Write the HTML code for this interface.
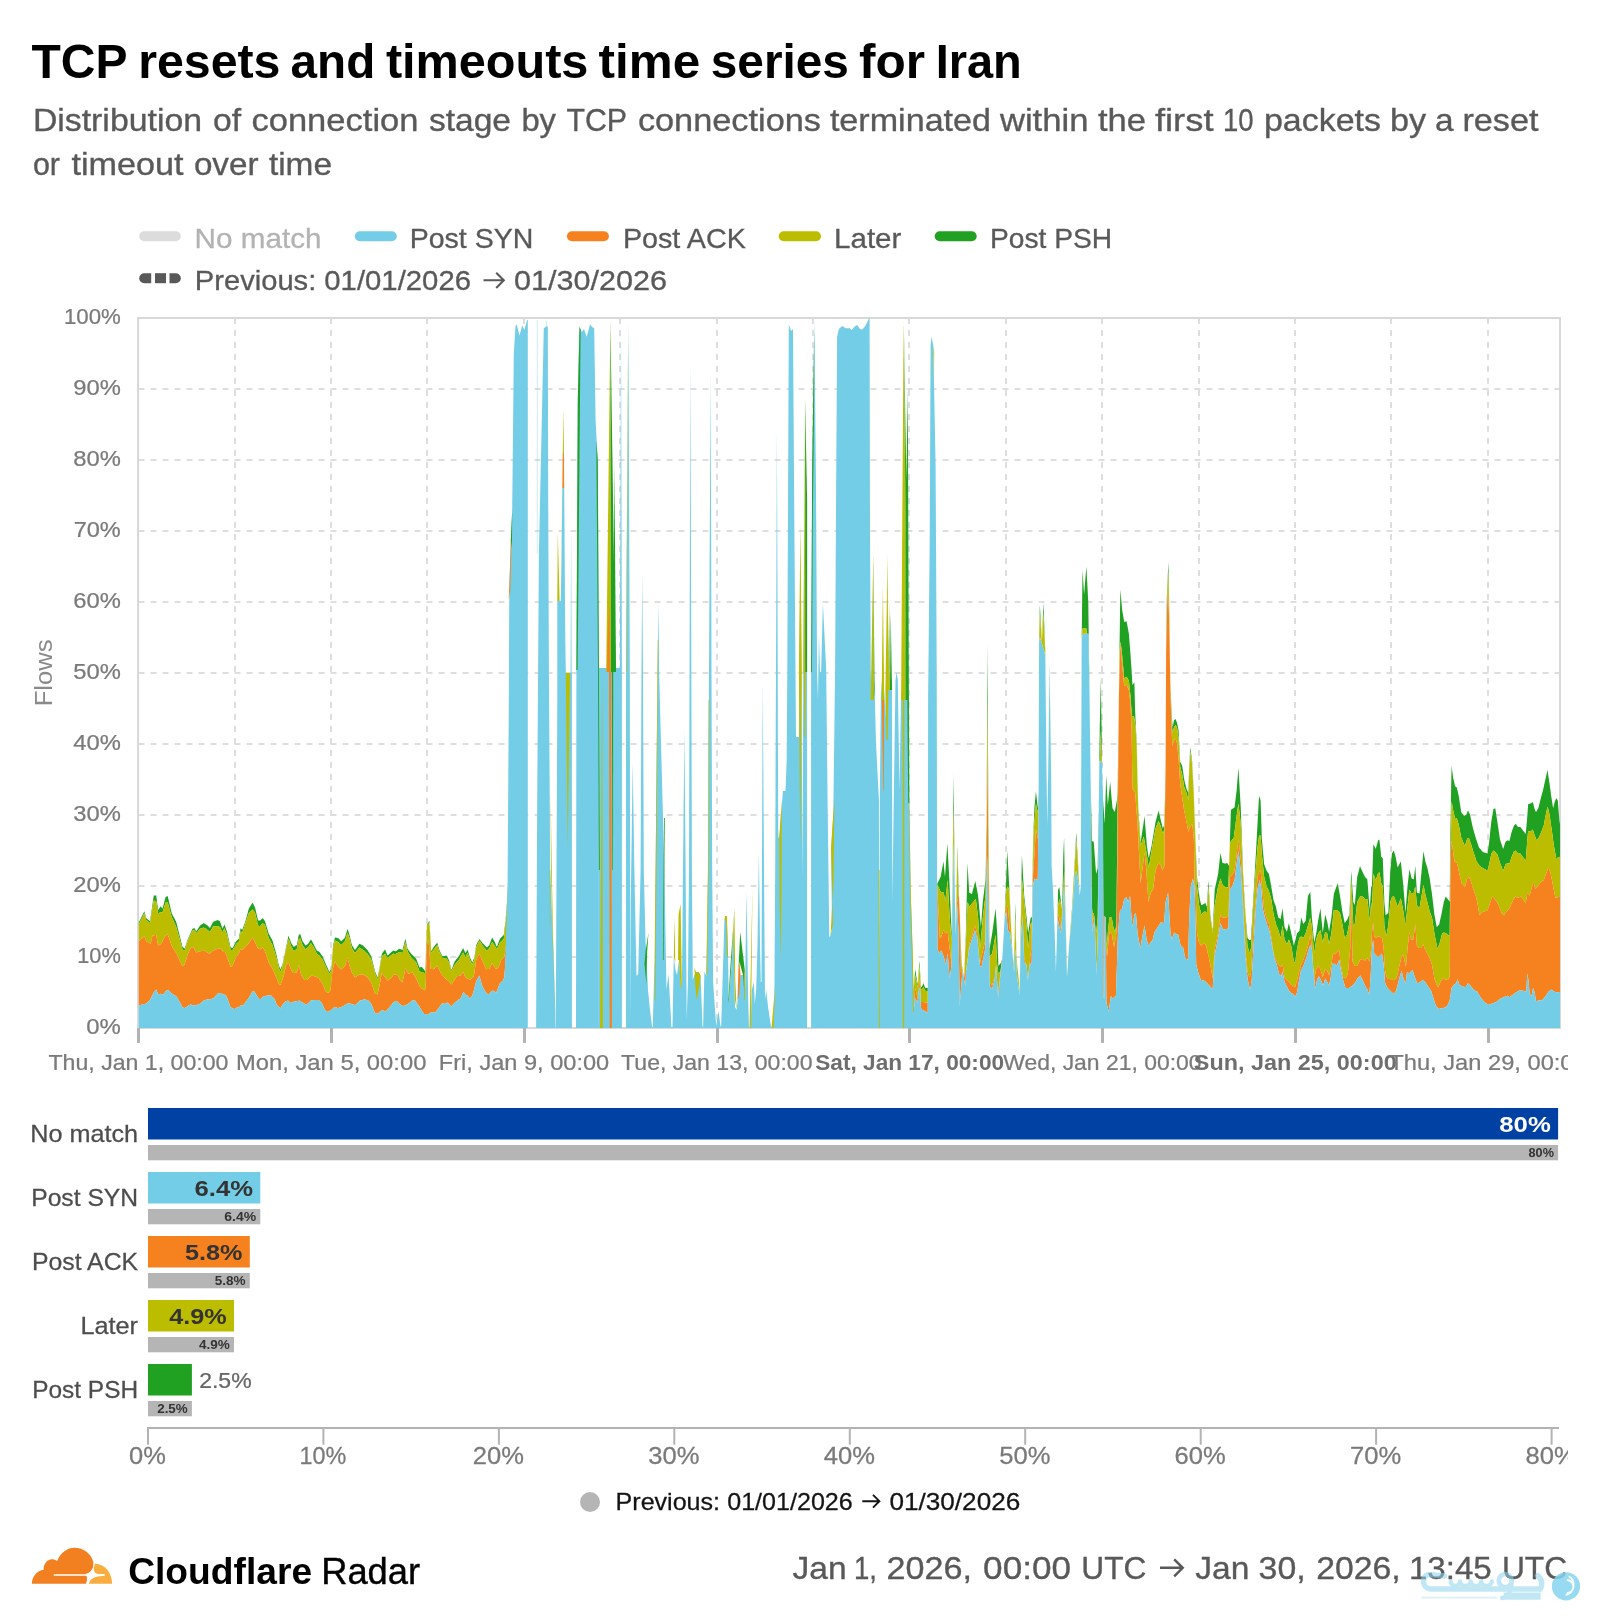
<!DOCTYPE html>
<html><head><meta charset="utf-8"><title>TCP resets and timeouts time series for Iran</title>
<style>html,body{margin:0;padding:0;background:#fff;}body{width:1600px;height:1620px;overflow:hidden;font-family:"Liberation Sans",sans-serif;}svg{display:block;will-change:transform;font-family:"Liberation Sans",sans-serif;}</style>
</head><body>
<svg width="1600" height="1620" viewBox="0 0 1600 1620">
<rect width="1600" height="1620" fill="#ffffff"/>
<text x="31.5" y="78.0" font-size="49" fill="#000" font-weight="bold" textLength="96.0" lengthAdjust="spacingAndGlyphs" >TCP</text><text x="138.2" y="78.0" font-size="49" fill="#000" font-weight="bold" textLength="142.3" lengthAdjust="spacingAndGlyphs" >resets</text><text x="290.6" y="78.0" font-size="49" fill="#000" font-weight="bold" textLength="84.7" lengthAdjust="spacingAndGlyphs" >and</text><text x="385.9" y="78.0" font-size="49" fill="#000" font-weight="bold" textLength="202.5" lengthAdjust="spacingAndGlyphs" >timeouts</text><text x="598.6" y="78.0" font-size="49" fill="#000" font-weight="bold" textLength="101.6" lengthAdjust="spacingAndGlyphs" >time</text><text x="710.8" y="78.0" font-size="49" fill="#000" font-weight="bold" textLength="138.1" lengthAdjust="spacingAndGlyphs" >series</text><text x="859.1" y="78.0" font-size="49" fill="#000" font-weight="bold" textLength="66.0" lengthAdjust="spacingAndGlyphs" >for</text><text x="935.7" y="78.0" font-size="49" fill="#000" font-weight="bold" textLength="86.1" lengthAdjust="spacingAndGlyphs" >Iran</text>
<text x="32.9" y="131.0" font-size="32" fill="#595959" font-weight="normal" textLength="169.1" lengthAdjust="spacingAndGlyphs"  stroke="#595959" stroke-width="0.35">Distribution</text><text x="212.9" y="131.0" font-size="32" fill="#595959" font-weight="normal" textLength="28.1" lengthAdjust="spacingAndGlyphs"  stroke="#595959" stroke-width="0.35">of</text><text x="251.4" y="131.0" font-size="32" fill="#595959" font-weight="normal" textLength="167.1" lengthAdjust="spacingAndGlyphs"  stroke="#595959" stroke-width="0.35">connection</text><text x="428.9" y="131.0" font-size="32" fill="#595959" font-weight="normal" textLength="82.1" lengthAdjust="spacingAndGlyphs"  stroke="#595959" stroke-width="0.35">stage</text><text x="521.4" y="131.0" font-size="32" fill="#595959" font-weight="normal" textLength="34.6" lengthAdjust="spacingAndGlyphs"  stroke="#595959" stroke-width="0.35">by</text><text x="566.4" y="131.0" font-size="32" fill="#595959" font-weight="normal" textLength="60.6" lengthAdjust="spacingAndGlyphs"  stroke="#595959" stroke-width="0.35">TCP</text><text x="637.9" y="131.0" font-size="32" fill="#595959" font-weight="normal" textLength="183.1" lengthAdjust="spacingAndGlyphs"  stroke="#595959" stroke-width="0.35">connections</text><text x="829.9" y="131.0" font-size="32" fill="#595959" font-weight="normal" textLength="161.1" lengthAdjust="spacingAndGlyphs"  stroke="#595959" stroke-width="0.35">terminated</text><text x="999.9" y="131.0" font-size="32" fill="#595959" font-weight="normal" textLength="88.6" lengthAdjust="spacingAndGlyphs"  stroke="#595959" stroke-width="0.35">within</text><text x="1097.9" y="131.0" font-size="32" fill="#595959" font-weight="normal" textLength="48.1" lengthAdjust="spacingAndGlyphs"  stroke="#595959" stroke-width="0.35">the</text><text x="1154.9" y="131.0" font-size="32" fill="#595959" font-weight="normal" textLength="58.6" lengthAdjust="spacingAndGlyphs"  stroke="#595959" stroke-width="0.35">first</text><text x="1222.9" y="131.0" font-size="32" fill="#595959" font-weight="normal" textLength="30.6" lengthAdjust="spacingAndGlyphs"  stroke="#595959" stroke-width="0.35">10</text><text x="1263.9" y="131.0" font-size="32" fill="#595959" font-weight="normal" textLength="117.1" lengthAdjust="spacingAndGlyphs"  stroke="#595959" stroke-width="0.35">packets</text><text x="1389.9" y="131.0" font-size="32" fill="#595959" font-weight="normal" textLength="36.1" lengthAdjust="spacingAndGlyphs"  stroke="#595959" stroke-width="0.35">by</text><text x="1434.9" y="131.0" font-size="32" fill="#595959" font-weight="normal" textLength="18.6" lengthAdjust="spacingAndGlyphs"  stroke="#595959" stroke-width="0.35">a</text><text x="1462.4" y="131.0" font-size="32" fill="#595959" font-weight="normal" textLength="76.1" lengthAdjust="spacingAndGlyphs"  stroke="#595959" stroke-width="0.35">reset</text>
<text x="32.9" y="175.0" font-size="32" fill="#595959" font-weight="normal" textLength="27.1" lengthAdjust="spacingAndGlyphs"  stroke="#595959" stroke-width="0.35">or</text><text x="71.4" y="175.0" font-size="32" fill="#595959" font-weight="normal" textLength="112.1" lengthAdjust="spacingAndGlyphs"  stroke="#595959" stroke-width="0.35">timeout</text><text x="193.9" y="175.0" font-size="32" fill="#595959" font-weight="normal" textLength="64.6" lengthAdjust="spacingAndGlyphs"  stroke="#595959" stroke-width="0.35">over</text><text x="268.9" y="175.0" font-size="32" fill="#595959" font-weight="normal" textLength="63.1" lengthAdjust="spacingAndGlyphs"  stroke="#595959" stroke-width="0.35">time</text>
<line x1="144.2" y1="236.2" x2="175.8" y2="236.2" stroke="#dcdcdc" stroke-width="10" stroke-linecap="round"/>
<text x="194.5" y="247.5" font-size="28" fill="#b3b3b3" font-weight="normal" textLength="127.0" lengthAdjust="spacingAndGlyphs"  stroke="#b3b3b3" stroke-width="0.31">No match</text>
<line x1="359.8" y1="236.2" x2="391.8" y2="236.2" stroke="#73cde6" stroke-width="10" stroke-linecap="round"/>
<text x="409.7" y="247.5" font-size="28" fill="#595959" font-weight="normal" textLength="123.7" lengthAdjust="spacingAndGlyphs"  stroke="#595959" stroke-width="0.31">Post SYN</text>
<line x1="571.9" y1="236.2" x2="603.9" y2="236.2" stroke="#f6821f" stroke-width="10" stroke-linecap="round"/>
<text x="622.9" y="247.5" font-size="28" fill="#595959" font-weight="normal" textLength="122.9" lengthAdjust="spacingAndGlyphs"  stroke="#595959" stroke-width="0.31">Post ACK</text>
<line x1="783.7" y1="236.2" x2="816" y2="236.2" stroke="#bdbd00" stroke-width="10" stroke-linecap="round"/>
<text x="834.0" y="247.5" font-size="28" fill="#595959" font-weight="normal" textLength="67.4" lengthAdjust="spacingAndGlyphs"  stroke="#595959" stroke-width="0.31">Later</text>
<line x1="939.7" y1="236.2" x2="971.7" y2="236.2" stroke="#21a121" stroke-width="10" stroke-linecap="round"/>
<text x="990.0" y="247.5" font-size="28" fill="#595959" font-weight="normal" textLength="122.1" lengthAdjust="spacingAndGlyphs"  stroke="#595959" stroke-width="0.31">Post PSH</text>
<g fill="#595959"><path d="M144.2 273.2h7v10h-7a5 5 0 0 1 0-10z"/><rect x="155" y="273.2" width="11" height="10"/><path d="M169.5 273.2h6.3a5 5 0 0 1 0 10h-6.3z"/></g>
<text x="194.8" y="290.0" font-size="28" fill="#595959" font-weight="normal" textLength="121.5" lengthAdjust="spacingAndGlyphs"  stroke="#595959" stroke-width="0.31">Previous:</text><text x="324.3" y="290.0" font-size="28" fill="#595959" font-weight="normal" textLength="146.7" lengthAdjust="spacingAndGlyphs"  stroke="#595959" stroke-width="0.31">01/01/2026</text><text x="514.0" y="290.0" font-size="28" fill="#595959" font-weight="normal" textLength="153.0" lengthAdjust="spacingAndGlyphs"  stroke="#595959" stroke-width="0.31">01/30/2026</text>
<path d="M483.5 280.3H503.4M496.2 272.7L503.8 280.3L496.2 287.9" fill="none" stroke="#595959" stroke-width="2.1" stroke-linejoin="miter"/>
<g stroke="#dedede" stroke-width="2" stroke-dasharray="6 6" fill="none"><line x1="138.5" y1="957.0" x2="1560.0" y2="957.0"/><line x1="138.5" y1="886.0" x2="1560.0" y2="886.0"/><line x1="138.5" y1="815.0" x2="1560.0" y2="815.0"/><line x1="138.5" y1="744.0" x2="1560.0" y2="744.0"/><line x1="138.5" y1="673.0" x2="1560.0" y2="673.0"/><line x1="138.5" y1="602.0" x2="1560.0" y2="602.0"/><line x1="138.5" y1="531.0" x2="1560.0" y2="531.0"/><line x1="138.5" y1="460.0" x2="1560.0" y2="460.0"/><line x1="138.5" y1="389.0" x2="1560.0" y2="389.0"/><line x1="235" y1="318.0" x2="235" y2="1028.0"/><line x1="331" y1="318.0" x2="331" y2="1028.0"/><line x1="427" y1="318.0" x2="427" y2="1028.0"/><line x1="524" y1="318.0" x2="524" y2="1028.0"/><line x1="620" y1="318.0" x2="620" y2="1028.0"/><line x1="717" y1="318.0" x2="717" y2="1028.0"/><line x1="813" y1="318.0" x2="813" y2="1028.0"/><line x1="909" y1="318.0" x2="909" y2="1028.0"/><line x1="1006" y1="318.0" x2="1006" y2="1028.0"/><line x1="1102" y1="318.0" x2="1102" y2="1028.0"/><line x1="1199" y1="318.0" x2="1199" y2="1028.0"/><line x1="1295" y1="318.0" x2="1295" y2="1028.0"/><line x1="1391" y1="318.0" x2="1391" y2="1028.0"/><line x1="1488" y1="318.0" x2="1488" y2="1028.0"/></g>
<rect x="138.1" y="318" width="1421.9" height="710" fill="none" stroke="#d8d8d8" stroke-width="2"/>
<defs><clipPath id="cp"><rect x="138.5" y="318" width="1421.7" height="710.3"/></clipPath></defs>
<g clip-path="url(#cp)" shape-rendering="geometricPrecision">
<path d="M138.5 923L139.5 921L140.5 919L141.5 917L142.5 915L143.5 913L144.4 911.3L144.5 911.7L145.5 915.4L146.2 918.1L146.5 918.3L147.5 919.2L148.5 920L149.5 920.8L150 921.2L150.5 917.8L150.6 917L151.5 911L152.5 904.2L153.5 897.3L153.8 895.6L154.5 895.6L155.5 895.6L156.2 895.6L156.5 897.5L157.5 905.2L158.1 910L158.5 909.4L159.5 907.9L160.5 906.4L160.6 906.3L161.2 907.1L161.5 907.4L162.5 908.8L163.1 906.4L163.5 905L164.5 901.1L165 899.2L165.5 897.4L165.6 896.9L166.2 896.7L166.5 896.6L167.5 896.3L167.8 896.2L168.1 897.8L168.5 899.4L169.5 903.7L170.5 907.9L171.2 911.1L171.5 912.2L171.9 913.8L172.5 914.9L173.5 916.8L174.5 918.6L175.5 920.5L176.2 921.9L176.5 922.9L177.5 926.9L178.5 930.9L179.4 934.4L179.5 934.9L180.5 938.9L181.5 942.9L182.5 946.9L183.5 947.8L184.4 948.5L184.5 948.6L184.6 948.7L185.5 946.1L186.5 943L187.5 940L188.5 937.8L189.5 935.5L190.5 933.2L190.6 933L191.5 931L192.5 928.8L193.1 928.5L193.5 928.4L194.4 928.1L194.5 928.3L195.5 930L196.2 931.2L196.5 930.9L197.5 929.4L198.5 927.9L199.5 926.4L200 925.6L200.5 925.3L201.5 924.6L202.5 924L203.5 923.3L203.8 923.1L204.4 923.5L204.5 923.6L205.5 924.2L206.5 924.8L206.9 925L207.5 925.6L208.5 926.6L209.4 927.5L209.5 927.6L210 928.1L210.5 927.1L211.5 925.1L212.5 923.1L213.1 921.9L213.5 921.7L213.8 921.6L214.5 921.3L215.5 920.9L216.5 920.4L217.5 920L218.5 920.5L219.5 921L220 921.2L220.5 922.8L221.2 925L221.5 925.8L222.5 928.8L223.1 927.3L223.5 926.4L224.4 924.4L224.5 924.7L225 926.1L225.5 927.5L225.6 927.8L226.5 930.2L226.9 931.3L227.5 934L228.1 936.6L228.5 938.3L229.5 942.6L230.5 947L230.6 947.5L231.5 947.8L232.5 948.1L233.5 946.3L234.4 944.7L234.5 944.5L235.5 942.6L236.2 941.2L236.5 941L236.9 940.6L237.5 940L238.5 939L238.8 938.8L239.5 934.5L240.5 928.8L240.6 928.2L241.2 928.8L241.5 929.1L242.2 930L242.5 929.3L243.1 927.6L243.5 926.5L244.5 923.8L245.5 921L245.6 920.6L246.2 918.2L246.5 917.3L247.5 913.5L248.5 909.7L248.8 908.8L249.4 907.7L249.5 907.5L250.5 905.8L251.5 904.2L252.5 902.5L253.5 904.5L254.4 906.3L254.5 906.5L255 907.5L255.5 909.6L256.5 913.8L256.9 915.4L257.5 918L258.1 920.6L258.5 920.6L259.4 920.6L259.5 920.6L260 920.6L260.5 920.2L260.6 920.1L261.5 919.3L262.5 918.4L262.8 918.1L263.1 918.6L263.5 919.2L264.5 920.6L265 921.2L265.5 922.9L266.5 926.2L267.5 929.6L268.5 932.9L268.8 933.8L269.5 935.1L270.5 937L271.2 938.3L271.5 938.8L272.5 940.6L273.5 944.1L274.4 947.2L274.5 947.6L275.5 951.1L276.2 953.8L276.5 954.9L276.9 956.6L277.5 959.4L278.5 963.9L278.8 965L279.5 967L280.2 969L280.4 969.4L280.5 969.1L281.5 966.7L282.5 964.4L283.1 961.4L283.5 959.6L284.5 954.9L285 952.5L285.5 950.1L285.6 949.5L286.2 946.5L286.5 945.3L287.5 940.4L288.1 937.5L288.5 935.6L289.5 938.4L290.5 941.1L290.6 941.4L291.2 943.1L291.5 943.5L292.5 945L293.1 945.9L293.5 946.5L293.8 946.9L294.5 946.4L295.5 945.8L296.2 945.4L296.5 945.2L296.9 945L297.5 941.7L298.5 936.3L298.8 935L299.4 934.6L299.5 934.5L300.2 934L300.5 934.8L301.2 937.2L301.5 938L302.5 941.2L303.5 942.6L304.4 943.9L304.5 944L305.5 945.5L305.6 945.6L306.2 945.2L306.5 945L306.9 944.7L307.5 944.2L308.1 943.8L308.5 943.2L308.8 942.8L309.5 941.7L310.5 940.1L311 939.4L311.2 939.8L311.5 940.3L312.5 942.1L313.5 943.9L313.8 944.4L314.5 945.9L315 946.9L315.5 947.9L316.5 949.9L316.9 950.6L317.5 950.9L318.5 951.4L318.8 951.6L319.4 951.9L319.5 952L320.5 953.5L321.5 954.9L321.9 955.4L322.5 956.2L323.5 958.6L324.5 960.9L325 962.1L325.5 963.2L325.6 963.5L326.2 965L326.5 965.5L327.5 967.8L328.1 969.1L328.5 970L329.4 971.9L329.5 971.7L330.5 970L330.6 969.8L331.2 968.8L331.5 965.6L332.5 952.9L333.1 945.1L333.5 943.5L334.5 939.5L335 937.5L335.5 937.6L336.5 937.8L337.5 938L338.1 938.1L338.5 938.5L339.5 939.5L340.5 940.5L341.2 941.2L341.5 941L342.5 940L343.5 939L344.5 938L345 937.5L345.5 935.8L346.5 932.2L347.5 928.8L348.5 931.8L349.4 934.4L349.5 934.9L350.5 939.2L351.2 942.3L351.5 943.4L351.9 945L352.5 946L353.5 947.6L354.5 949.2L355 950L355.5 949.3L356.5 947.9L357.5 946.4L358.5 945L359.4 943.8L359.5 943.8L360 944.1L360.5 944.3L361.5 944.8L362.5 945.3L363.1 945.6L363.5 946L364.4 946.9L364.5 947L365.5 948L366.5 949L367.5 950L368.1 951L368.5 951.7L369.5 953.3L370.5 955L371.2 956.2L371.5 957.2L372.5 961.2L373.5 965.2L374.5 969.2L375 971.2L375.5 972.5L376.5 975L377.5 977.5L378.5 972.8L379.4 968.7L379.5 968L380.5 962L380.6 961.3L381.5 956L381.9 953.7L382.5 952.9L383.1 952L383.5 951.5L384.4 950.2L384.5 950.1L385 949.4L385.5 950.6L386.5 953.1L387.5 955.6L388.5 954.7L388.8 954.5L389.5 953.8L390.5 953L391.2 952.3L391.5 952.1L392.5 951.2L393.1 950.6L393.5 950.7L393.8 950.8L394.5 951L395.5 951.2L395.6 951.2L396.5 950.7L396.9 950.4L397.5 950L398.5 949.3L399.4 948.8L399.5 948.8L400 949L400.5 949.2L401.5 949.6L402.5 950L403.1 947.6L403.5 946.1L404.5 942.2L405.4 938.8L405.5 939.3L406.5 944L407.5 948.8L408.1 949.6L408.5 950.1L409.5 951.4L410.5 952.8L411.2 953.8L411.5 954L412.5 955L413.5 956L414.5 957L415 957.5L415.5 958L416.2 958.8L416.5 959.5L417.5 962.2L418.5 965L418.8 965.8L419.4 967.5L419.5 967.5L420 967.3L420.5 967.2L421.5 967L421.9 966.9L422.5 967.7L423.5 969L423.8 969.3L424.4 970.1L424.5 970.3L425.2 971.2L425.5 964.1L425.6 960.7L426.5 935.7L426.9 925L427.5 923.9L428.5 922.2L429.4 920.7L429.5 922.6L430.5 938.1L430.6 939.9L431.2 951.2L431.5 950.8L432.5 949.1L433.5 947.3L433.8 946.9L434.5 945.9L435 945.3L435.5 944.7L436.5 943.4L437.2 942.5L437.5 943.4L438.5 946.9L438.8 947.8L439.4 950L439.5 950.2L440.5 952.2L441.2 953.8L441.5 954.2L441.9 955L442.5 956.2L443.5 956.1L444.5 956L445 955.9L445.5 955.8L445.6 955.8L446.5 955.7L446.9 955.6L447.5 957L448.5 959.3L448.8 959.8L449.4 961.3L449.5 961.8L450.5 965.9L451.2 969L451.5 970L452.5 967.2L453.5 964.3L454.4 961.9L454.5 961.7L455.5 960.4L456.5 959.1L456.9 958.7L457.5 957.9L458.1 957.1L458.5 956.6L458.8 956.2L459.5 954.9L460 953.9L460.5 953L460.6 952.8L461.5 951.1L462.5 949.3L463.1 948.1L463.5 948.9L464.5 950.9L465.5 952.9L465.6 953.1L466.5 951.4L467.5 949.4L468.5 952.6L469.5 955.9L470 957.5L470.5 958.6L471.5 960.8L472.2 962.5L472.5 961.9L473.5 959.6L473.8 959L474.4 957.5L474.5 956.7L475.5 950L476.2 945L476.5 944.5L477.5 942.6L478.5 940.8L479.4 939.1L479.5 939.3L480.5 940.5L481.5 941.7L481.9 942.2L482.5 943L483.1 943.7L483.5 944.1L484.5 945.1L485 945.6L485.5 946.1L486.2 946.9L486.5 947.1L486.9 947.5L487.5 946.9L488.5 945.9L489.4 945L489.5 944.7L490.5 941.9L491.2 939.9L491.5 939.2L492.1 937.5L492.5 938.1L493.1 939.2L493.5 939.8L494.4 941.3L494.5 941.5L495.5 943.8L495.6 944.1L496.2 945.5L496.5 946L496.9 946.9L497.5 945.2L498.1 943.6L498.5 942.6L499.5 940L500 938.8L500.5 938.2L501.2 937.5L501.5 937.2L502.5 936.2L503.1 935.6L503.5 935.2L503.8 935L504.4 930L504.5 929L505.5 921L505.6 920L506.2 911.7L506.5 908.3L506.9 903.3L507.5 895L507.8 888.8L508.1 879.5L508.5 870L508.5 873.8L508.1 885.1L507.8 896.2L507.5 899.3L506.9 907L506.5 911.7L506.2 914.8L505.6 922.5L505.5 923.6L504.5 932.2L504.4 933.3L503.8 938.8L503.5 939L503.1 939.4L502.5 940L501.5 941L501.2 941.2L500.5 942L500 942.5L499.5 943.6L498.5 945.8L498.1 946.6L497.5 948L496.9 949.4L496.5 948.7L496.2 948.3L495.6 947.2L495.5 947L494.5 945.2L494.4 945L493.5 943.8L493.1 943.3L492.5 942.4L492.1 941.9L491.5 943.3L491.2 943.9L490.5 945.6L489.5 947.8L489.4 948.1L488.5 949L487.5 950L486.9 950.6L486.5 950.2L486.2 949.9L485.5 949L485 948.4L484.5 947.9L483.5 946.7L483.1 946.2L482.5 945.3L481.9 944.4L481.5 943.8L480.5 942.3L479.5 940.8L479.4 940.6L478.5 942.4L477.5 944.4L476.5 946.4L476.2 946.9L475.5 951.9L474.5 958.5L474.4 959.3L473.8 960.8L473.5 961.4L472.5 963.8L472.2 964.4L471.5 962.9L470.5 961L470 960L469.5 958.5L468.5 955.5L467.5 952.5L466.5 955.2L465.6 957.5L465.5 957.2L464.5 955.2L463.5 953.2L463.1 952.5L462.5 953.6L461.5 955.3L460.6 956.8L460.5 957L460 957.9L459.5 958.7L458.8 960L458.5 960.3L458.1 960.7L457.5 961.4L456.9 962.1L456.5 962.6L455.5 963.7L454.5 964.9L454.4 965L453.5 966.9L452.5 969.1L451.5 971.2L451.2 970.3L450.5 967.4L449.5 963.6L449.4 963.1L448.8 962L448.5 961.6L447.5 959.8L446.9 958.8L446.5 958.7L445.6 958.6L445.5 958.6L445 958.5L444.5 958.4L443.5 958.3L442.5 958.1L441.9 956.9L441.5 956.1L441.2 955.6L440.5 954.1L439.5 952.1L439.4 951.9L438.8 949.9L438.5 949L437.5 945.8L437.2 945L436.5 945.9L435.5 947.2L435 947.8L434.5 948.4L433.8 949.4L433.5 949.8L432.5 951.2L431.5 952.8L431.2 953.1L430.6 941.2L430.5 939.4L429.5 924.4L429.4 922.6L428.5 923.8L427.5 925.3L426.9 926.2L426.5 937.1L425.6 962.5L425.5 965.9L425.2 973.1L424.5 973L424.4 973L423.8 972.8L423.5 972.8L422.5 972.6L421.9 972.5L421.5 972.3L420.5 971.8L420 971.6L419.5 971.3L419.4 971.3L418.8 969.5L418.5 968.8L417.5 966L416.5 963.2L416.2 962.5L415.5 961.8L415 961.2L414.5 960.8L413.5 959.8L412.5 958.8L411.5 957.8L411.2 957.5L410.5 956.2L409.5 954.6L408.5 952.9L408.1 952.3L407.5 951.2L406.5 946.8L405.5 942.4L405.4 941.9L404.5 945.3L403.5 949.2L403.1 950.7L402.5 953.1L401.5 952.7L400.5 952.3L400 952.1L399.5 951.9L399.4 951.9L398.5 952.4L397.5 952.9L396.9 953.3L396.5 953.5L395.6 954L395.5 954L394.5 953.9L393.8 953.8L393.5 953.8L393.1 953.8L392.5 954.2L391.5 955L391.2 955.2L390.5 955.8L389.5 956.6L388.8 957.2L388.5 957.3L387.5 958.1L386.5 956.4L385.5 954.6L385 953.8L384.5 954.1L384.4 954.2L383.5 955L383.1 955.3L382.5 955.8L381.9 956.2L381.5 958.3L380.6 963.2L380.5 963.8L379.5 969.3L379.4 970L378.5 974.4L377.5 979.4L376.5 976.9L375.5 974.4L375 973.1L374.5 971.3L373.5 967.6L372.5 964L371.5 960.3L371.2 959.4L370.5 958.2L369.5 956.8L368.5 955.2L368.1 954.7L367.5 953.8L366.5 952.9L365.5 952L364.5 951.2L364.4 951.1L363.5 950.3L363.1 950L362.5 949.6L361.5 948.9L360.5 948.2L360 947.9L359.5 947.6L359.4 947.5L358.5 948.6L357.5 949.9L356.5 951.2L355.5 952.5L355 953.1L354.5 952.3L353.5 950.7L352.5 949.1L351.9 948.1L351.5 946.5L351.2 945.5L350.5 942.3L349.5 938L349.4 937.5L348.5 935.2L347.5 932.5L346.5 936L345.5 939.5L345 941.2L344.5 941.8L343.5 942.8L342.5 943.8L341.5 944.8L341.2 945L340.5 944.2L339.5 943.2L338.5 942.2L338.1 941.9L337.5 941.6L336.5 941.2L335.5 940.8L335 940.6L334.5 942.3L333.5 945.6L333.1 946.9L332.5 954.8L331.5 967.5L331.2 970.6L330.6 971.7L330.5 971.9L329.5 973.5L329.4 973.7L328.5 972L328.1 971.2L327.5 970L326.5 968L326.2 967.5L325.6 966.1L325.5 965.9L325 964.8L324.5 963.7L323.5 961.5L322.5 959.4L321.9 958.6L321.5 958.2L320.5 957L319.5 955.8L319.4 955.6L318.8 955.2L318.5 955L317.5 954.2L316.9 953.8L316.5 953L315.5 951L315 950L314.5 949L313.8 947.5L313.5 947.1L312.5 945.5L311.5 943.9L311.2 943.5L311 943.1L310.5 943.8L309.5 945.1L308.8 946.1L308.5 946.4L308.1 946.9L307.5 947.5L306.9 948.1L306.5 948.5L306.2 948.8L305.6 949.4L305.5 949.2L304.5 947.8L304.4 947.6L303.5 946.4L302.5 945L301.5 942.1L301.2 941.3L300.5 939.1L300.2 938.4L299.5 938.7L299.4 938.8L298.8 939.1L298.5 940.4L297.5 945.5L296.9 948.7L296.5 949L296.2 949.2L295.5 949.9L294.5 950.6L293.8 951.2L293.5 950.8L293.1 950L292.5 948.8L291.5 946.8L291.2 946.2L290.6 944.5L290.5 944.2L289.5 941.5L288.5 938.8L288.1 940.4L287.5 943L286.5 947.3L286.2 948.4L285.6 951.1L285.5 951.6L285 953.8L284.5 956.3L283.5 961.3L283.1 963.2L282.5 966.3L281.5 968.9L280.5 971.5L280.4 971.9L280.2 971.6L279.5 969.7L278.8 967.7L278.5 966.7L277.5 962.3L276.9 959.6L276.5 958L276.2 956.9L275.5 954.5L274.5 951.3L274.4 951L273.5 948.2L272.5 945L271.5 943.2L271.2 942.7L270.5 941.3L269.5 939.5L268.8 938.1L268.5 937.2L267.5 933.8L266.5 930.2L265.5 926.8L265 925L264.5 924.6L263.5 923.8L263.1 923.4L262.8 923.1L262.5 923.4L261.5 924.5L260.6 925.5L260.5 925.7L260 926.2L259.5 926.1L259.4 926L258.5 925.8L258.1 925.6L257.5 923L256.9 920.4L256.5 918.8L255.5 914.6L255 912.5L254.5 911.9L254.4 911.7L253.5 910.6L252.5 909.4L251.5 910.4L250.5 911.4L249.5 912.4L249.4 912.5L248.8 913.1L248.5 913.9L247.5 916.9L246.5 919.9L246.2 920.6L245.6 922.5L245.5 922.9L244.5 925.9L243.5 928.9L243.1 930.1L242.5 932L242.2 932.7L241.5 932L241.2 931.8L240.6 931.3L240.5 931.9L239.5 937.5L238.8 941.6L238.5 941.8L237.5 942.7L236.9 943.2L236.5 943.5L236.2 943.8L235.5 945L234.5 946.7L234.4 946.9L233.5 948.3L232.5 950L231.5 950L230.6 950L230.5 949.5L229.5 945.3L228.5 941.1L228.1 939.6L227.5 937L226.9 934.4L226.5 933.4L225.6 931.2L225.5 930.9L225 929.7L224.5 928.4L224.4 928.1L223.5 930.2L223.1 931.1L222.5 932.5L221.5 930.2L221.2 929.7L220.5 928L220 926.9L219.5 926.8L218.5 926.5L217.5 926.2L216.5 926.2L215.5 926.2L214.5 926.2L213.8 926.2L213.5 926.2L213.1 926.3L212.5 927.4L211.5 929.2L210.5 931L210 931.9L209.5 931.5L209.4 931.4L208.5 930.7L207.5 929.9L206.9 929.4L206.5 929.1L205.5 928.5L204.5 928L204.4 927.9L203.8 927.5L203.5 927.6L202.5 927.9L201.5 928.2L200.5 928.6L200 928.8L199.5 929.3L198.5 930.5L197.5 931.7L196.5 932.8L196.2 933.1L195.5 931.9L194.5 930.2L194.4 930L193.5 930.3L193.1 930.4L192.5 930.6L191.5 932.8L190.6 934.6L190.5 934.9L189.5 937L188.5 939.1L187.5 941.2L186.5 944.5L185.5 947.8L184.6 950.6L184.5 950.6L184.4 950.5L183.5 950L182.5 949.4L181.5 945.8L180.5 942.2L179.5 938.6L179.4 938.1L178.5 935L177.5 931.4L176.5 927.8L176.2 926.9L175.5 925.3L174.5 923.1L173.5 921L172.5 918.8L171.9 917.5L171.5 916.1L171.2 915.2L170.5 912.5L169.5 908.9L168.5 905.2L168.1 903.8L167.8 902.5L167.5 902.5L166.5 902.5L166.2 902.5L165.6 902.5L165.5 902.9L165 904.5L164.5 906.1L163.5 909.3L163.1 910.5L162.5 912.5L161.5 912.2L161.2 912.1L160.6 911.9L160.5 912L159.5 912.7L158.5 913.5L158.1 913.7L157.5 909.6L156.5 902.9L156.2 901.2L155.5 901.1L154.5 900.8L153.8 900.6L153.5 902.1L152.5 908.1L151.5 914.1L150.6 919.4L150.5 920.1L150 923.1L149.5 922.7L148.5 921.9L147.5 921L146.5 920.2L146.2 920L145.5 917.2L144.5 913.6L144.4 913.1L143.5 914.9L142.5 916.9L141.5 918.9L140.5 920.9L139.5 922.9L138.5 924.9Z" fill="#21a121"/>
<path d="M138.5 924.9L139.5 922.9L140.5 920.9L141.5 918.9L142.5 916.9L143.5 914.9L144.4 913.1L144.5 913.6L145.5 917.2L146.2 920L146.5 920.2L147.5 921L148.5 921.9L149.5 922.7L150 923.1L150.5 920.1L150.6 919.4L151.5 914.1L152.5 908.1L153.5 902.1L153.8 900.6L154.5 900.8L155.5 901.1L156.2 901.2L156.5 902.9L157.5 909.6L158.1 913.7L158.5 913.5L159.5 912.7L160.5 912L160.6 911.9L161.2 912.1L161.5 912.2L162.5 912.5L163.1 910.5L163.5 909.3L164.5 906.1L165 904.5L165.5 902.9L165.6 902.5L166.2 902.5L166.5 902.5L167.5 902.5L167.8 902.5L168.1 903.8L168.5 905.2L169.5 908.9L170.5 912.5L171.2 915.2L171.5 916.1L171.9 917.5L172.5 918.8L173.5 921L174.5 923.1L175.5 925.3L176.2 926.9L176.5 927.8L177.5 931.4L178.5 935L179.4 938.1L179.5 938.6L180.5 942.2L181.5 945.8L182.5 949.4L183.5 950L184.4 950.5L184.5 950.6L184.6 950.6L185.5 947.8L186.5 944.5L187.5 941.2L188.5 939.1L189.5 937L190.5 934.9L190.6 934.6L191.5 932.8L192.5 930.6L193.1 930.4L193.5 930.3L194.4 930L194.5 930.2L195.5 931.9L196.2 933.1L196.5 932.8L197.5 931.7L198.5 930.5L199.5 929.3L200 928.8L200.5 928.6L201.5 928.2L202.5 927.9L203.5 927.6L203.8 927.5L204.4 927.9L204.5 928L205.5 928.5L206.5 929.1L206.9 929.4L207.5 929.9L208.5 930.7L209.4 931.4L209.5 931.5L210 931.9L210.5 931L211.5 929.2L212.5 927.4L213.1 926.3L213.5 926.2L213.8 926.2L214.5 926.2L215.5 926.2L216.5 926.2L217.5 926.2L218.5 926.5L219.5 926.8L220 926.9L220.5 928L221.2 929.7L221.5 930.2L222.5 932.5L223.1 931.1L223.5 930.2L224.4 928.1L224.5 928.4L225 929.7L225.5 930.9L225.6 931.2L226.5 933.4L226.9 934.4L227.5 937L228.1 939.6L228.5 941.1L229.5 945.3L230.5 949.5L230.6 950L231.5 950L232.5 950L233.5 948.3L234.4 946.9L234.5 946.7L235.5 945L236.2 943.8L236.5 943.5L236.9 943.2L237.5 942.7L238.5 941.8L238.8 941.6L239.5 937.5L240.5 931.9L240.6 931.3L241.2 931.8L241.5 932L242.2 932.7L242.5 932L243.1 930.1L243.5 928.9L244.5 925.9L245.5 922.9L245.6 922.5L246.2 920.6L246.5 919.9L247.5 916.9L248.5 913.9L248.8 913.1L249.4 912.5L249.5 912.4L250.5 911.4L251.5 910.4L252.5 909.4L253.5 910.6L254.4 911.7L254.5 911.9L255 912.5L255.5 914.6L256.5 918.8L256.9 920.4L257.5 923L258.1 925.6L258.5 925.8L259.4 926L259.5 926.1L260 926.2L260.5 925.7L260.6 925.5L261.5 924.5L262.5 923.4L262.8 923.1L263.1 923.4L263.5 923.8L264.5 924.6L265 925L265.5 926.8L266.5 930.2L267.5 933.8L268.5 937.2L268.8 938.1L269.5 939.5L270.5 941.3L271.2 942.7L271.5 943.2L272.5 945L273.5 948.2L274.4 951L274.5 951.3L275.5 954.5L276.2 956.9L276.5 958L276.9 959.6L277.5 962.3L278.5 966.7L278.8 967.7L279.5 969.7L280.2 971.6L280.4 971.9L280.5 971.5L281.5 968.9L282.5 966.3L283.1 963.2L283.5 961.3L284.5 956.3L285 953.8L285.5 951.6L285.6 951.1L286.2 948.4L286.5 947.3L287.5 943L288.1 940.4L288.5 938.8L289.5 941.5L290.5 944.2L290.6 944.5L291.2 946.2L291.5 946.8L292.5 948.8L293.1 950L293.5 950.8L293.8 951.2L294.5 950.6L295.5 949.9L296.2 949.2L296.5 949L296.9 948.7L297.5 945.5L298.5 940.4L298.8 939.1L299.4 938.8L299.5 938.7L300.2 938.4L300.5 939.1L301.2 941.3L301.5 942.1L302.5 945L303.5 946.4L304.4 947.6L304.5 947.8L305.5 949.2L305.6 949.4L306.2 948.8L306.5 948.5L306.9 948.1L307.5 947.5L308.1 946.9L308.5 946.4L308.8 946.1L309.5 945.1L310.5 943.8L311 943.1L311.2 943.5L311.5 943.9L312.5 945.5L313.5 947.1L313.8 947.5L314.5 949L315 950L315.5 951L316.5 953L316.9 953.8L317.5 954.2L318.5 955L318.8 955.2L319.4 955.6L319.5 955.8L320.5 957L321.5 958.2L321.9 958.6L322.5 959.4L323.5 961.5L324.5 963.7L325 964.8L325.5 965.9L325.6 966.1L326.2 967.5L326.5 968L327.5 970L328.1 971.2L328.5 972L329.4 973.7L329.5 973.5L330.5 971.9L330.6 971.7L331.2 970.6L331.5 967.5L332.5 954.8L333.1 946.9L333.5 945.6L334.5 942.3L335 940.6L335.5 940.8L336.5 941.2L337.5 941.6L338.1 941.9L338.5 942.2L339.5 943.2L340.5 944.2L341.2 945L341.5 944.8L342.5 943.8L343.5 942.8L344.5 941.8L345 941.2L345.5 939.5L346.5 936L347.5 932.5L348.5 935.2L349.4 937.5L349.5 938L350.5 942.3L351.2 945.5L351.5 946.5L351.9 948.1L352.5 949.1L353.5 950.7L354.5 952.3L355 953.1L355.5 952.5L356.5 951.2L357.5 949.9L358.5 948.6L359.4 947.5L359.5 947.6L360 947.9L360.5 948.2L361.5 948.9L362.5 949.6L363.1 950L363.5 950.3L364.4 951.1L364.5 951.2L365.5 952L366.5 952.9L367.5 953.8L368.1 954.7L368.5 955.2L369.5 956.8L370.5 958.2L371.2 959.4L371.5 960.3L372.5 964L373.5 967.6L374.5 971.3L375 973.1L375.5 974.4L376.5 976.9L377.5 979.4L378.5 974.4L379.4 970L379.5 969.3L380.5 963.8L380.6 963.2L381.5 958.3L381.9 956.2L382.5 955.8L383.1 955.3L383.5 955L384.4 954.2L384.5 954.1L385 953.8L385.5 954.6L386.5 956.4L387.5 958.1L388.5 957.3L388.8 957.2L389.5 956.6L390.5 955.8L391.2 955.2L391.5 955L392.5 954.2L393.1 953.8L393.5 953.8L393.8 953.8L394.5 953.9L395.5 954L395.6 954L396.5 953.5L396.9 953.3L397.5 952.9L398.5 952.4L399.4 951.9L399.5 951.9L400 952.1L400.5 952.3L401.5 952.7L402.5 953.1L403.1 950.7L403.5 949.2L404.5 945.3L405.4 941.9L405.5 942.4L406.5 946.8L407.5 951.2L408.1 952.3L408.5 952.9L409.5 954.6L410.5 956.2L411.2 957.5L411.5 957.8L412.5 958.8L413.5 959.8L414.5 960.8L415 961.2L415.5 961.8L416.2 962.5L416.5 963.2L417.5 966L418.5 968.8L418.8 969.5L419.4 971.3L419.5 971.3L420 971.6L420.5 971.8L421.5 972.3L421.9 972.5L422.5 972.6L423.5 972.8L423.8 972.8L424.4 973L424.5 973L425.2 973.1L425.5 965.9L425.6 962.5L426.5 937.1L426.9 926.2L427.5 925.3L428.5 923.8L429.4 922.6L429.5 924.4L430.5 939.4L430.6 941.2L431.2 953.1L431.5 952.8L432.5 951.2L433.5 949.8L433.8 949.4L434.5 948.4L435 947.8L435.5 947.2L436.5 945.9L437.2 945L437.5 945.8L438.5 949L438.8 949.9L439.4 951.9L439.5 952.1L440.5 954.1L441.2 955.6L441.5 956.1L441.9 956.9L442.5 958.1L443.5 958.3L444.5 958.4L445 958.5L445.5 958.6L445.6 958.6L446.5 958.7L446.9 958.8L447.5 959.8L448.5 961.6L448.8 962L449.4 963.1L449.5 963.6L450.5 967.4L451.2 970.3L451.5 971.2L452.5 969.1L453.5 966.9L454.4 965L454.5 964.9L455.5 963.7L456.5 962.6L456.9 962.1L457.5 961.4L458.1 960.7L458.5 960.3L458.8 960L459.5 958.7L460 957.9L460.5 957L460.6 956.8L461.5 955.3L462.5 953.6L463.1 952.5L463.5 953.2L464.5 955.2L465.5 957.2L465.6 957.5L466.5 955.2L467.5 952.5L468.5 955.5L469.5 958.5L470 960L470.5 961L471.5 962.9L472.2 964.4L472.5 963.8L473.5 961.4L473.8 960.8L474.4 959.3L474.5 958.5L475.5 951.9L476.2 946.9L476.5 946.4L477.5 944.4L478.5 942.4L479.4 940.6L479.5 940.8L480.5 942.3L481.5 943.8L481.9 944.4L482.5 945.3L483.1 946.2L483.5 946.7L484.5 947.9L485 948.4L485.5 949L486.2 949.9L486.5 950.2L486.9 950.6L487.5 950L488.5 949L489.4 948.1L489.5 947.8L490.5 945.6L491.2 943.9L491.5 943.3L492.1 941.9L492.5 942.4L493.1 943.3L493.5 943.8L494.4 945L494.5 945.2L495.5 947L495.6 947.2L496.2 948.3L496.5 948.7L496.9 949.4L497.5 948L498.1 946.6L498.5 945.8L499.5 943.6L500 942.5L500.5 942L501.2 941.2L501.5 941L502.5 940L503.1 939.4L503.5 939L503.8 938.8L504.4 933.3L504.5 932.2L505.5 923.6L505.6 922.5L506.2 914.8L506.5 911.7L506.9 907L507.5 899.3L507.8 896.2L508.1 885.1L508.5 873.8L508.5 880.5L508.1 896.4L507.8 907.2L507.5 914.6L506.9 932.8L506.5 942.5L506.2 944.2L505.6 948.5L505.5 949.3L504.5 956L504.4 956.8L503.8 957.5L503.5 957.8L503.1 958.1L502.5 958.8L501.5 959.8L501.2 960L500.5 962L500 963.2L499.5 964.5L498.5 967.1L498.1 968.1L497.5 968.3L496.9 968.4L496.5 968.5L496.2 968.6L495.6 968.7L495.5 968.5L494.5 966.9L494.4 966.7L493.5 965.3L493.1 964.7L492.5 963.7L492.1 963.1L491.5 964.4L491.2 964.9L490.5 966.4L489.5 968.5L489.4 968.7L488.5 968.9L487.5 969.1L486.9 969.2L486.5 969.3L486.2 969.4L485.5 967.8L485 966.7L484.5 965.6L483.5 963.4L483.1 962.6L482.5 961.2L481.9 959.8L481.5 958.9L480.5 956.5L479.5 954L479.4 953.8L478.5 955.5L477.5 957.5L476.5 959.5L476.2 960L475.5 964.9L474.5 971.4L474.4 972.2L473.8 976.2L473.5 976.5L472.5 977.5L472.2 977.8L471.5 978.5L470.5 979.5L470 980L469.5 979.7L468.5 979.1L467.5 978.6L466.5 978L465.6 977.5L465.5 977.2L464.5 975L463.5 972.7L463.1 971.9L462.5 972.8L461.5 974.3L460.6 975.6L460.5 975.6L460 975.7L459.5 975.8L458.8 975.9L458.5 976L458.1 976L457.5 976.1L456.9 976.2L456.5 976.8L455.5 978.3L454.5 979.8L454.4 980L453.5 981.3L452.5 982.9L451.5 984.4L451.2 984.1L450.5 983.2L449.5 982.1L449.4 982L448.8 981.2L448.5 981L447.5 980.2L446.9 979.8L446.5 979.5L445.6 978.7L445.5 978.6L445 978L444.5 977.5L443.5 976.3L442.5 975.2L441.9 974.5L441.5 974L441.2 973.8L440.5 972.2L439.5 970.2L439.4 970L438.8 968.7L438.5 968.2L437.5 966.1L437.2 965.6L436.5 966.4L435.5 967.5L435 968L434.5 968.6L433.8 969.4L433.5 969.3L432.5 969.1L431.5 968.9L431.2 968.9L430.6 968.7L430.5 967L429.5 953.2L429.4 951.5L428.5 939.4L427.5 942.8L426.9 945L426.5 958.1L425.6 988.8L425.5 988.9L425.2 989.3L424.5 990.4L424.4 990.6L423.8 990.1L423.5 989.9L422.5 989L421.9 988.5L421.5 988.2L420.5 987.3L420 986.9L419.5 985.8L419.4 985.5L418.8 984.2L418.5 983.6L417.5 981.5L416.5 979.3L416.2 978.8L415.5 977.5L415 976.7L414.5 975.8L413.5 974.2L412.5 972.5L411.5 972.8L411.2 972.9L410.5 973.1L409.5 973.4L408.5 973.6L408.1 973.7L407.5 972.5L406.5 970.4L405.5 968.4L405.4 968.1L404.5 972.5L403.5 977.5L403.1 979.4L402.5 982.5L401.5 981.5L400.5 980.5L400 980L399.5 979L399.4 978.8L398.5 977L397.5 975L396.9 974.9L396.5 974.8L395.6 974.7L395.5 974.7L394.5 974.5L393.8 974.4L393.5 974.8L393.1 975.3L392.5 976.2L391.5 977.8L391.2 978.1L390.5 978.6L389.5 979.3L388.8 979.8L388.5 980L387.5 980.6L386.5 979.2L385.5 977.8L385 977.1L384.5 976.4L384.4 976.3L383.5 974.9L383.1 974.4L382.5 973.4L381.9 972.5L381.5 974.6L380.6 979.4L380.5 980.1L379.5 985.6L379.4 986.2L378.5 990L377.5 994.4L376.5 994.1L375.5 993.9L375 993.8L374.5 992.2L373.5 989.2L372.5 986.2L371.5 983.2L371.2 982.5L370.5 981.5L369.5 980.2L368.5 978.8L368.1 978.3L367.5 977.5L366.5 976.8L365.5 976.1L364.5 975.4L364.4 975.3L363.5 974.6L363.1 974.4L362.5 974.4L361.5 974.4L360.5 974.4L360 974.4L359.5 974.4L359.4 974.4L358.5 975L357.5 975.7L356.5 976.4L355.5 977.1L355 977.5L354.5 976.7L353.5 975.1L352.5 973.5L351.9 972.5L351.5 971.4L351.2 970.6L350.5 968.4L349.5 965.4L349.4 965L348.5 961.5L347.5 957.5L346.5 961L345.5 964.5L345 966.2L344.5 966.7L343.5 967.5L342.5 968.3L341.5 969.2L341.2 969.4L340.5 968.8L339.5 968L338.5 967.2L338.1 966.9L337.5 965.8L336.5 964L335.5 962.1L335 961.2L334.5 963L333.5 966.5L333.1 967.8L332.5 970L331.5 980.7L331.2 983.3L330.6 990L330.5 990.2L329.5 991.4L329.4 991.6L328.5 992.7L328.1 993.1L327.5 992.7L326.5 991.9L326.2 991.7L325.6 991.2L325.5 991L325 989.8L324.5 988.5L323.5 986.1L322.5 983.8L321.9 982.8L321.5 982.2L320.5 980.8L319.5 979.2L319.4 979.1L318.8 978.1L318.5 978L317.5 977.5L316.9 977.2L316.5 977L315.5 976.5L315 976.2L314.5 976.2L313.8 976L313.5 976L312.5 975.8L311.5 975.7L311.2 975.6L311 975.9L310.5 976.4L309.5 977.4L308.8 978.1L308.5 978.4L308.1 978.8L307.5 979.4L306.9 980L306.5 980L306.2 980L305.6 980L305.5 980L304.5 980L304.4 980L303.5 978.6L302.5 977L301.5 975.4L301.2 975L300.5 972L300.2 971L299.5 968L299.4 967.5L298.8 965L298.5 966L297.5 970L296.9 972.5L296.5 972.6L296.2 972.6L295.5 972.7L294.5 972.9L293.8 973L293.5 973.1L293.1 973.1L292.5 972.1L291.5 970.4L291.2 970L290.6 968.3L290.5 968L289.5 965.2L288.5 962.5L288.1 962.9L287.5 963.6L286.5 964.7L286.2 965L285.6 967.5L285.5 968L285 970L284.5 972L283.5 976L283.1 977.5L282.5 979.2L281.5 981.9L280.5 984.7L280.4 985L280.2 984.9L279.5 984.3L278.8 983.8L278.5 983.1L277.5 980.6L276.9 979.1L276.5 978.1L276.2 977.5L275.5 975.8L274.5 973.4L274.4 973.1L273.5 971.1L272.5 968.8L271.5 967.1L271.2 966.7L270.5 965.4L269.5 963.8L268.8 962.5L268.5 961.8L267.5 958.8L266.5 955.8L265.5 952.8L265 951.2L264.5 950.4L263.5 948.8L263.1 948.1L262.8 947.5L262.5 947.7L261.5 948.6L260.6 949.4L260.5 949.3L260 949.2L259.5 949.1L259.4 949.1L258.5 948.8L258.1 948.7L257.5 947.5L256.9 946.3L256.5 945.5L255.5 943.5L255 942.5L254.5 941.5L254.4 941.3L253.5 939.5L252.5 937.5L251.5 939L250.5 940.5L249.5 942L249.4 942.2L248.8 943.1L248.5 943.4L247.5 944.6L246.5 945.8L246.2 946.1L245.6 946.9L245.5 947L244.5 947.9L243.5 948.8L243.1 949.2L242.5 949.8L242.2 950L241.5 949.4L241.2 949.2L240.6 948.8L240.5 949.1L239.5 951.8L238.8 953.8L238.5 954.1L237.5 955.3L236.9 956.1L236.5 956.6L236.2 956.9L235.5 958.6L234.5 961L234.4 961.2L233.5 963.3L232.5 965.6L231.5 966.3L230.6 966.9L230.5 966.5L229.5 963.8L228.5 961L228.1 960L227.5 958.4L226.9 956.8L226.5 955.8L225.6 953.5L225.5 953.2L225 951.9L224.5 951.9L224.4 951.9L223.5 951.9L223.1 951.9L222.5 950.8L221.5 949.2L221.2 948.8L220.5 948.8L220 948.8L219.5 948.8L218.5 948.8L217.5 948.8L216.5 949.2L215.5 949.6L214.5 950L213.8 950.4L213.5 950.5L213.1 950.6L212.5 951.1L211.5 952L210.5 952.8L210 953.2L209.5 953.6L209.4 953.7L208.5 953.2L207.5 952.6L206.9 952.2L206.5 952L205.5 951.3L204.5 950.7L204.4 950.6L203.8 950.7L203.5 950.8L202.5 950.9L201.5 951L200.5 951.2L200 951.2L199.5 951.4L198.5 951.8L197.5 952.1L196.5 952.4L196.2 952.5L195.5 951.1L194.5 949.4L194.4 949.1L193.5 947.5L193.1 946.9L192.5 947.2L191.5 947.7L190.6 948.1L190.5 948.4L189.5 950.6L188.5 952.8L187.5 955L186.5 958.2L185.5 961.4L184.6 964.2L184.5 964.6L184.4 965L183.5 965.6L182.5 966.2L181.5 964.1L180.5 962L179.5 960L179.4 959.7L178.5 957.9L177.5 955.8L176.5 953.6L176.2 953.1L175.5 951.9L174.5 950.4L173.5 948.8L172.5 947.2L171.9 946.3L171.5 945.2L171.2 944.5L170.5 942.3L169.5 939.4L168.5 936.5L168.1 935.4L167.8 934.4L167.5 934.5L166.5 935.2L166.2 935.4L165.6 935.8L165.5 935.9L165 936.2L164.5 937.2L163.5 939.2L163.1 940L162.5 941.2L161.5 943.2L161.2 943.8L160.6 944.1L160.5 944.2L159.5 944.8L158.5 945.4L158.1 945.6L157.5 942.1L156.5 936.4L156.2 935L155.5 935.1L154.5 935.3L153.8 935.4L153.5 935.5L152.5 935.6L151.5 940L150.6 943.7L150.5 943.7L150 943.4L149.5 943.1L148.5 942.5L147.5 942L146.5 941.4L146.2 941.2L145.5 939.2L144.5 936.6L144.4 936.3L143.5 937L142.5 937.9L141.5 938.8L140.5 939.7L139.5 940.6L138.5 941.5Z" fill="#bdbd00"/>
<path d="M138.5 941.5L139.5 940.6L140.5 939.7L141.5 938.8L142.5 937.9L143.5 937L144.4 936.3L144.5 936.6L145.5 939.2L146.2 941.2L146.5 941.4L147.5 942L148.5 942.5L149.5 943.1L150 943.4L150.5 943.7L150.6 943.7L151.5 940L152.5 935.6L153.5 935.5L153.8 935.4L154.5 935.3L155.5 935.1L156.2 935L156.5 936.4L157.5 942.1L158.1 945.6L158.5 945.4L159.5 944.8L160.5 944.2L160.6 944.1L161.2 943.8L161.5 943.2L162.5 941.2L163.1 940L163.5 939.2L164.5 937.2L165 936.2L165.5 935.9L165.6 935.8L166.2 935.4L166.5 935.2L167.5 934.5L167.8 934.4L168.1 935.4L168.5 936.5L169.5 939.4L170.5 942.3L171.2 944.5L171.5 945.2L171.9 946.3L172.5 947.2L173.5 948.8L174.5 950.4L175.5 951.9L176.2 953.1L176.5 953.6L177.5 955.8L178.5 957.9L179.4 959.7L179.5 960L180.5 962L181.5 964.1L182.5 966.2L183.5 965.6L184.4 965L184.5 964.6L184.6 964.2L185.5 961.4L186.5 958.2L187.5 955L188.5 952.8L189.5 950.6L190.5 948.4L190.6 948.1L191.5 947.7L192.5 947.2L193.1 946.9L193.5 947.5L194.4 949.1L194.5 949.4L195.5 951.1L196.2 952.5L196.5 952.4L197.5 952.1L198.5 951.8L199.5 951.4L200 951.2L200.5 951.2L201.5 951L202.5 950.9L203.5 950.8L203.8 950.7L204.4 950.6L204.5 950.7L205.5 951.3L206.5 952L206.9 952.2L207.5 952.6L208.5 953.2L209.4 953.7L209.5 953.6L210 953.2L210.5 952.8L211.5 952L212.5 951.1L213.1 950.6L213.5 950.5L213.8 950.4L214.5 950L215.5 949.6L216.5 949.2L217.5 948.8L218.5 948.8L219.5 948.8L220 948.8L220.5 948.8L221.2 948.8L221.5 949.2L222.5 950.8L223.1 951.9L223.5 951.9L224.4 951.9L224.5 951.9L225 951.9L225.5 953.2L225.6 953.5L226.5 955.8L226.9 956.8L227.5 958.4L228.1 960L228.5 961L229.5 963.8L230.5 966.5L230.6 966.9L231.5 966.3L232.5 965.6L233.5 963.3L234.4 961.2L234.5 961L235.5 958.6L236.2 956.9L236.5 956.6L236.9 956.1L237.5 955.3L238.5 954.1L238.8 953.8L239.5 951.8L240.5 949.1L240.6 948.8L241.2 949.2L241.5 949.4L242.2 950L242.5 949.8L243.1 949.2L243.5 948.8L244.5 947.9L245.5 947L245.6 946.9L246.2 946.1L246.5 945.8L247.5 944.6L248.5 943.4L248.8 943.1L249.4 942.2L249.5 942L250.5 940.5L251.5 939L252.5 937.5L253.5 939.5L254.4 941.3L254.5 941.5L255 942.5L255.5 943.5L256.5 945.5L256.9 946.3L257.5 947.5L258.1 948.7L258.5 948.8L259.4 949.1L259.5 949.1L260 949.2L260.5 949.3L260.6 949.4L261.5 948.6L262.5 947.7L262.8 947.5L263.1 948.1L263.5 948.8L264.5 950.4L265 951.2L265.5 952.8L266.5 955.8L267.5 958.8L268.5 961.8L268.8 962.5L269.5 963.8L270.5 965.4L271.2 966.7L271.5 967.1L272.5 968.8L273.5 971.1L274.4 973.1L274.5 973.4L275.5 975.8L276.2 977.5L276.5 978.1L276.9 979.1L277.5 980.6L278.5 983.1L278.8 983.8L279.5 984.3L280.2 984.9L280.4 985L280.5 984.7L281.5 981.9L282.5 979.2L283.1 977.5L283.5 976L284.5 972L285 970L285.5 968L285.6 967.5L286.2 965L286.5 964.7L287.5 963.6L288.1 962.9L288.5 962.5L289.5 965.2L290.5 968L290.6 968.3L291.2 970L291.5 970.4L292.5 972.1L293.1 973.1L293.5 973.1L293.8 973L294.5 972.9L295.5 972.7L296.2 972.6L296.5 972.6L296.9 972.5L297.5 970L298.5 966L298.8 965L299.4 967.5L299.5 968L300.2 971L300.5 972L301.2 975L301.5 975.4L302.5 977L303.5 978.6L304.4 980L304.5 980L305.5 980L305.6 980L306.2 980L306.5 980L306.9 980L307.5 979.4L308.1 978.8L308.5 978.4L308.8 978.1L309.5 977.4L310.5 976.4L311 975.9L311.2 975.6L311.5 975.7L312.5 975.8L313.5 976L313.8 976L314.5 976.2L315 976.2L315.5 976.5L316.5 977L316.9 977.2L317.5 977.5L318.5 978L318.8 978.1L319.4 979.1L319.5 979.2L320.5 980.8L321.5 982.2L321.9 982.8L322.5 983.8L323.5 986.1L324.5 988.5L325 989.8L325.5 991L325.6 991.2L326.2 991.7L326.5 991.9L327.5 992.7L328.1 993.1L328.5 992.7L329.4 991.6L329.5 991.4L330.5 990.2L330.6 990L331.2 983.3L331.5 980.7L332.5 970L333.1 967.8L333.5 966.5L334.5 963L335 961.2L335.5 962.1L336.5 964L337.5 965.8L338.1 966.9L338.5 967.2L339.5 968L340.5 968.8L341.2 969.4L341.5 969.2L342.5 968.3L343.5 967.5L344.5 966.7L345 966.2L345.5 964.5L346.5 961L347.5 957.5L348.5 961.5L349.4 965L349.5 965.4L350.5 968.4L351.2 970.6L351.5 971.4L351.9 972.5L352.5 973.5L353.5 975.1L354.5 976.7L355 977.5L355.5 977.1L356.5 976.4L357.5 975.7L358.5 975L359.4 974.4L359.5 974.4L360 974.4L360.5 974.4L361.5 974.4L362.5 974.4L363.1 974.4L363.5 974.6L364.4 975.3L364.5 975.4L365.5 976.1L366.5 976.8L367.5 977.5L368.1 978.3L368.5 978.8L369.5 980.2L370.5 981.5L371.2 982.5L371.5 983.2L372.5 986.2L373.5 989.2L374.5 992.2L375 993.8L375.5 993.9L376.5 994.1L377.5 994.4L378.5 990L379.4 986.2L379.5 985.6L380.5 980.1L380.6 979.4L381.5 974.6L381.9 972.5L382.5 973.4L383.1 974.4L383.5 974.9L384.4 976.3L384.5 976.4L385 977.1L385.5 977.8L386.5 979.2L387.5 980.6L388.5 980L388.8 979.8L389.5 979.3L390.5 978.6L391.2 978.1L391.5 977.8L392.5 976.2L393.1 975.3L393.5 974.8L393.8 974.4L394.5 974.5L395.5 974.7L395.6 974.7L396.5 974.8L396.9 974.9L397.5 975L398.5 977L399.4 978.8L399.5 979L400 980L400.5 980.5L401.5 981.5L402.5 982.5L403.1 979.4L403.5 977.5L404.5 972.5L405.4 968.1L405.5 968.4L406.5 970.4L407.5 972.5L408.1 973.7L408.5 973.6L409.5 973.4L410.5 973.1L411.2 972.9L411.5 972.8L412.5 972.5L413.5 974.2L414.5 975.8L415 976.7L415.5 977.5L416.2 978.8L416.5 979.3L417.5 981.5L418.5 983.6L418.8 984.2L419.4 985.5L419.5 985.8L420 986.9L420.5 987.3L421.5 988.2L421.9 988.5L422.5 989L423.5 989.9L423.8 990.1L424.4 990.6L424.5 990.4L425.2 989.3L425.5 988.9L425.6 988.8L426.5 958.1L426.9 945L427.5 942.8L428.5 939.4L429.4 951.5L429.5 953.2L430.5 967L430.6 968.7L431.2 968.9L431.5 968.9L432.5 969.1L433.5 969.3L433.8 969.4L434.5 968.6L435 968L435.5 967.5L436.5 966.4L437.2 965.6L437.5 966.1L438.5 968.2L438.8 968.7L439.4 970L439.5 970.2L440.5 972.2L441.2 973.8L441.5 974L441.9 974.5L442.5 975.2L443.5 976.3L444.5 977.5L445 978L445.5 978.6L445.6 978.7L446.5 979.5L446.9 979.8L447.5 980.2L448.5 981L448.8 981.2L449.4 982L449.5 982.1L450.5 983.2L451.2 984.1L451.5 984.4L452.5 982.9L453.5 981.3L454.4 980L454.5 979.8L455.5 978.3L456.5 976.8L456.9 976.2L457.5 976.1L458.1 976L458.5 976L458.8 975.9L459.5 975.8L460 975.7L460.5 975.6L460.6 975.6L461.5 974.3L462.5 972.8L463.1 971.9L463.5 972.7L464.5 975L465.5 977.2L465.6 977.5L466.5 978L467.5 978.6L468.5 979.1L469.5 979.7L470 980L470.5 979.5L471.5 978.5L472.2 977.8L472.5 977.5L473.5 976.5L473.8 976.2L474.4 972.2L474.5 971.4L475.5 964.9L476.2 960L476.5 959.5L477.5 957.5L478.5 955.5L479.4 953.8L479.5 954L480.5 956.5L481.5 958.9L481.9 959.8L482.5 961.2L483.1 962.6L483.5 963.4L484.5 965.6L485 966.7L485.5 967.8L486.2 969.4L486.5 969.3L486.9 969.2L487.5 969.1L488.5 968.9L489.4 968.7L489.5 968.5L490.5 966.4L491.2 964.9L491.5 964.4L492.1 963.1L492.5 963.7L493.1 964.7L493.5 965.3L494.4 966.7L494.5 966.9L495.5 968.5L495.6 968.7L496.2 968.6L496.5 968.5L496.9 968.4L497.5 968.3L498.1 968.1L498.5 967.1L499.5 964.5L500 963.2L500.5 962L501.2 960L501.5 959.8L502.5 958.8L503.1 958.1L503.5 957.8L503.8 957.5L504.4 956.8L504.5 956L505.5 949.3L505.6 948.5L506.2 944.2L506.5 942.5L506.9 932.8L506.5 943.9L506.2 951.2L505.6 959.6L505.5 961.2L504.5 974.6L504.4 976.2L503.8 978.4L503.5 979.3L503.1 980.6L502.5 981.1L501.5 981.9L501.2 982.1L500.5 982.7L500 983.1L499.5 984.4L498.5 987L498.1 988L497.5 989.5L496.9 991.1L496.5 992.1L496.2 992.8L495.6 992.3L495.5 992.2L494.5 991.6L494.4 991.5L493.5 990.9L493.1 990.6L492.5 990.8L492.1 991L491.5 991.2L491.2 991.2L490.5 992.3L489.5 993.6L489.4 993.8L488.5 995L487.5 993.9L486.9 993.3L486.5 992.9L486.2 992.6L485.5 991.8L485 991.2L484.5 990.2L483.5 988.2L483.1 987.5L482.5 986.2L481.9 985L481.5 983.6L480.5 979.7L479.5 975.9L479.4 975.4L478.5 977L477.5 978.9L476.5 980.8L476.2 981.2L475.5 984L474.5 987.7L474.4 988.1L473.8 990.4L473.5 991.3L472.5 995L472.2 995.4L471.5 996.4L470.5 997.8L470 998.5L469.5 997.9L468.5 996.8L467.5 995.6L466.5 995.3L465.6 995L465.5 994.8L464.5 993.3L463.5 991.9L463.1 992.7L462.5 994L461.5 996.2L460.6 998L460.5 998.3L460 999.4L459.5 999.5L458.8 999.6L458.5 999.7L458.1 999.8L457.5 1000.3L456.9 1000.9L456.5 1001.2L455.5 1002.1L454.5 1003L454.4 1003.1L453.5 1004.1L452.5 1005.1L451.5 1006.2L451.2 1006.5L450.5 1005.7L449.5 1004.6L449.4 1004.5L448.8 1003.8L448.5 1003.6L447.5 1002.5L446.9 1002.8L446.5 1003L445.6 1003.4L445.5 1003.5L445 1003.8L444.5 1003.7L443.5 1003.6L442.5 1003.5L441.9 1003.5L441.5 1004.1L441.2 1004.4L440.5 1005.5L439.5 1007L439.4 1007.2L438.8 1008.1L438.5 1008.4L437.5 1009.6L437.2 1009.9L436.5 1010.8L435.5 1011.9L435 1012.5L434.5 1012.5L433.8 1012.4L433.5 1012.4L432.5 1012.3L431.5 1012.3L431.2 1012.2L430.6 1012.7L430.5 1012.8L429.5 1013.4L429.4 1013.5L428.5 1014.1L427.5 1014.8L426.9 1014.6L426.5 1014.5L425.6 1014.2L425.5 1014.2L425.2 1014.1L424.5 1014L424.4 1013.9L423.8 1013.8L423.5 1013.3L422.5 1011.7L421.9 1010.7L421.5 1010.1L420.5 1008.5L420 1007.7L419.5 1006.8L419.4 1006.6L418.8 1005.6L418.5 1005.3L417.5 1004L416.5 1002.6L416.2 1002.3L415.5 1001.3L415 1000.6L414.5 1000.5L413.5 1000.4L412.5 1000.2L411.5 1001.1L411.2 1001.3L410.5 1001.9L409.5 1002.7L408.5 1003.5L408.1 1003.9L407.5 1004.4L406.5 1004.7L405.5 1005.1L405.4 1005.2L404.5 1005.5L403.5 1005.9L403.1 1006L402.5 1005.7L401.5 1005.2L400.5 1004.6L400 1004.4L399.5 1003.8L399.4 1003.7L398.5 1002.8L397.5 1001.7L396.9 1001L396.5 1001.1L395.6 1001.4L395.5 1001.4L394.5 1001.7L393.8 1001.9L393.5 1002.2L393.1 1002.7L392.5 1003.4L391.5 1004.7L391.2 1005L390.5 1005.9L389.5 1007.2L388.8 1008.1L388.5 1008.4L387.5 1009.4L386.5 1010.4L385.5 1011.4L385 1011.9L384.5 1011.4L384.4 1011.3L383.5 1010.6L383.1 1010.3L382.5 1010.4L381.9 1010.6L381.5 1010.7L380.6 1011L380.5 1011.1L379.5 1012L379.4 1012.1L378.5 1012.9L377.5 1013.8L376.5 1013.5L375.5 1013.2L375 1013.1L374.5 1011.9L373.5 1009.4L372.5 1006.9L371.5 1004.4L371.2 1003.8L370.5 1002.9L369.5 1001.8L368.5 1000.7L368.1 1000.2L367.5 1000.1L366.5 999.9L365.5 999.6L364.5 999.4L364.4 999.4L363.5 999.6L363.1 999.7L362.5 999.9L361.5 1000.2L360.5 1000.5L360 1000.6L359.5 1001.1L359.4 1001.2L358.5 1002L357.5 1002.9L356.5 1003.9L355.5 1004.8L355 1005.2L354.5 1005L353.5 1004.6L352.5 1004.2L351.9 1004L351.5 1003.9L351.2 1003.8L350.5 1003.7L349.5 1003.6L349.4 1003.6L348.5 1003.6L347.5 1003.5L346.5 1004.1L345.5 1004.7L345 1005L344.5 1005.3L343.5 1005.9L342.5 1006.5L341.5 1006.9L341.2 1007L340.5 1007.2L339.5 1007.6L338.5 1008L338.1 1008.1L337.5 1007.9L336.5 1007.5L335.5 1007.1L335 1006.9L334.5 1007.3L333.5 1008.1L333.1 1008.4L332.5 1009L331.5 1009.8L331.2 1010L330.6 1010.3L330.5 1010.4L329.5 1010.9L329.4 1010.9L328.5 1011.4L328.1 1011.6L327.5 1011.9L326.5 1011.1L326.2 1010.9L325.6 1010.5L325.5 1010.4L325 1010L324.5 1008.9L323.5 1006.7L322.5 1004.5L321.9 1003.1L321.5 1002.8L320.5 1001.8L319.5 1000.8L319.4 1000.6L318.8 1000L318.5 1000L317.5 1000L316.9 1000L316.5 1000L315.5 1000L315 1000L314.5 1000L313.8 1000.1L313.5 1000.1L312.5 1000.2L311.5 1000.2L311.2 1000.2L311 1000.5L310.5 1001L309.5 1002L308.8 1002.8L308.5 1003L308.1 1003.3L307.5 1003.8L306.9 1004.2L306.5 1004.5L306.2 1004.8L305.6 1004.4L305.5 1004.3L304.5 1003.7L304.4 1003.6L303.5 1003.1L302.5 1002.5L301.5 1001.9L301.2 1001.8L300.5 1001.3L300.2 1001.1L299.5 1000.7L299.4 1000.6L298.8 1000.8L298.5 1000.8L297.5 1001L296.9 1001.1L296.5 1001.2L296.2 1001.2L295.5 1001.4L294.5 1001.6L293.8 1001.8L293.5 1001.8L293.1 1001.9L292.5 1002.2L291.5 1002.7L291.2 1002.8L290.6 1003.1L290.5 1003L289.5 1002L288.5 1001L288.1 1000.6L287.5 1000.8L286.5 1001L286.2 1001.1L285.6 1001.3L285.5 1001.4L285 1001.9L284.5 1002.5L283.5 1003.6L283.1 1004L282.5 1005L281.5 1006.5L280.5 1008L280.4 1008.2L280.2 1008.4L279.5 1007.6L278.8 1006.9L278.5 1006.6L277.5 1005.6L276.9 1005L276.5 1004.1L276.2 1003.4L275.5 1001.6L274.5 999.1L274.4 998.8L273.5 997.9L272.5 996.9L271.5 995.9L271.2 995.6L270.5 995.6L269.5 995.6L268.8 995.6L268.5 995.6L267.5 995.6L266.5 995.8L265.5 996L265 996.1L264.5 996.2L263.5 996.4L263.1 996.5L262.8 996.9L262.5 997.2L261.5 998.2L260.6 999.1L260.5 999.1L260 999.1L259.5 999.1L259.4 999.1L258.5 997.9L258.1 997.4L257.5 996.5L256.9 995.6L256.5 995L255.5 993.4L255 992.5L254.5 991.7L254.4 991.5L253.5 991.4L252.5 991.2L251.5 993L250.5 994.9L249.5 996.6L249.4 996.9L248.8 997.8L248.5 998.1L247.5 999.5L246.5 1000.9L246.2 1001.2L245.6 1002.1L245.5 1002.3L244.5 1003.7L243.5 1005.1L243.1 1005.6L242.5 1005.4L242.2 1005.3L241.5 1005.1L241.2 1005L240.6 1005.6L240.5 1005.8L239.5 1006.8L238.8 1007.5L238.5 1007.5L237.5 1007.5L236.9 1007.5L236.5 1007.7L236.2 1007.9L235.5 1008.4L234.5 1009L234.4 1009.1L233.5 1008.7L232.5 1008.2L231.5 1007.7L230.6 1007.2L230.5 1006.9L229.5 1004.2L228.5 1001.5L228.1 1000.4L227.5 998.8L226.9 997.5L226.5 996.8L225.6 995L225.5 995L225 994.8L224.5 994.7L224.4 994.7L223.5 994.5L223.1 994.4L222.5 994.1L221.5 993.6L221.2 993.5L220.5 993.1L220 992.9L219.5 993L218.5 993.4L217.5 993.8L216.5 994.9L215.5 996.1L214.5 997.2L213.8 998.1L213.5 998.2L213.1 998.3L212.5 998.5L211.5 998.9L210.5 999.2L210 999.4L209.5 999.4L209.4 999.4L208.5 999.4L207.5 999.4L206.9 999.4L206.5 999.5L205.5 999.9L204.5 1000.3L204.4 1000.4L203.8 1000.6L203.5 1000.8L202.5 1001.7L201.5 1002.5L200.5 1003.3L200 1003.8L199.5 1004L198.5 1004.4L197.5 1004.8L196.5 1005.1L196.2 1005.2L195.5 1005.3L194.5 1005.3L194.4 1005.3L193.5 1005.4L193.1 1005.4L192.5 1005.1L191.5 1004.7L190.6 1004.4L190.5 1004.5L189.5 1005L188.5 1005.6L187.5 1006.2L186.5 1006.9L185.5 1007.5L184.6 1008L184.5 1008L184.4 1008.1L183.5 1007.8L182.5 1007.5L181.5 1005.5L180.5 1003.5L179.5 1001.5L179.4 1001.3L178.5 999.9L177.5 998.2L176.5 996.6L176.2 996.2L175.5 995.8L174.5 995.2L173.5 994.5L172.5 993.9L171.9 993.5L171.5 993.3L171.2 993.1L170.5 992.3L169.5 991.2L168.5 990.2L168.1 989.8L167.8 989.9L167.5 990L166.5 990.5L166.2 990.6L165.6 991.5L165.5 991.6L165 992.3L164.5 992.9L163.5 994.3L163.1 994.7L162.5 994.5L161.5 994.1L161.2 994L160.6 993.8L160.5 993.8L159.5 994L158.5 994.3L158.1 994.4L157.5 992.7L156.5 990L156.2 989.4L155.5 990.3L154.5 991.6L153.8 992.5L153.5 993L152.5 995L151.5 997L150.6 998.8L150.5 999L150 1000L149.5 1000.5L148.5 1001.4L147.5 1002.3L146.5 1003.3L146.2 1003.5L145.5 1003.7L144.5 1003.9L144.4 1003.9L143.5 1004.1L142.5 1004.4L141.5 1004.7L140.5 1004.9L139.5 1005.2L138.5 1005.5ZM508.1 896.4L508.5 880.5L508.5 883.1L508.1 896.4Z" fill="#f6821f"/>
<path d="M138.5 1005.5L139.5 1005.2L140.5 1004.9L141.5 1004.7L142.5 1004.4L143.5 1004.1L144.4 1003.9L144.5 1003.9L145.5 1003.7L146.2 1003.5L146.5 1003.3L147.5 1002.3L148.5 1001.4L149.5 1000.5L150 1000L150.5 999L150.6 998.8L151.5 997L152.5 995L153.5 993L153.8 992.5L154.5 991.6L155.5 990.3L156.2 989.4L156.5 990L157.5 992.7L158.1 994.4L158.5 994.3L159.5 994L160.5 993.8L160.6 993.8L161.2 994L161.5 994.1L162.5 994.5L163.1 994.7L163.5 994.3L164.5 992.9L165 992.3L165.5 991.6L165.6 991.5L166.2 990.6L166.5 990.5L167.5 990L167.8 989.9L168.1 989.8L168.5 990.2L169.5 991.2L170.5 992.3L171.2 993.1L171.5 993.3L171.9 993.5L172.5 993.9L173.5 994.5L174.5 995.2L175.5 995.8L176.2 996.2L176.5 996.6L177.5 998.2L178.5 999.9L179.4 1001.3L179.5 1001.5L180.5 1003.5L181.5 1005.5L182.5 1007.5L183.5 1007.8L184.4 1008.1L184.5 1008L184.6 1008L185.5 1007.5L186.5 1006.9L187.5 1006.2L188.5 1005.6L189.5 1005L190.5 1004.5L190.6 1004.4L191.5 1004.7L192.5 1005.1L193.1 1005.4L193.5 1005.4L194.4 1005.3L194.5 1005.3L195.5 1005.3L196.2 1005.2L196.5 1005.1L197.5 1004.8L198.5 1004.4L199.5 1004L200 1003.8L200.5 1003.3L201.5 1002.5L202.5 1001.7L203.5 1000.8L203.8 1000.6L204.4 1000.4L204.5 1000.3L205.5 999.9L206.5 999.5L206.9 999.4L207.5 999.4L208.5 999.4L209.4 999.4L209.5 999.4L210 999.4L210.5 999.2L211.5 998.9L212.5 998.5L213.1 998.3L213.5 998.2L213.8 998.1L214.5 997.2L215.5 996.1L216.5 994.9L217.5 993.8L218.5 993.4L219.5 993L220 992.9L220.5 993.1L221.2 993.5L221.5 993.6L222.5 994.1L223.1 994.4L223.5 994.5L224.4 994.7L224.5 994.7L225 994.8L225.5 995L225.6 995L226.5 996.8L226.9 997.5L227.5 998.8L228.1 1000.4L228.5 1001.5L229.5 1004.2L230.5 1006.9L230.6 1007.2L231.5 1007.7L232.5 1008.2L233.5 1008.7L234.4 1009.1L234.5 1009L235.5 1008.4L236.2 1007.9L236.5 1007.7L236.9 1007.5L237.5 1007.5L238.5 1007.5L238.8 1007.5L239.5 1006.8L240.5 1005.8L240.6 1005.6L241.2 1005L241.5 1005.1L242.2 1005.3L242.5 1005.4L243.1 1005.6L243.5 1005.1L244.5 1003.7L245.5 1002.3L245.6 1002.1L246.2 1001.2L246.5 1000.9L247.5 999.5L248.5 998.1L248.8 997.8L249.4 996.9L249.5 996.6L250.5 994.9L251.5 993L252.5 991.2L253.5 991.4L254.4 991.5L254.5 991.7L255 992.5L255.5 993.4L256.5 995L256.9 995.6L257.5 996.5L258.1 997.4L258.5 997.9L259.4 999.1L259.5 999.1L260 999.1L260.5 999.1L260.6 999.1L261.5 998.2L262.5 997.2L262.8 996.9L263.1 996.5L263.5 996.4L264.5 996.2L265 996.1L265.5 996L266.5 995.8L267.5 995.6L268.5 995.6L268.8 995.6L269.5 995.6L270.5 995.6L271.2 995.6L271.5 995.9L272.5 996.9L273.5 997.9L274.4 998.8L274.5 999.1L275.5 1001.6L276.2 1003.4L276.5 1004.1L276.9 1005L277.5 1005.6L278.5 1006.6L278.8 1006.9L279.5 1007.6L280.2 1008.4L280.4 1008.2L280.5 1008L281.5 1006.5L282.5 1005L283.1 1004L283.5 1003.6L284.5 1002.5L285 1001.9L285.5 1001.4L285.6 1001.3L286.2 1001.1L286.5 1001L287.5 1000.8L288.1 1000.6L288.5 1001L289.5 1002L290.5 1003L290.6 1003.1L291.2 1002.8L291.5 1002.7L292.5 1002.2L293.1 1001.9L293.5 1001.8L293.8 1001.8L294.5 1001.6L295.5 1001.4L296.2 1001.2L296.5 1001.2L296.9 1001.1L297.5 1001L298.5 1000.8L298.8 1000.8L299.4 1000.6L299.5 1000.7L300.2 1001.1L300.5 1001.3L301.2 1001.8L301.5 1001.9L302.5 1002.5L303.5 1003.1L304.4 1003.6L304.5 1003.7L305.5 1004.3L305.6 1004.4L306.2 1004.8L306.5 1004.5L306.9 1004.2L307.5 1003.8L308.1 1003.3L308.5 1003L308.8 1002.8L309.5 1002L310.5 1001L311 1000.5L311.2 1000.2L311.5 1000.2L312.5 1000.2L313.5 1000.1L313.8 1000.1L314.5 1000L315 1000L315.5 1000L316.5 1000L316.9 1000L317.5 1000L318.5 1000L318.8 1000L319.4 1000.6L319.5 1000.8L320.5 1001.8L321.5 1002.8L321.9 1003.1L322.5 1004.5L323.5 1006.7L324.5 1008.9L325 1010L325.5 1010.4L325.6 1010.5L326.2 1010.9L326.5 1011.1L327.5 1011.9L328.1 1011.6L328.5 1011.4L329.4 1010.9L329.5 1010.9L330.5 1010.4L330.6 1010.3L331.2 1010L331.5 1009.8L332.5 1009L333.1 1008.4L333.5 1008.1L334.5 1007.3L335 1006.9L335.5 1007.1L336.5 1007.5L337.5 1007.9L338.1 1008.1L338.5 1008L339.5 1007.6L340.5 1007.2L341.2 1007L341.5 1006.9L342.5 1006.5L343.5 1005.9L344.5 1005.3L345 1005L345.5 1004.7L346.5 1004.1L347.5 1003.5L348.5 1003.6L349.4 1003.6L349.5 1003.6L350.5 1003.7L351.2 1003.8L351.5 1003.9L351.9 1004L352.5 1004.2L353.5 1004.6L354.5 1005L355 1005.2L355.5 1004.8L356.5 1003.9L357.5 1002.9L358.5 1002L359.4 1001.2L359.5 1001.1L360 1000.6L360.5 1000.5L361.5 1000.2L362.5 999.9L363.1 999.7L363.5 999.6L364.4 999.4L364.5 999.4L365.5 999.6L366.5 999.9L367.5 1000.1L368.1 1000.2L368.5 1000.7L369.5 1001.8L370.5 1002.9L371.2 1003.8L371.5 1004.4L372.5 1006.9L373.5 1009.4L374.5 1011.9L375 1013.1L375.5 1013.2L376.5 1013.5L377.5 1013.8L378.5 1012.9L379.4 1012.1L379.5 1012L380.5 1011.1L380.6 1011L381.5 1010.7L381.9 1010.6L382.5 1010.4L383.1 1010.3L383.5 1010.6L384.4 1011.3L384.5 1011.4L385 1011.9L385.5 1011.4L386.5 1010.4L387.5 1009.4L388.5 1008.4L388.8 1008.1L389.5 1007.2L390.5 1005.9L391.2 1005L391.5 1004.7L392.5 1003.4L393.1 1002.7L393.5 1002.2L393.8 1001.9L394.5 1001.7L395.5 1001.4L395.6 1001.4L396.5 1001.1L396.9 1001L397.5 1001.7L398.5 1002.8L399.4 1003.7L399.5 1003.8L400 1004.4L400.5 1004.6L401.5 1005.2L402.5 1005.7L403.1 1006L403.5 1005.9L404.5 1005.5L405.4 1005.2L405.5 1005.1L406.5 1004.7L407.5 1004.4L408.1 1003.9L408.5 1003.5L409.5 1002.7L410.5 1001.9L411.2 1001.3L411.5 1001.1L412.5 1000.2L413.5 1000.4L414.5 1000.5L415 1000.6L415.5 1001.3L416.2 1002.3L416.5 1002.6L417.5 1004L418.5 1005.3L418.8 1005.6L419.4 1006.6L419.5 1006.8L420 1007.7L420.5 1008.5L421.5 1010.1L421.9 1010.7L422.5 1011.7L423.5 1013.3L423.8 1013.8L424.4 1013.9L424.5 1014L425.2 1014.1L425.5 1014.2L425.6 1014.2L426.5 1014.5L426.9 1014.6L427.5 1014.8L428.5 1014.1L429.4 1013.5L429.5 1013.4L430.5 1012.8L430.6 1012.7L431.2 1012.2L431.5 1012.3L432.5 1012.3L433.5 1012.4L433.8 1012.4L434.5 1012.5L435 1012.5L435.5 1011.9L436.5 1010.8L437.2 1009.9L437.5 1009.6L438.5 1008.4L438.8 1008.1L439.4 1007.2L439.5 1007L440.5 1005.5L441.2 1004.4L441.5 1004.1L441.9 1003.5L442.5 1003.5L443.5 1003.6L444.5 1003.7L445 1003.8L445.5 1003.5L445.6 1003.4L446.5 1003L446.9 1002.8L447.5 1002.5L448.5 1003.6L448.8 1003.8L449.4 1004.5L449.5 1004.6L450.5 1005.7L451.2 1006.5L451.5 1006.2L452.5 1005.1L453.5 1004.1L454.4 1003.1L454.5 1003L455.5 1002.1L456.5 1001.2L456.9 1000.9L457.5 1000.3L458.1 999.8L458.5 999.7L458.8 999.6L459.5 999.5L460 999.4L460.5 998.3L460.6 998L461.5 996.2L462.5 994L463.1 992.7L463.5 991.9L464.5 993.3L465.5 994.8L465.6 995L466.5 995.3L467.5 995.6L468.5 996.8L469.5 997.9L470 998.5L470.5 997.8L471.5 996.4L472.2 995.4L472.5 995L473.5 991.3L473.8 990.4L474.4 988.1L474.5 987.7L475.5 984L476.2 981.2L476.5 980.8L477.5 978.9L478.5 977L479.4 975.4L479.5 975.9L480.5 979.7L481.5 983.6L481.9 985L482.5 986.2L483.1 987.5L483.5 988.2L484.5 990.2L485 991.2L485.5 991.8L486.2 992.6L486.5 992.9L486.9 993.3L487.5 993.9L488.5 995L489.4 993.8L489.5 993.6L490.5 992.3L491.2 991.2L491.5 991.2L492.1 991L492.5 990.8L493.1 990.6L493.5 990.9L494.4 991.5L494.5 991.6L495.5 992.2L495.6 992.3L496.2 992.8L496.5 992.1L496.9 991.1L497.5 989.5L498.1 988L498.5 987L499.5 984.4L500 983.1L500.5 982.7L501.2 982.1L501.5 981.9L502.5 981.1L503.1 980.6L503.5 979.3L503.8 978.4L504.4 976.2L504.5 974.6L505.5 961.2L505.6 959.6L506.2 951.2L506.5 943.9L506.9 932.8L507.5 914.6L507.8 907.2L508.1 896.4L508.5 883.1L508.5 1028L508.1 1028L507.8 1028L507.5 1028L506.9 1028L506.5 1028L506.2 1028L505.6 1028L505.5 1028L504.5 1028L504.4 1028L503.8 1028L503.5 1028L503.1 1028L502.5 1028L501.5 1028L501.2 1028L500.5 1028L500 1028L499.5 1028L498.5 1028L498.1 1028L497.5 1028L496.9 1028L496.5 1028L496.2 1028L495.6 1028L495.5 1028L494.5 1028L494.4 1028L493.5 1028L493.1 1028L492.5 1028L492.1 1028L491.5 1028L491.2 1028L490.5 1028L489.5 1028L489.4 1028L488.5 1028L487.5 1028L486.9 1028L486.5 1028L486.2 1028L485.5 1028L485 1028L484.5 1028L483.5 1028L483.1 1028L482.5 1028L481.9 1028L481.5 1028L480.5 1028L479.5 1028L479.4 1028L478.5 1028L477.5 1028L476.5 1028L476.2 1028L475.5 1028L474.5 1028L474.4 1028L473.8 1028L473.5 1028L472.5 1028L472.2 1028L471.5 1028L470.5 1028L470 1028L469.5 1028L468.5 1028L467.5 1028L466.5 1028L465.6 1028L465.5 1028L464.5 1028L463.5 1028L463.1 1028L462.5 1028L461.5 1028L460.6 1028L460.5 1028L460 1028L459.5 1028L458.8 1028L458.5 1028L458.1 1028L457.5 1028L456.9 1028L456.5 1028L455.5 1028L454.5 1028L454.4 1028L453.5 1028L452.5 1028L451.5 1028L451.2 1028L450.5 1028L449.5 1028L449.4 1028L448.8 1028L448.5 1028L447.5 1028L446.9 1028L446.5 1028L445.6 1028L445.5 1028L445 1028L444.5 1028L443.5 1028L442.5 1028L441.9 1028L441.5 1028L441.2 1028L440.5 1028L439.5 1028L439.4 1028L438.8 1028L438.5 1028L437.5 1028L437.2 1028L436.5 1028L435.5 1028L435 1028L434.5 1028L433.8 1028L433.5 1028L432.5 1028L431.5 1028L431.2 1028L430.6 1028L430.5 1028L429.5 1028L429.4 1028L428.5 1028L427.5 1028L426.9 1028L426.5 1028L425.6 1028L425.5 1028L425.2 1028L424.5 1028L424.4 1028L423.8 1028L423.5 1028L422.5 1028L421.9 1028L421.5 1028L420.5 1028L420 1028L419.5 1028L419.4 1028L418.8 1028L418.5 1028L417.5 1028L416.5 1028L416.2 1028L415.5 1028L415 1028L414.5 1028L413.5 1028L412.5 1028L411.5 1028L411.2 1028L410.5 1028L409.5 1028L408.5 1028L408.1 1028L407.5 1028L406.5 1028L405.5 1028L405.4 1028L404.5 1028L403.5 1028L403.1 1028L402.5 1028L401.5 1028L400.5 1028L400 1028L399.5 1028L399.4 1028L398.5 1028L397.5 1028L396.9 1028L396.5 1028L395.6 1028L395.5 1028L394.5 1028L393.8 1028L393.5 1028L393.1 1028L392.5 1028L391.5 1028L391.2 1028L390.5 1028L389.5 1028L388.8 1028L388.5 1028L387.5 1028L386.5 1028L385.5 1028L385 1028L384.5 1028L384.4 1028L383.5 1028L383.1 1028L382.5 1028L381.9 1028L381.5 1028L380.6 1028L380.5 1028L379.5 1028L379.4 1028L378.5 1028L377.5 1028L376.5 1028L375.5 1028L375 1028L374.5 1028L373.5 1028L372.5 1028L371.5 1028L371.2 1028L370.5 1028L369.5 1028L368.5 1028L368.1 1028L367.5 1028L366.5 1028L365.5 1028L364.5 1028L364.4 1028L363.5 1028L363.1 1028L362.5 1028L361.5 1028L360.5 1028L360 1028L359.5 1028L359.4 1028L358.5 1028L357.5 1028L356.5 1028L355.5 1028L355 1028L354.5 1028L353.5 1028L352.5 1028L351.9 1028L351.5 1028L351.2 1028L350.5 1028L349.5 1028L349.4 1028L348.5 1028L347.5 1028L346.5 1028L345.5 1028L345 1028L344.5 1028L343.5 1028L342.5 1028L341.5 1028L341.2 1028L340.5 1028L339.5 1028L338.5 1028L338.1 1028L337.5 1028L336.5 1028L335.5 1028L335 1028L334.5 1028L333.5 1028L333.1 1028L332.5 1028L331.5 1028L331.2 1028L330.6 1028L330.5 1028L329.5 1028L329.4 1028L328.5 1028L328.1 1028L327.5 1028L326.5 1028L326.2 1028L325.6 1028L325.5 1028L325 1028L324.5 1028L323.5 1028L322.5 1028L321.9 1028L321.5 1028L320.5 1028L319.5 1028L319.4 1028L318.8 1028L318.5 1028L317.5 1028L316.9 1028L316.5 1028L315.5 1028L315 1028L314.5 1028L313.8 1028L313.5 1028L312.5 1028L311.5 1028L311.2 1028L311 1028L310.5 1028L309.5 1028L308.8 1028L308.5 1028L308.1 1028L307.5 1028L306.9 1028L306.5 1028L306.2 1028L305.6 1028L305.5 1028L304.5 1028L304.4 1028L303.5 1028L302.5 1028L301.5 1028L301.2 1028L300.5 1028L300.2 1028L299.5 1028L299.4 1028L298.8 1028L298.5 1028L297.5 1028L296.9 1028L296.5 1028L296.2 1028L295.5 1028L294.5 1028L293.8 1028L293.5 1028L293.1 1028L292.5 1028L291.5 1028L291.2 1028L290.6 1028L290.5 1028L289.5 1028L288.5 1028L288.1 1028L287.5 1028L286.5 1028L286.2 1028L285.6 1028L285.5 1028L285 1028L284.5 1028L283.5 1028L283.1 1028L282.5 1028L281.5 1028L280.5 1028L280.4 1028L280.2 1028L279.5 1028L278.8 1028L278.5 1028L277.5 1028L276.9 1028L276.5 1028L276.2 1028L275.5 1028L274.5 1028L274.4 1028L273.5 1028L272.5 1028L271.5 1028L271.2 1028L270.5 1028L269.5 1028L268.8 1028L268.5 1028L267.5 1028L266.5 1028L265.5 1028L265 1028L264.5 1028L263.5 1028L263.1 1028L262.8 1028L262.5 1028L261.5 1028L260.6 1028L260.5 1028L260 1028L259.5 1028L259.4 1028L258.5 1028L258.1 1028L257.5 1028L256.9 1028L256.5 1028L255.5 1028L255 1028L254.5 1028L254.4 1028L253.5 1028L252.5 1028L251.5 1028L250.5 1028L249.5 1028L249.4 1028L248.8 1028L248.5 1028L247.5 1028L246.5 1028L246.2 1028L245.6 1028L245.5 1028L244.5 1028L243.5 1028L243.1 1028L242.5 1028L242.2 1028L241.5 1028L241.2 1028L240.6 1028L240.5 1028L239.5 1028L238.8 1028L238.5 1028L237.5 1028L236.9 1028L236.5 1028L236.2 1028L235.5 1028L234.5 1028L234.4 1028L233.5 1028L232.5 1028L231.5 1028L230.6 1028L230.5 1028L229.5 1028L228.5 1028L228.1 1028L227.5 1028L226.9 1028L226.5 1028L225.6 1028L225.5 1028L225 1028L224.5 1028L224.4 1028L223.5 1028L223.1 1028L222.5 1028L221.5 1028L221.2 1028L220.5 1028L220 1028L219.5 1028L218.5 1028L217.5 1028L216.5 1028L215.5 1028L214.5 1028L213.8 1028L213.5 1028L213.1 1028L212.5 1028L211.5 1028L210.5 1028L210 1028L209.5 1028L209.4 1028L208.5 1028L207.5 1028L206.9 1028L206.5 1028L205.5 1028L204.5 1028L204.4 1028L203.8 1028L203.5 1028L202.5 1028L201.5 1028L200.5 1028L200 1028L199.5 1028L198.5 1028L197.5 1028L196.5 1028L196.2 1028L195.5 1028L194.5 1028L194.4 1028L193.5 1028L193.1 1028L192.5 1028L191.5 1028L190.6 1028L190.5 1028L189.5 1028L188.5 1028L187.5 1028L186.5 1028L185.5 1028L184.6 1028L184.5 1028L184.4 1028L183.5 1028L182.5 1028L181.5 1028L180.5 1028L179.5 1028L179.4 1028L178.5 1028L177.5 1028L176.5 1028L176.2 1028L175.5 1028L174.5 1028L173.5 1028L172.5 1028L171.9 1028L171.5 1028L171.2 1028L170.5 1028L169.5 1028L168.5 1028L168.1 1028L167.8 1028L167.5 1028L166.5 1028L166.2 1028L165.6 1028L165.5 1028L165 1028L164.5 1028L163.5 1028L163.1 1028L162.5 1028L161.5 1028L161.2 1028L160.6 1028L160.5 1028L159.5 1028L158.5 1028L158.1 1028L157.5 1028L156.5 1028L156.2 1028L155.5 1028L154.5 1028L153.8 1028L153.5 1028L152.5 1028L151.5 1028L150.6 1028L150.5 1028L150 1028L149.5 1028L148.5 1028L147.5 1028L146.5 1028L146.2 1028L145.5 1028L144.5 1028L144.4 1028L143.5 1028L142.5 1028L141.5 1028L140.5 1028L139.5 1028L138.5 1028Z" fill="#73cde6"/>
<path d="M912.8 993.8L913.4 988.6L913.8 985.5L913.8 985.1L914.1 982.5L914.8 974.9L915 972.7L915.3 969.4L915.8 972.7L916.2 975.8L916.6 978.1L916.8 979.2L917.5 983.3L917.8 985L918.4 975.8L918.8 969.8L919.4 960.6L919.8 967L920 970.2L920.3 975L920.8 985.4L920.9 987.5L921.8 986.4L922.5 985.6L922.8 984.8L923.4 983.1L923.8 984.2L924.8 986.9L925 987.5L925.8 987.9L926.2 988.1L926.8 988.1L927.2 988.1L927.8 988.1L928.1 700L927.8 991.2L927.2 991.1L926.8 991L926.2 990.9L925.8 990.8L925 990.6L924.8 990.1L923.8 987.8L923.4 986.9L922.8 988.1L922.5 988.8L921.8 989.3L920.9 990L920.8 988L920.3 978.1L920 973.9L919.8 971.2L919.4 965.6L918.8 973.8L918.4 979.3L917.8 987.5L917.5 985.9L916.8 982.3L916.6 981.2L916.2 979.6L915.8 977.4L915.3 975L915 977.5L914.8 979.2L914.1 985L913.8 987.3L913.8 987.7L913.4 990.4L912.8 995ZM937.1 884L937.5 883.2L937.8 882.6L938.8 880.6L939.1 880.1L939.8 878.6L939.8 878.6L940.6 877L940.8 876L941.4 872.6L941.8 870.5L942.8 864.9L943.4 861.4L943.8 864.5L943.8 865L944.8 875L945 877L945.3 872.6L945.8 865.8L945.8 865.5L946.8 851.2L947.3 843.5L947.7 849.1L947.8 851.6L948.8 869.5L949.2 877L949.7 888.3L949.8 890.9L950.8 914.9L951.6 933.2L951.8 921.4L952.5 886.4L951.8 925.5L951.6 941L950.8 931.5L949.8 919L949.7 917.7L949.2 909L948.8 901.2L947.8 882.8L947.7 880.2L947.3 883L946.8 887.8L945.8 896.8L945.8 897L945.3 901.2L945 899.5L944.8 898.4L943.8 892.9L943.8 892.6L943.4 892.5L942.8 892.4L941.8 892.1L941.4 892L940.8 891.9L940.6 891.8L939.8 890.1L939.8 890L939.1 888.4L938.8 887.8L937.8 885.6L937.5 884.9L937.1 884ZM952.5 886.4L952.8 855.2L952.8 854.2L953.6 773.2L953.8 794.2L953.9 805.6L954.7 886.5L953.9 827.5L953.8 820.8L953.6 808.5L952.8 859.5L952.8 860.1L952.5 886.4ZM954.8 891.2L955.5 919.9L955.8 933.2L955.5 922.2L954.8 891.2ZM955.8 932.2L956.8 876.2L957 863.3L957.3 846L957.8 860.6L958.6 886.3L958.8 891.5L959.7 913.8L958.8 892.7L958.6 894.1L957.8 866.4L957.3 850.7L957 868.6L956.8 882L955.8 932.2ZM959.8 916.5L960.8 941.5L960.9 945L961.7 964.5L961.8 964.9L962.5 968.7L961.8 968.6L961.7 969.2L960.9 950.5L960.8 947.1L959.8 916.5ZM965.3 947.9L965.8 936.5L965.9 933.1L966.8 894.4L967.5 862.9L967.8 868.1L968.8 885.4L969.2 892.6L969.5 892.8L969.8 893L970.8 893.6L971.8 894.1L971.9 894.2L972.8 890.6L973.8 886.8L974.7 883.3L974.8 882.9L975 882.1L975.3 880.9L975.8 883.4L975.8 883.5L976.6 887.5L976.8 888.8L977.3 891.6L977.8 894L978.1 895.7L978.8 903.2L979.8 914.4L980 916.6L980.8 925.5L980.9 927L981.6 918.7L981.8 915.5L982.8 902.2L982.8 902L983.8 893.8L984.8 885.4L985.2 882.4L985.6 878.6L985.8 868.4L986.2 842.1L986.6 824L986.8 778.1L987.5 643.1L987.8 700.9L988.4 824.1L988.8 855.1L988.8 860.1L989.1 886.1L989.5 948.7L989.8 947.3L989.8 947.1L990.8 941.4L991.8 935.5L992.2 933.2L992.8 928.8L993.8 921.5L994.5 916.2L994.8 914.3L995.6 908.3L995.8 911L996.1 915.7L996.8 927L997.2 933.3L997.8 949.3L998.1 957.7L998.4 966.1L998.8 965.6L999.8 964.2L1000 964L1000.8 962.9L1000.8 962.9L1001.6 960.6L1001.8 959.9L1001.6 961.4L1000.8 968.7L1000.8 968.8L1000 971.8L999.8 972.1L998.8 973.4L998.4 973.9L998.1 971.5L997.8 969.1L997.2 964.5L996.8 957.1L996.1 943.6L995.8 938.1L995.6 934.8L994.8 939.3L994.5 940.8L993.8 944.8L992.8 950.2L992.2 953.5L991.8 954L990.8 955.2L989.8 956.3L989.8 956.4L989.5 956.6L989.1 906.2L988.8 878.3L988.8 873L988.4 839.8L987.8 743.9L987.5 698.9L986.8 803.9L986.6 839.6L986.2 857.7L985.8 884L985.6 894.2L985.2 898.1L984.8 901.1L983.8 909.4L982.8 917.7L982.8 917.8L981.8 928.9L981.6 931.5L980.9 938.4L980.8 940L980 948.9L979.8 945.5L978.8 928.9L978.1 917.6L977.8 915L977.3 911.3L976.8 907L976.6 905.1L975.8 899L975.8 898.9L975.3 899.4L975 899.8L974.8 900.1L974.7 900.2L973.8 901.3L972.8 902.5L971.9 903.6L971.8 903.7L970.8 905L969.8 906.3L969.5 906.7L969.2 906L968.8 905L967.8 902.7L967.5 902L966.8 919.5L965.9 941L965.8 942L965.3 947.9ZM1003.9 931.1L1004.7 917.6L1004.8 914.8L1005.8 889.5L1006.2 878.1L1006.8 864.2L1007.3 850.5L1007.8 859.2L1007.8 859.4L1008.8 878.4L1009.4 889.6L1009.8 899.1L1010.2 907.2L1010.6 917.5L1010.8 921L1010.6 920.6L1010.2 909.7L1009.8 901.2L1009.4 891.2L1008.8 889.3L1007.8 886.4L1007.8 886.4L1007.3 887.3L1006.8 888.4L1006.2 889.5L1005.8 897.9L1004.8 916.6L1004.7 917.6L1003.9 931.1ZM1014.8 927.6L1015.3 902.1L1015.6 917.4L1015.8 926.4L1016.4 956.7L1016.8 960.6L1016.4 959.8L1015.8 936.4L1015.6 929.5L1015.3 917.6L1014.8 927.6ZM1019.8 978L1020.6 933.5L1020.8 922.3L1021.1 904.2L1021.8 859.8L1021.9 855.2L1022.7 868.7L1022.8 871.2L1023.8 888.5L1024.2 895.8L1024.8 901.2L1025.8 910.5L1026.6 917.6L1026.8 920L1027.8 930L1027.8 930.1L1028.1 933.2L1028.8 929L1029.7 923.3L1029.8 922.6L1030.5 918.4L1030.8 918.1L1031.2 917.6L1031.7 917.2L1031.8 917.1L1032 916.8L1031.8 922.5L1031.7 922.6L1031.2 923.1L1030.8 923.5L1030.5 923.9L1029.8 931L1029.7 932.2L1028.8 941.7L1028.1 948.8L1027.8 944.1L1027.8 944L1026.8 929L1026.6 925.4L1025.8 917.8L1024.8 907.8L1024.2 902L1023.8 897.8L1022.8 887.8L1022.7 886.4L1021.9 878.6L1021.8 882.3L1021.1 917.8L1020.8 932.3L1020.6 941.1L1019.8 978ZM1032 916.8L1032.8 862.5L1032.8 861.8L1033.1 839.9L1033.6 827.9L1033.8 822.6L1034.4 808.2L1034.8 803.6L1035.8 792.6L1035.9 791.1L1036.2 793.9L1036.8 799L1037.8 808.1L1037.8 808.2L1038.6 792.7L1038.8 723.9L1039.1 637.2L1039.8 605.8L1039.8 604.2L1040.8 621.7L1041.8 640.1L1041.9 641.4L1042.8 618.4L1043.4 602.5L1043.8 612L1044.8 638.5L1045.3 651.9L1045.8 700.7L1046.6 776.7L1046.8 791.2L1046.6 778.3L1045.8 703.3L1045.3 655.1L1044.8 643.6L1043.8 621.1L1043.4 613L1042.8 624.6L1041.9 641.4L1041.8 640.5L1040.8 626.4L1039.8 613.1L1039.8 614.4L1039.1 640.3L1038.8 727L1038.6 795.8L1037.8 812.9L1037.8 812.9L1036.8 807.9L1036.2 805.1L1035.9 803.6L1035.8 805.2L1034.8 817.2L1034.4 822.3L1033.8 829.2L1033.6 831.9L1033.1 859.2L1032.8 877.1L1032.8 877.7L1032 916.8ZM1047.3 823.6L1047.8 793.5L1047.8 792.8L1048.8 730.1L1048.8 726L1049.5 665.1L1049.8 683.6L1050.5 730.2L1050.8 750L1051.2 777L1051.6 863.8L1051.2 780.1L1050.8 753.1L1050.5 733.3L1049.8 687.6L1049.5 669.3L1048.8 729.2L1048.8 733.2L1047.8 795.9L1047.8 796.6L1047.3 823.6ZM1055.9 972.2L1056.8 941.5L1057 933.3L1057.5 914.5L1057.8 902.5L1057.8 902.1L1058.1 889.7L1058.8 888.2L1059.1 887.7L1059.4 887.2L1059.8 891.2L1060.8 900.7L1060.9 902L1061.7 906.9L1060.9 904.1L1060.8 903.6L1059.8 900.3L1059.4 898.9L1059.1 900.5L1058.8 901.8L1058.1 905.2L1057.8 906.8L1057.8 907.1L1057.5 917.6L1057 934.1L1056.8 942.1L1055.9 972.2ZM1061.7 906.9L1061.8 907.4L1062.2 909.7L1062.5 894.2L1062.8 879.2L1063.3 855.2L1063.8 843.2L1064.1 837.2L1064.8 880.9L1065.2 902.1L1065.6 919.4L1065.8 926.1L1066.4 949L1066.8 962.3L1066.4 950.4L1065.8 928.5L1065.6 921.9L1065.2 905.3L1064.8 893.9L1064.1 870.8L1063.8 878.1L1063.3 892.7L1062.8 904.1L1062.5 908.2L1062.2 911.4L1061.8 907.5L1061.7 906.9ZM1069.8 935.8L1070.8 923.3L1071.1 919.6L1071.8 910.8L1071.9 909.7L1072.8 894.4L1073.4 883.7L1073.8 877.7L1074.2 870.7L1074.8 859.8L1075 856L1075.8 840.9L1076.2 832.5L1076.6 837.8L1076.8 841.9L1077.8 858.9L1078.1 864.4L1078.8 878L1078.9 880.2L1079.7 895.7L1078.9 882.5L1078.8 880.4L1078.1 867.5L1077.8 862.7L1076.8 847.7L1076.6 844.1L1076.2 839.5L1075.8 847.1L1075 860.7L1074.8 864L1074.2 873.9L1073.8 880.9L1073.4 886.9L1072.8 897.5L1071.9 912.9L1071.8 913.7L1071.1 920.8L1070.8 923.7L1069.8 935.8ZM1080.8 882L1081.2 777L1081.7 636.3L1081.8 629.4L1082.5 569.7L1082.8 574.5L1082.8 574.6L1083.8 590.5L1084.1 594.6L1084.8 585.8L1085.8 573.8L1086.4 566.6L1086.8 574.1L1087.8 593.2L1088.3 602.4L1088.8 640.8L1089.4 683.6L1089.4 683.6L1088.8 658.7L1088.3 633.7L1087.8 633.7L1086.8 633.7L1086.4 628.6L1085.8 628.6L1084.8 628.6L1084.1 628.6L1083.8 628.6L1082.8 628.6L1082.8 628.6L1082.5 628.6L1081.8 636.9L1081.7 636.4L1081.2 778.6L1080.8 882ZM1089.4 683.6L1089.8 715.1L1090.6 776.6L1090.8 786L1091.4 817.2L1091.8 837.2L1091.9 841.1L1092.5 841.3L1092.8 841.4L1093.8 841.8L1093.8 842.5L1094.5 852.5L1094.8 856.2L1095.8 869.9L1096.1 873.8L1096.6 872.2L1096.8 871.4L1097.7 868.2L1097.8 860.5L1098.1 842.9L1098.4 825.3L1098.8 808.2L1098.4 854.6L1098.1 889.8L1097.8 909L1097.7 917.4L1096.8 926.2L1096.6 928.6L1096.1 933.2L1095.8 930.7L1094.8 922L1094.5 917.6L1093.8 913.4L1093.8 912.9L1092.8 912.9L1092.5 912.9L1091.9 906L1091.8 902.7L1091.4 863L1090.8 797.4L1090.6 778.2L1089.8 715.7L1089.4 683.6ZM1098.8 804.1L1099.4 755.7L1099.7 730L1099.8 724.7L1100.8 677.5L1100.8 678.7L1101.6 730L1101.8 744.4L1102.2 767.8L1101.8 761.4L1101.6 761.4L1100.8 731.1L1100.8 730.2L1099.8 761.4L1099.7 761.4L1099.4 761.4L1098.8 804.1ZM1103 795.8L1103.1 800.3L1103.4 805.2L1103.8 810.6L1104.2 816.9L1104.7 823.8L1104.8 820.4L1105.6 795L1105.8 790L1105.8 789.4L1106.2 775.4L1106.4 778.5L1106.6 781.3L1106.8 785.9L1107 790.3L1107.8 804.9L1107.8 805.1L1108.6 797.4L1108.8 795.3L1109.4 789.4L1109.8 785.3L1110.2 781.7L1110.8 789L1110.9 790.6L1111.7 799.4L1111.8 800.3L1112.5 808.2L1112.8 808.7L1113.3 809.5L1113.8 810.4L1114.1 810.8L1114.8 812.1L1114.8 812.1L1115.8 806.6L1115.9 805.8L1116.4 803.1L1116.8 800.9L1116.9 800.4L1117.5 792.6L1117.8 771.5L1118 759.5L1117.8 774.5L1117.5 808.2L1116.9 874.7L1116.8 883.3L1116.4 925L1115.9 927.3L1115.8 927.9L1114.8 931.7L1114.8 931.6L1114.1 929.3L1113.8 928.6L1113.3 927L1112.8 924.1L1112.5 922.3L1111.8 918.1L1111.7 917.6L1110.9 917.6L1110.8 917.6L1110.2 917.6L1109.8 917.6L1109.4 917.6L1108.8 923.4L1108.6 925.5L1107.8 933.3L1107.8 933.4L1107 941.1L1106.8 943.4L1106.6 945.7L1106.4 941.2L1106.2 936.4L1105.8 920.2L1105.8 917.6L1105.6 917.4L1104.8 916.2L1104.7 916.1L1104.2 916.6L1103.8 916.3L1103.4 916.1L1103.1 858.2L1103 795.8ZM1118.8 700.9L1119.5 649.4L1119.8 628.7L1120 613.2L1120.3 589.4L1120.8 594.7L1121.6 603.2L1121.8 605.9L1121.9 606.8L1122.2 610.3L1122.8 613.8L1123.8 619.6L1124.2 622L1124.8 621.8L1125.8 621.5L1126.6 621.2L1126.8 622.5L1127.8 627.8L1128.1 629.5L1128.8 633.2L1128.9 633.8L1129.8 645.6L1130 648.3L1130.5 654.6L1130.8 659L1131.2 665L1131.6 670L1131.8 673.9L1132 677.6L1132.3 682.7L1132.5 685.3L1132.8 684.8L1132.8 684.8L1133.8 683.1L1134.1 682.7L1134.4 682.3L1134.8 698.3L1135.2 711.9L1135.6 721.1L1135.8 724.7L1135.9 727.5L1136.7 743.2L1136.8 746.8L1137.5 778.5L1137.8 792.1L1137.8 792.5L1138.3 808.2L1138.8 815.9L1139.8 830.5L1140.3 838L1140.6 842.6L1140.8 841.4L1141.8 834.6L1142.8 827.8L1143 826.7L1143.8 821.4L1143.8 821L1144.5 816.1L1144.8 819.5L1145.8 832.1L1146.1 835.8L1146.6 841.8L1146.8 844.8L1146.9 845.8L1147.8 851.9L1148.4 856.2L1148.8 858.2L1148.8 858L1149.8 853.6L1150.8 849.2L1150.8 849.1L1151.6 845.8L1151.8 844.3L1152.3 841.1L1152.8 838.3L1153.1 836.4L1153.8 832.3L1154.7 827L1154.8 826.3L1155.5 822.3L1155.8 821.1L1156.8 817.3L1157.8 813.6L1157.8 813.5L1158.6 810.6L1158.8 811.5L1159.8 815.8L1160.8 820.2L1160.9 820.8L1161.8 824.3L1162.5 827.3L1162.8 828.5L1162.8 828.6L1163.8 826.1L1164.1 825.4L1164.4 815.9L1164.8 803.3L1165.2 792.4L1165.6 761.7L1165.2 793.6L1164.8 805.9L1164.4 819.7L1164.1 830.1L1163.8 830.8L1162.8 833.2L1162.8 833.2L1162.5 832.2L1161.8 829.9L1160.9 827L1160.8 826.6L1159.8 824L1158.8 821.3L1158.6 820.8L1157.8 822.7L1157.8 822.7L1156.8 825.2L1155.8 827.7L1155.5 828.6L1154.8 832.3L1154.7 832.9L1153.8 837.9L1153.1 841.7L1152.8 843.5L1152.3 846.1L1151.8 849.1L1151.6 850.5L1150.8 855.1L1150.8 855.2L1149.8 861.2L1148.8 867.3L1148.8 867.6L1148.4 865.6L1147.8 861.3L1146.9 855.2L1146.8 854.7L1146.6 853.2L1146.1 850.4L1145.8 848.7L1144.8 842.7L1144.5 841.1L1143.8 836.7L1143.8 836.4L1143 838.7L1142.8 839.2L1141.8 842.2L1140.8 845.2L1140.6 845.7L1140.3 841.3L1139.8 834.2L1138.8 820.2L1138.3 812.9L1137.8 794.1L1137.8 793.7L1137.5 780.9L1136.8 751.2L1136.7 747.8L1135.9 733.3L1135.8 730.7L1135.6 727.4L1135.2 724.2L1134.8 721.7L1134.4 718.8L1134.1 716.5L1133.8 716.5L1132.8 716.5L1132.8 716.5L1132.5 716.5L1132.3 716.5L1132 716.5L1131.8 713.5L1131.6 710.4L1131.2 706.4L1130.8 700.5L1130.5 696.2L1130 691.5L1129.8 689.5L1128.9 680.6L1128.8 680.4L1128.1 679.3L1127.8 678.7L1126.8 677.1L1126.6 676.7L1125.8 677.2L1124.8 677.9L1124.2 678.2L1123.8 673.7L1122.8 662.8L1122.2 656.2L1121.9 652.8L1121.8 651.9L1121.6 649.3L1120.8 644.6L1120.3 641.6L1120 646.8L1119.8 650.1L1119.5 654.6L1118.8 700.9ZM1165.8 719.6L1166.1 650.2L1166.8 599.9L1166.9 594.6L1167.2 588L1167.8 575.2L1168.1 568.5L1168.4 562L1168.8 580.7L1169.2 602.6L1169.7 636.1L1169.2 604.1L1168.8 591.5L1168.4 580.7L1168.1 571.4L1167.8 579.9L1167.2 596.2L1166.9 612.3L1166.8 616.5L1166.1 652.9L1165.8 719.6ZM1170.8 692.8L1171.6 711.8L1171.8 715.2L1172 718.5L1172.3 723L1172.7 727.4L1172.8 726.7L1173.8 721L1173.9 720.4L1174.1 720.3L1174.8 719.5L1175.5 718.9L1175.8 719.7L1175.9 720.1L1176.8 722.2L1177 722.8L1177.8 726.6L1178.3 729L1178.6 730.6L1178.8 734.7L1179.8 754.7L1180.2 761.9L1180.6 762.7L1180.8 763.1L1181.8 765L1182.2 765.8L1182.8 770.1L1183 771.3L1183.8 776.8L1183.8 777.2L1184.1 779L1184.8 782L1185.3 784L1185.8 786L1186.4 788.4L1186.8 789.4L1187.8 791.8L1188.1 792.5L1188.3 792.9L1188.4 788.5L1188.8 778.3L1189.2 766.5L1189.8 756.2L1190 752.6L1190.3 747L1190.8 750.7L1190.8 750.9L1191.8 758.8L1192.2 761.9L1192.3 764.9L1192.8 774L1192.8 774.2L1193.8 792.9L1193.8 794.3L1193.9 797.3L1194.7 818.4L1194.8 821.4L1195.5 839.5L1195.8 847.4L1196.2 858.2L1196.8 871.4L1197 877L1197.8 884.1L1198.6 891.4L1198.8 893.3L1199.1 895.7L1199.8 898.9L1200.8 903.2L1201.2 905.1L1201.8 904.9L1202.8 904.5L1203.3 904.3L1203.8 903.9L1204.8 903.2L1205.3 902.8L1205.6 903.5L1205.8 904L1206.8 906.5L1206.9 906.6L1207.8 891L1208.4 880.2L1208.8 885.9L1208.8 886.8L1209.8 905.1L1210.3 914.5L1210.8 918.1L1211.8 925.4L1212.7 931.6L1212.8 928.7L1213.8 907.9L1214.7 889.5L1214.8 889L1215.8 884.4L1216.6 881L1216.8 879.9L1217.8 875.4L1218.1 873.9L1218.8 867.8L1218.9 866.8L1219.8 858.8L1220.5 852.8L1220.8 854.4L1221.8 859.4L1222.5 862.9L1222.8 863L1222.8 863L1223.8 863.3L1224.8 863.6L1225.2 863.7L1225.8 863.5L1226.8 863.1L1227.2 862.9L1227.8 864L1228.3 864.8L1228.8 865.6L1229.1 866.1L1228.8 872.4L1228.3 887.2L1227.8 887.2L1227.2 887.2L1226.8 887.2L1225.8 887.2L1225.2 887.2L1224.8 886.8L1223.8 886L1222.8 885.1L1222.8 885.1L1222.5 884.8L1221.8 882.7L1220.8 879.6L1220.5 878.6L1219.8 880.8L1218.9 883.8L1218.8 884.1L1218.1 886.4L1217.8 888.1L1216.8 893.6L1216.6 894.9L1215.8 899.1L1214.8 904.5L1214.7 905.1L1213.8 917.4L1212.8 931.3L1212.7 933.2L1211.8 927.5L1210.8 920.9L1210.3 917.6L1209.8 909.1L1208.8 892.4L1208.8 891.6L1208.4 886.4L1207.8 897.2L1206.9 912.9L1206.8 912.9L1205.8 911.9L1205.6 911.7L1205.3 911.4L1204.8 911.6L1203.8 912L1203.3 912.2L1202.8 912.7L1201.8 913.9L1201.2 914.5L1200.8 912.6L1199.8 908.3L1199.1 905.1L1198.8 902.7L1198.6 900.8L1197.8 893.5L1197 886.3L1196.8 879.9L1196.2 864.5L1195.8 851.9L1195.5 842.7L1194.8 823.8L1194.7 820.7L1193.9 798.7L1193.8 795.6L1193.8 794.2L1192.8 776.6L1192.8 776.4L1192.3 767.8L1192.2 765L1191.8 762.1L1190.8 754.6L1190.8 754.4L1190.3 750.9L1190 756.3L1189.8 759.7L1189.2 769.6L1188.8 786.2L1188.4 800.3L1188.3 799.8L1188.1 799.2L1187.8 798L1186.8 794.1L1186.4 792.6L1185.8 791L1185.3 789.7L1184.8 788.3L1184.1 786.4L1183.8 784.7L1183.8 784.4L1183 779.4L1182.8 778.3L1182.2 774.4L1181.8 772.9L1180.8 769L1180.6 768.3L1180.2 766.5L1179.8 760.1L1178.8 742.1L1178.6 738.4L1178.3 736.2L1177.8 732.8L1177 727.5L1176.8 727.1L1175.9 725.8L1175.8 725.6L1175.5 725.1L1174.8 726.1L1174.1 727.2L1173.9 727.5L1173.8 728L1172.8 733L1172.7 733.7L1172.3 729.7L1172 725.7L1171.8 722.7L1171.6 719.5L1170.8 692.8ZM1229.8 842.7L1230.8 813.9L1230.9 809.8L1231.8 809.2L1232.2 809L1232.8 808.6L1233.8 808L1233.8 807.9L1234.5 807.5L1234.8 805.3L1235.8 797.2L1236.6 791.1L1236.8 788.2L1237.8 775.9L1238.4 768.1L1238.8 774.3L1239.8 791.4L1240.8 808.2L1240.8 808.8L1241.8 836.8L1242.8 864.8L1243.1 873.7L1243.8 885.6L1244.8 902.9L1245.5 914.5L1245.8 918.3L1246.8 929.9L1247.5 937.9L1247.8 938.3L1248.8 939.6L1249.4 940.3L1249.8 940.1L1250.2 939.9L1250.8 939.6L1250.9 939.5L1251.7 925.9L1251.8 924.6L1252.8 907.2L1253.3 898.9L1253.8 890.8L1253.8 889.9L1254.8 872.6L1255.6 858.3L1255.8 855L1256.8 836.7L1257.5 823.9L1257.8 818.5L1258.8 800.5L1259.1 795.8L1259.5 797.2L1259.8 798L1260.6 800.4L1260.8 805.9L1261.1 815L1261.8 837.2L1261.9 839.6L1262.7 847.9L1262.8 849.4L1263.8 860L1264.2 864.5L1264.8 866L1265 866.6L1265.8 868.7L1266.6 870.7L1266.8 871.1L1267.3 871.8L1267.8 872.4L1268.8 873.7L1268.9 873.9L1269.7 878.1L1269.8 878.6L1270.8 884L1271.2 886.4L1271.8 889.7L1272 891.1L1272.8 895.7L1273.6 900.4L1273.8 901L1274.4 902.5L1274.8 903.7L1275.8 906.3L1275.9 906.7L1276.7 910.3L1276.8 910.7L1277.8 915.4L1278.3 917.6L1278.8 918L1279.1 918.1L1279.8 918.6L1280.6 919.2L1280.8 918.2L1280.9 917.3L1281.8 912.3L1282.5 908.2L1282.8 911L1283.8 920.2L1284.5 927L1284.8 927.5L1285.8 929.5L1286.8 931.5L1286.9 931.7L1287.8 927.8L1288.8 923.5L1288.9 923.1L1289.2 924.5L1289.8 927L1290.8 931.3L1291.2 933.2L1291.6 934.7L1291.8 935.8L1292.8 940.5L1293.8 945.2L1293.9 945.7L1294.8 942.2L1295 941.4L1295.8 938.2L1296.8 934.2L1297 933.3L1297.8 932.5L1298.8 931.5L1299.1 931.2L1299.4 930.9L1299.8 927.9L1300.8 920.8L1300.9 919.8L1301.2 917.6L1301.8 919.3L1302.8 922.4L1303.3 923.9L1303.8 923.2L1304.8 921.9L1305.6 920.8L1305.8 918.9L1306.8 908.2L1307.8 897.6L1308 895.7L1308.8 894.4L1309.8 892.7L1310.3 891.8L1310.8 899.9L1311.8 916.4L1311.9 917.7L1312.8 927.5L1313.4 934.3L1313.8 938.2L1314.2 942.6L1314.8 939.9L1315.3 937.6L1315.8 935.3L1316.2 933.2L1316.8 929.6L1317.3 926L1317.8 922.9L1318.1 920.8L1318.8 917.2L1318.9 916.6L1319.8 911.8L1320.5 908.3L1320.8 911.8L1320.9 913.3L1321.8 922.4L1322.8 933.1L1322.8 933.2L1323.1 930.8L1323.8 925.4L1324.8 917.4L1325.2 914.5L1325.8 916.7L1326.8 920.2L1327.2 921.5L1327.8 924.8L1328.8 930L1328.8 930.3L1329.1 931.7L1329.8 927.3L1330.6 922.3L1330.8 921.3L1331.4 917.6L1331.8 913.7L1332.2 909.8L1332.8 903.7L1333 902L1333.8 894.2L1333.8 894L1334.5 892L1334.8 891.2L1335.3 889.8L1335.8 888.4L1336.6 886.3L1336.8 885.6L1337.7 883.3L1337.8 884L1338.8 889.3L1339.2 891.6L1339.8 894.7L1340 895.8L1340.8 900.9L1340.8 901.1L1341.8 907.7L1342.3 911.3L1342.8 913.7L1343.1 915.3L1343.8 918.7L1344.7 923.1L1344.8 922.9L1345.5 922.1L1345.8 921.6L1346.8 920.3L1347 920L1347.8 918.2L1347.8 918.2L1348.8 915.8L1349.1 915.2L1349.4 914.4L1349.8 904.6L1350.2 896.2L1350.8 881.3L1351.2 870.8L1351.8 879.2L1352.5 890L1352.8 894.6L1353.3 902L1353.8 903L1354.8 905L1354.8 905.1L1355.6 895.8L1355.8 893.7L1356.8 881.7L1357.2 877L1357.8 874.6L1358 874L1358.8 870.7L1359.8 866.8L1360 866.1L1360.3 866.8L1360.8 867.9L1361.8 870.3L1362.7 872.3L1362.8 872.6L1363.8 874.6L1364.8 876.6L1365 877L1365.8 877.8L1366.8 878.8L1367.3 879.3L1367.8 885.3L1368.8 898.3L1369.4 905.8L1369.7 909.8L1369.8 908.1L1370.8 893.1L1370.9 891L1371.2 886.4L1371.8 886.4L1371.9 886.2L1372.8 861.4L1373.1 852.8L1373.4 844.2L1373.8 844.9L1374.2 845.8L1374.8 846.9L1375.8 848.9L1375.8 848.8L1376.8 845.1L1377.8 841.5L1378.1 840.3L1378.8 839.9L1379.4 839.5L1379.8 843.4L1380.5 849.5L1380.8 852.6L1381.2 856.7L1381.8 857.2L1382 857.5L1382.8 858.2L1382.8 858.2L1383.6 880L1383.8 885.9L1384.4 902.1L1384.8 906.5L1385.2 910.3L1385.6 915.2L1385.8 915.1L1386.2 914.7L1386.8 914.2L1387.5 913.6L1387.8 913.4L1388.3 912.9L1388.8 902.2L1389.8 881.4L1390.3 870.8L1390.6 867.4L1390.8 865.4L1391.8 854.4L1391.9 853.6L1392.8 852L1393.8 850.4L1393.8 850.6L1394.8 853.9L1395.6 856.7L1395.8 857.6L1396.1 859.2L1396.8 863L1397.7 867.6L1397.8 867.3L1398.8 865.3L1399.7 863.6L1399.8 863.3L1400.8 861.4L1400.8 861.5L1401.6 868.6L1401.8 870.9L1402.8 880.2L1403.1 883.2L1403.8 891.8L1404.7 903.1L1404.8 904.5L1405.5 912.9L1405.8 908.6L1405.9 906.8L1406.8 895.5L1407 892.5L1407.5 886.4L1407.8 883.6L1408.8 874.5L1409.4 869.2L1409.8 870.9L1410.8 874.9L1410.9 875.4L1411.7 878.6L1411.8 878.6L1412.5 878.9L1412.8 879L1413.3 879.2L1413.8 879.3L1413.8 878.9L1414.8 870.4L1414.8 870.1L1415.3 866.1L1415.8 874.3L1416.8 891.3L1416.9 892.6L1417.2 892.7L1417.8 892.9L1418.8 893.2L1418.8 893.2L1419.5 893.4L1419.8 890.4L1420.8 879.3L1421.1 876L1421.6 870.8L1421.8 868.3L1422.7 859.3L1422.8 857.9L1423.1 854.5L1423.4 851.2L1423.8 853.2L1424.8 858.6L1425 859.7L1425.3 861.4L1425.8 862.9L1426.8 866L1427.3 867.6L1427.8 869.8L1428.1 871.2L1428.8 874.4L1429.7 878.6L1429.8 879.3L1430.8 886L1431.2 889L1431.8 892.6L1432 894.2L1432.8 900.8L1433.6 907.7L1433.8 909.5L1434.4 914.5L1434.8 916.8L1435.8 922.1L1435.9 922.8L1436.7 927L1436.8 926.9L1437.5 926.2L1437.8 925.9L1438.3 925.4L1438.8 924.9L1439.1 924.7L1439.8 921.5L1439.8 921.3L1440.6 917.9L1440.8 917.1L1441.4 914.5L1441.8 912.4L1442.2 910.3L1442.8 907.1L1443 906.2L1443.8 902L1443.8 901.9L1444.8 898.9L1445.3 897.5L1445.6 896.5L1445.8 896.7L1446.1 897.1L1446.8 897.9L1447.7 898.9L1447.8 899.1L1448.8 900.6L1449.7 901.7L1449.8 890.8L1450.3 839.8L1450.8 810.3L1450.9 801.9L1451.2 783.8L1451.6 765.7L1451.8 767.4L1452.3 771.5L1452.8 775L1453.1 777.4L1453.8 780.6L1453.9 781.1L1454.4 783.3L1454.8 785.3L1455 786.2L1455.8 786.8L1456.2 787.1L1456.8 787.4L1456.9 787.5L1457 788.2L1457.5 790.4L1457.8 791.8L1458.8 796.2L1458.8 796.5L1459.4 800.2L1459.8 802.9L1460.8 809.3L1461.2 812.2L1461.7 812.8L1461.8 812.9L1462.5 813.9L1462.8 814.3L1463.8 815.6L1463.8 815.7L1464.1 816.1L1464.8 815.6L1464.8 815.5L1465.6 815L1465.8 814.9L1466.4 814.5L1466.8 813.5L1467.2 812.5L1467.8 811L1468 810.6L1468.8 812.1L1468.8 812.2L1469.1 812.7L1469.8 814.1L1470 814.5L1470.8 818.3L1471.1 819.6L1471.8 823L1472.7 827L1472.8 827.5L1473.4 829.7L1473.8 831L1474.2 832.5L1474.8 834.5L1475.8 837.9L1475.8 838L1476.2 839.3L1476.6 840.3L1476.8 841L1477.3 842.6L1477.8 844L1478.1 845L1478.8 847L1478.9 847.3L1479.4 847.9L1479.7 848.3L1479.8 848.4L1480.5 849.2L1480.8 849.6L1481.8 850.8L1482 851.1L1482.8 852L1482.8 852L1483.6 852.3L1483.8 852.3L1484.4 852.5L1484.8 852.7L1485.8 853L1486.8 853.3L1487.5 853.6L1487.8 851.5L1488.3 848.1L1488.8 844.5L1489.1 842.6L1489.8 835.7L1489.8 835.4L1490.8 826.4L1491.4 820.7L1491.8 818.5L1492.2 816.2L1492.8 812.7L1493.4 809L1493.8 808.9L1494.5 808.6L1494.8 808.5L1495.3 808.3L1495.8 811.5L1496.1 813.4L1496.8 818.2L1496.9 818.7L1497.7 823.9L1497.8 824.8L1498.8 831.5L1499.2 834.3L1499.8 838.2L1500 839.5L1500.8 841.9L1501.6 844.2L1501.8 844.9L1502.8 847.9L1503.1 848.9L1503.8 846.9L1503.9 846.5L1504.8 843.9L1505.5 841.8L1505.8 841.6L1506.2 841.3L1506.8 841L1507.8 840.3L1507.8 840.3L1508.6 840.7L1508.8 840.8L1509.4 841L1509.8 839.4L1510.8 835.4L1510.9 834.8L1511.7 831.7L1511.8 831.5L1512.5 829.6L1512.8 828.8L1513.3 827.5L1513.8 826.1L1514.1 825.4L1514.8 824.8L1515.6 824.1L1515.8 824L1515.9 823.9L1516.8 825.2L1517.8 826.7L1518 827L1518.8 827L1519.5 827L1519.8 827L1520.3 827L1520.8 827.6L1521.8 829L1522.7 830.1L1522.8 830.3L1523.4 831.1L1523.8 831.6L1524.8 832.8L1525.8 834L1525.8 833.8L1526.2 828.6L1526.8 822.3L1527.3 816.1L1527.8 809.2L1528.1 804.4L1528.4 804.2L1528.8 804.1L1529.7 803.8L1529.8 803.8L1530.5 803.6L1530.8 803.3L1531.2 803L1531.6 802.8L1531.8 802.7L1532.8 802L1532.8 802L1533.1 803.2L1533.6 805.1L1533.8 805.9L1534.4 808.3L1534.7 809L1534.8 809.3L1535.2 810.2L1535.8 811.8L1535.9 812.2L1536.7 810.9L1536.8 810.7L1537.5 809.6L1537.8 809.1L1538.3 808.3L1538.8 806.2L1539.1 805.1L1539.8 802.2L1540.6 798.9L1540.8 798.2L1541.4 796L1541.8 794.6L1542.2 793.1L1542.8 790.9L1543 790.3L1543.8 786.8L1543.8 786.6L1544.8 782.1L1545 781.2L1545.3 779.8L1545.8 777.6L1546.1 776.3L1546.8 773.1L1547.5 770L1547.7 771L1547.8 772L1548.4 776.2L1548.8 778.6L1549.2 781.4L1549.4 782.5L1549.8 785.6L1550.8 792.8L1550.8 792.9L1551.2 796.2L1551.6 798.2L1551.8 799.7L1552.8 806.2L1553.1 808.2L1553.8 805.6L1553.9 805.1L1554.7 802L1554.8 801.7L1555.5 800L1555.8 799.2L1556.2 798.1L1556.8 798.9L1557.8 800.4L1557.8 800.4L1558.8 813.3L1559.4 820.8L1559.8 822.9L1560 823.9L1560 856.7L1559.8 856.8L1559.4 856.9L1558.8 857.1L1557.8 857.5L1557.8 857.5L1556.8 858.5L1556.2 859L1555.8 856.5L1555.5 854.6L1554.8 850.8L1554.7 850.2L1553.9 845.8L1553.8 845L1553.1 840L1552.8 837.6L1551.8 830.3L1551.6 828.5L1551.2 826.5L1550.8 823.5L1550.8 823.3L1549.8 816.8L1549.4 814L1549.2 812.9L1548.8 811.3L1548.4 809.8L1547.8 807.3L1547.7 806.7L1547.5 807.3L1546.8 810.1L1546.1 813L1545.8 814.5L1545.3 817.1L1545 818.8L1544.8 819.8L1543.8 825.2L1543.8 825.4L1543 827.5L1542.8 828L1542.2 829.6L1541.8 830.6L1541.4 831.7L1540.8 833.1L1540.6 833.5L1539.8 835.4L1539.1 837.2L1538.8 837.5L1538.3 838.2L1537.8 838.8L1537.5 839.2L1536.8 840.2L1536.7 840.3L1535.9 838.5L1535.8 838.1L1535.2 836.6L1534.8 835.8L1534.7 835.5L1534.4 834.8L1533.8 832.8L1533.6 832.1L1533.1 830.4L1532.8 829.3L1532.8 829.4L1531.8 830.4L1531.6 830.6L1531.2 830.9L1530.8 831.4L1530.5 831.7L1529.8 831.5L1529.7 831.4L1528.8 831.1L1528.4 831L1528.1 831L1527.8 834.5L1527.3 839.6L1526.8 846.8L1526.2 854.3L1525.8 860.3L1525.8 860.6L1524.8 859.4L1523.8 858.1L1523.4 857.7L1522.8 856.9L1522.7 856.7L1521.8 855.5L1520.8 854.2L1520.3 853.6L1519.8 853.6L1519.5 853.6L1518.8 853.6L1518 853.6L1517.8 853.3L1516.8 852L1515.9 850.9L1515.8 850.7L1515.6 850.4L1514.8 850.9L1514.1 851.2L1513.8 851.8L1513.3 853L1512.8 854.2L1512.5 854.9L1511.8 856.5L1511.7 856.7L1510.9 859L1510.8 859.4L1509.8 862.4L1509.4 863.7L1508.8 863.4L1508.6 863.3L1507.8 862.9L1507.8 862.9L1506.8 863.6L1506.2 864L1505.8 864.3L1505.5 864.5L1504.8 866.3L1503.9 868.7L1503.8 869L1503.1 870.7L1502.8 869.9L1501.8 867.4L1501.6 866.8L1500.8 864.9L1500 862.9L1499.8 862.3L1499.2 860.3L1498.8 858.9L1497.8 855.6L1497.7 855.1L1496.9 854.1L1496.8 854L1496.1 853L1495.8 852.6L1495.3 852L1494.8 851.6L1494.5 851.3L1493.8 850.7L1493.4 850.4L1492.8 851.4L1492.2 852.4L1491.8 853L1491.4 853.6L1490.8 856.4L1489.8 860.9L1489.8 861.1L1489.1 864.5L1488.8 865.6L1488.3 867.6L1487.8 869.6L1487.5 870.8L1486.8 870.3L1485.8 869.7L1484.8 869.1L1484.4 868.9L1483.8 868.5L1483.6 868.4L1482.8 867.9L1482.8 867.9L1482 867.5L1481.8 867.3L1480.8 866.7L1480.5 866.5L1479.8 866.1L1479.7 866.1L1479.4 865.6L1478.9 864.9L1478.8 864.7L1478.1 863.7L1477.8 863.2L1477.3 862.5L1476.8 861.7L1476.6 861.4L1476.2 860.4L1475.8 859.1L1475.8 859L1474.8 856.1L1474.2 854.3L1473.8 853.1L1473.4 852L1472.8 849.9L1472.7 849.4L1471.8 846.5L1471.1 844.2L1470.8 843.4L1470 841.3L1469.8 840.7L1469.1 838.8L1468.8 838.1L1468.8 837.9L1468 838.3L1467.8 838.4L1467.2 838.7L1466.8 839.9L1466.4 841.1L1465.8 842.9L1465.6 843.4L1464.8 845.7L1464.8 845.7L1464.1 844.3L1463.8 843.8L1463.8 843.7L1462.8 841.3L1462.5 840.6L1461.8 838.8L1461.7 838.6L1461.2 837.5L1460.8 835.2L1459.8 830.2L1459.4 828.1L1458.8 825.2L1458.8 825L1457.8 821.5L1457.5 820.4L1457 818.7L1456.9 818.1L1456.8 818.1L1456.2 818.3L1455.8 818.5L1455 818.7L1454.8 817.8L1454.4 815.8L1453.9 813.6L1453.8 813.1L1453.1 809.9L1452.8 808.1L1452.3 805.6L1451.8 802.5L1451.6 801.4L1451.2 820.4L1450.9 839.3L1450.8 846.4L1450.3 871L1449.8 924.6L1449.7 936.1L1448.8 935.6L1447.8 934.7L1447.7 934.6L1446.8 933.9L1446.1 933.2L1445.8 933.2L1445.6 933.1L1445.3 933L1444.8 932.8L1443.8 932.5L1443.8 932.5L1443 932.9L1442.8 932.9L1442.2 933.2L1441.8 934.8L1441.4 936.4L1440.8 938.8L1440.6 939.5L1439.8 942.6L1439.8 942.7L1439.1 944.7L1438.8 945.4L1438.3 946.8L1437.8 948.1L1437.5 948.9L1436.8 945.4L1436.7 945L1435.9 941.1L1435.8 940.4L1434.8 935.4L1434.4 933.3L1433.8 929.4L1433.6 928L1432.8 922.7L1432 917.6L1431.8 917L1431.2 915.5L1430.8 914.3L1429.8 911.7L1429.7 911.4L1428.8 907.8L1428.1 905.1L1427.8 903.8L1427.3 902L1426.8 899.9L1425.8 896.1L1425.3 894.2L1425 892.6L1424.8 891.6L1423.8 886.6L1423.4 884.8L1423.1 886.7L1422.8 888.5L1422.7 889.3L1421.8 894.4L1421.6 895.8L1421.1 898.7L1420.8 900.4L1419.8 906.6L1419.5 908.2L1418.8 907.4L1418.8 907.3L1417.8 906.2L1417.2 905.5L1416.9 905.1L1416.8 904.2L1415.8 892.2L1415.3 886.4L1414.8 888.3L1414.8 888.4L1413.8 892.4L1413.8 892.6L1413.3 893L1412.8 893.4L1412.5 893.6L1411.8 894.1L1411.7 894.2L1410.9 892.6L1410.8 892.3L1409.8 890.3L1409.4 889.5L1408.8 894.8L1407.8 903.9L1407.5 906.7L1407 911L1406.8 913.1L1405.9 921.1L1405.8 922.4L1405.5 925.4L1404.8 921L1404.7 920.2L1403.8 914.3L1403.1 909.8L1402.8 908.2L1401.8 903.2L1401.6 902L1400.8 898.2L1400.8 898.1L1399.8 900.8L1399.7 901.1L1398.8 903.5L1397.8 906.3L1397.7 906.7L1396.8 904.1L1396.1 901.9L1395.8 901L1395.6 900.4L1394.8 898.4L1393.8 895.9L1393.8 895.8L1392.8 896.5L1391.9 897.3L1391.8 897.5L1390.8 900.5L1390.6 901.1L1390.3 902L1389.8 907.9L1388.8 919.5L1388.3 925.4L1387.8 928L1387.5 929.6L1386.8 933.4L1386.2 936.4L1385.8 933.7L1385.6 932.7L1385.2 930L1384.8 927.9L1384.4 925.5L1383.8 911.1L1383.6 905.8L1382.8 886.4L1382.8 886.3L1382 884.8L1381.8 884.3L1381.2 883.2L1380.8 880.6L1380.5 878.7L1379.8 874.8L1379.4 872.3L1378.8 872.7L1378.1 873.1L1377.8 874.1L1376.8 877.1L1375.8 880.1L1375.8 880.1L1374.8 877.5L1374.2 876L1373.8 874.8L1373.4 873.9L1373.1 881.2L1372.8 888.5L1371.9 909.7L1371.8 908.9L1371.2 902L1370.9 905.7L1370.8 907.4L1369.8 919.4L1369.7 920.7L1369.4 917.9L1368.8 912.5L1367.8 903.1L1367.3 898.9L1366.8 898.9L1365.8 898.9L1365 898.9L1364.8 898.7L1363.8 897.7L1362.8 896.7L1362.7 896.5L1361.8 896.5L1360.8 896.5L1360.3 896.5L1360 896.5L1359.8 896.9L1358.8 898.9L1358 900.5L1357.8 900.8L1357.2 902L1356.8 905.6L1355.8 915L1355.6 916.6L1354.8 923.9L1354.8 923.9L1353.8 924.9L1353.3 925.4L1352.8 914.3L1352.5 907.4L1351.8 891.3L1351.2 878.6L1350.8 889.1L1350.2 904L1349.8 912.4L1349.4 922.2L1349.1 924L1348.8 925.4L1347.8 930.7L1347.8 930.7L1347 934.8L1346.8 935.1L1345.8 936.5L1345.5 936.9L1344.8 937.8L1344.7 937.9L1343.8 932.6L1343.1 928.5L1342.8 926.6L1342.3 923.9L1341.8 921.3L1340.8 916.7L1340.8 916.6L1340 912.9L1339.8 912.7L1339.2 912.2L1338.8 911.7L1337.8 910.7L1337.7 910.6L1336.8 910.4L1336.6 910.4L1335.8 910.2L1335.3 910.1L1334.8 910L1334.5 910L1333.8 909.8L1333.8 909.8L1333 917.6L1332.8 919.3L1332.2 925.4L1331.8 929.3L1331.4 933.2L1330.8 936.1L1330.6 936.9L1329.8 940.7L1329.1 944.2L1328.8 942.7L1328.8 942.4L1327.8 936.8L1327.2 933.3L1326.8 933L1325.8 932.2L1325.2 931.7L1324.8 933.4L1323.8 938L1323.1 941.2L1322.8 942.6L1322.8 942.6L1321.8 937.2L1320.9 932.6L1320.8 931.9L1320.5 930.1L1319.8 931L1318.9 932.2L1318.8 932.4L1318.1 933.3L1317.8 934.3L1317.3 935.9L1316.8 937.7L1316.2 939.5L1315.8 942.6L1315.3 946L1314.8 949.5L1314.2 953.6L1313.8 948.8L1313.4 944.7L1312.8 937.5L1311.9 927.1L1311.8 926.5L1310.8 920.5L1310.3 917.6L1309.8 919.3L1308.8 922.7L1308 925.4L1307.8 926L1306.8 929.3L1305.8 932.7L1305.6 933.3L1304.8 934.9L1303.8 936.9L1303.3 937.9L1302.8 937.6L1301.8 936.8L1301.2 936.4L1300.9 936.6L1300.8 936.8L1299.8 937.6L1299.4 937.9L1299.1 939.4L1298.8 940.6L1297.8 945.3L1297 948.9L1296.8 950.5L1295.8 957.4L1295 962.9L1294.8 962.7L1293.9 961.4L1293.8 960.7L1292.8 954.9L1291.8 949L1291.6 947.6L1291.2 945.8L1290.8 944.5L1289.8 941.9L1289.2 940.3L1288.9 939.5L1288.8 939.7L1287.8 942.1L1286.9 944.2L1286.8 944L1285.8 942L1284.8 940L1284.5 939.5L1283.8 934.4L1282.8 927.5L1282.5 925.4L1281.8 930.1L1280.9 935.8L1280.8 936.8L1280.6 937.9L1279.8 935.2L1279.1 932.7L1278.8 931.9L1278.3 930.1L1277.8 928.8L1276.8 926.2L1276.7 926L1275.9 923.9L1275.8 923.3L1274.8 919.3L1274.4 917.6L1273.8 915.3L1273.6 914.5L1272.8 909.2L1272 904.1L1271.8 902.5L1271.2 898.9L1270.8 897.4L1269.8 894L1269.7 893.7L1268.9 891.1L1268.8 890.8L1267.8 888.8L1267.3 887.9L1266.8 886.8L1266.6 886.4L1265.8 883.3L1265 880.1L1264.8 879.3L1264.2 877L1263.8 873.1L1262.8 863.8L1262.7 862.5L1261.9 855.2L1261.8 854L1261.1 842.9L1260.8 838.3L1260.6 835.6L1259.8 835.6L1259.5 835.6L1259.1 835.6L1258.8 837.6L1257.8 845.1L1257.5 847.3L1256.8 856.1L1255.8 868.6L1255.6 870.8L1254.8 882.9L1253.8 897.5L1253.8 898.2L1253.3 905.1L1252.8 914.1L1251.8 932.8L1251.7 934.3L1250.9 948.8L1250.8 949.2L1250.2 950.8L1249.8 951.7L1249.4 952.8L1248.8 950.6L1247.8 946.9L1247.5 945.8L1246.8 936.1L1245.8 922.2L1245.5 917.6L1244.8 906.5L1243.8 889.8L1243.1 878.4L1242.8 871L1241.8 847.6L1240.8 824.3L1240.8 823.9L1239.8 815.4L1238.8 806.7L1238.4 803.6L1237.8 807.8L1236.8 814.5L1236.6 816.1L1235.8 822L1234.8 829.8L1234.5 831.9L1233.8 837.5L1233.8 837.9L1232.8 839.1L1232.2 839.8L1231.8 840.3L1230.9 841.3L1230.8 841.5L1229.8 842.7Z" fill="#21a121"/>
<path d="M912.8 995L913.4 990.4L913.8 987.7L913.8 987.3L914.1 985L914.8 979.2L915 977.5L915.3 975L915.8 977.4L916.2 979.6L916.6 981.2L916.8 982.3L917.5 985.9L917.8 987.5L918.4 979.3L918.8 973.8L919.4 965.6L919.8 971.2L920 973.9L920.3 978.1L920.8 988L920.9 990L921.8 989.3L922.5 988.8L922.8 988.1L923.4 986.9L923.8 987.8L924.8 990.1L925 990.6L925.8 990.8L926.2 990.9L926.8 991L927.2 991.1L927.8 991.2L928.1 700L927.8 1002.5L927.2 1002.4L926.8 1002.4L926.2 1002.4L925.8 1002.3L925 1002.3L924.8 1002.2L923.8 1002.2L923.4 1002.1L922.8 1002.1L922.5 1002L921.8 1002L920.9 1001.9L920.8 1000.3L920.3 990L920 987.5L919.8 984.8L919.4 979.4L918.8 986.9L918.4 991.9L917.8 999.4L917.5 998L916.8 994.7L916.6 993.8L916.2 992.2L915.8 990.3L915.3 988.1L915 991.6L914.8 994L914.1 1002.2L913.8 1005.7L913.8 1006.2L913.4 1007.6L912.8 1010ZM937.1 884L937.5 884.9L937.8 885.6L938.8 887.8L939.1 888.4L939.8 890L939.8 890.1L940.6 891.8L940.8 891.9L941.4 892L941.8 892.1L942.8 892.4L943.4 892.5L943.8 892.6L943.8 892.9L944.8 898.4L945 899.5L945.3 901.2L945.8 897L945.8 896.8L946.8 887.8L947.3 883L947.7 880.2L947.8 882.8L948.8 901.2L949.2 909L949.7 917.7L949.8 919L950.8 931.5L951.6 941L951.8 925.5L952.5 886.4L952.8 860.1L952.8 859.5L953.6 808.5L953.8 820.8L953.9 827.5L954.7 886.5L954.8 891.2L955.5 922.2L955.8 933.2L955.5 933.2L954.8 894.5L954.7 888.1L953.9 842.8L953.8 846.9L953.6 855.3L952.8 886.5L952.8 887.2L952.5 905.9L951.8 949.7L951.6 964.5L950.8 958.1L949.8 949.8L949.7 948.9L949.2 944.9L948.8 941.4L947.8 932.9L947.7 931.7L947.3 931.9L946.8 932.3L945.8 932.9L945.8 932.9L945.3 933.2L945 932.7L944.8 932.4L943.8 930.7L943.8 930.6L943.4 930.1L942.8 932.1L941.8 935.2L941.4 936.4L940.8 937.3L940.6 937.6L939.8 938.6L939.8 937.8L939.1 923.1L938.8 917.9L937.8 898L937.5 892L937.1 884ZM955.8 932.2L956.8 882L957 868.6L957.3 850.7L957.8 866.4L958.6 894.1L958.8 892.7L958.6 894.2L957.8 899.1L957.3 902.1L957 902L956.8 906.6L955.8 932.2ZM959.8 916.5L960.8 947.1L960.9 950.5L961.7 969.2L961.8 968.6L962.5 968.7L962.8 970.3L963.8 975.6L962.8 972.3L962.5 970.8L961.8 972.3L961.7 972.3L960.9 972.3L960.8 962.9L959.8 916.5ZM964.1 977L964.8 959.8L965.3 947.9L965.8 942L965.9 941L966.8 919.5L967.5 902L967.8 902.7L968.8 905L969.2 906L969.5 906.7L969.8 906.3L970.8 905L971.8 903.7L971.9 903.6L972.8 902.5L973.8 901.3L974.7 900.2L974.8 900.1L975 899.8L975.3 899.4L975.8 898.9L975.8 899L976.6 905.1L976.8 907L977.3 911.3L977.8 915L978.1 917.6L978.8 928.9L979.8 945.5L980 948.9L980.8 940L980.9 938.4L981.6 931.5L981.8 928.9L982.8 917.8L982.8 917.7L983.8 909.4L984.8 901.1L985.2 898.1L985.6 894.2L985.8 884L986.2 857.7L986.6 839.6L986.8 803.9L987.5 698.9L987.8 743.9L988.4 839.8L988.8 873L988.8 878.3L989.1 906.2L989.5 956.6L989.8 956.4L989.8 956.3L990.8 955.2L991.8 954L992.2 953.5L992.8 950.2L993.8 944.8L994.5 940.8L994.8 939.3L995.6 934.8L995.8 938.1L996.1 943.6L996.8 957.1L997.2 964.5L997.8 969.1L998.1 971.5L998.4 973.9L998.8 973.4L999.8 972.1L1000 971.8L1000.8 968.8L1000 976.3L999.8 978.2L998.8 987.7L998.4 991.2L998.1 994.2L997.8 992.6L997.2 982.6L996.8 976.2L996.1 964.5L995.8 967.4L995.6 969.2L994.8 977.4L994.5 977L993.8 979.7L992.8 983.3L992.2 985.6L991.8 985.2L990.8 984.2L989.8 983L989.8 979.7L989.5 958.1L989.1 920.5L988.8 899.7L988.8 895.8L988.4 871L987.8 785.7L987.5 745.8L986.8 839.1L986.6 870.9L986.2 886.4L985.8 908.9L985.6 917.9L985.2 940.9L984.8 942.6L983.8 946.8L982.8 951L982.8 951.1L981.8 955.3L981.6 956.3L980.9 958.9L980.8 959.5L980 962.9L979.8 961.1L978.8 951.8L978.1 945.4L977.8 942.4L977.3 938.2L976.8 933.1L976.6 930.9L975.8 928.7L975.8 928.6L975.3 927.3L975 926.3L974.8 925.8L974.7 925.4L973.8 928.9L972.8 932.8L971.9 936.4L971.8 936.6L970.8 939.2L969.8 941.9L969.5 942.6L969.2 945.2L968.8 948.7L967.8 956.9L967.5 959.4L966.8 965.2L965.9 972.3L965.8 972.3L965.3 972.3L964.8 972.3L964.1 977ZM1004.7 917.6L1004.8 916.6L1005.8 897.9L1006.2 889.5L1006.8 888.4L1007.3 887.3L1007.8 886.4L1007.8 886.4L1008.8 889.3L1009.4 891.2L1009.8 901.2L1010.2 909.7L1010.6 920.6L1010.8 921L1011.8 940.1L1012.5 953.6L1011.8 947.5L1010.8 938.8L1010.6 937.3L1010.2 933.3L1009.8 929L1009.4 923.9L1008.8 917L1007.8 905.1L1007.8 905.2L1007.3 907L1006.8 909.2L1006.2 911.4L1005.8 913.2L1004.8 917.2L1004.7 917.6ZM1012.5 953.6L1012.8 955.7L1013.8 962.7L1014.1 964.5L1014.8 927.6L1015.3 917.6L1015.6 929.5L1015.8 936.4L1016.4 959.8L1016.8 960.6L1017.2 964.5L1017.8 970.6L1018.8 980.1L1018.8 980.9L1019.5 992.6L1019.8 978L1020.6 941.1L1020.8 932.3L1021.1 917.8L1021.8 882.3L1021.9 878.6L1022.7 886.4L1022.8 887.8L1023.8 897.8L1024.2 902L1024.8 907.8L1025.8 917.8L1026.6 925.4L1026.8 929L1027.8 944L1027.8 944.1L1028.1 948.8L1028.8 941.7L1029.7 932.2L1029.8 931L1030.5 923.9L1030.8 923.5L1031.2 923.1L1031.7 922.6L1031.8 922.5L1032 916.8L1031.8 924.1L1031.7 927.7L1031.2 948.9L1030.8 952.8L1030.5 955.6L1029.8 961.4L1029.7 962.3L1028.8 970L1028.1 975.9L1027.8 978.5L1027.8 978.5L1026.8 967.6L1026.6 964.5L1025.8 964L1024.8 960.2L1024.2 956.7L1023.8 945.4L1022.8 918.4L1022.7 914.6L1021.9 925.4L1021.8 926.2L1021.1 933.4L1020.8 944.9L1020.6 952L1019.8 984.4L1019.5 995L1018.8 989.4L1018.8 989L1017.8 981.7L1017.2 977L1016.8 970L1016.4 963L1015.8 952L1015.6 948.9L1015.3 953.6L1014.8 961.3L1014.1 972.3L1013.8 969.2L1012.8 957.2L1012.5 953.6ZM1032 916.8L1032.8 877.7L1032.8 877.1L1033.1 859.2L1033.6 831.9L1033.8 829.2L1034.4 822.3L1034.8 817.2L1035.8 805.2L1035.9 803.6L1036.2 805.1L1036.8 807.9L1037.8 812.9L1037.8 812.9L1038.6 795.8L1038.8 727L1039.1 640.3L1039.1 640.3L1038.8 727.9L1038.6 797.5L1037.8 839.5L1037.8 839.4L1036.8 833.6L1036.2 830.4L1035.9 828.6L1035.8 830.9L1034.8 847.9L1034.4 855L1033.8 863.8L1033.6 866.9L1033.1 874L1032.8 878.7L1032.8 879.1L1032 916.8ZM1039.1 640.3L1039.8 614.4L1039.8 613.1L1040.8 626.4L1041.8 640.5L1041.9 641.4L1042.8 624.6L1043.4 613L1043.8 621.1L1044.8 643.6L1045.3 655.1L1045.8 703.3L1045.3 655.1L1044.8 653.4L1043.8 649.9L1043.4 648.7L1042.8 646.5L1041.9 643.4L1041.8 643.1L1040.8 639.7L1039.8 636.4L1039.8 636.6L1039.1 640.3ZM1057.5 917.6L1057.8 907.1L1057.8 906.8L1058.1 905.2L1058.8 901.8L1059.1 900.5L1059.4 898.9L1059.8 900.3L1060.8 903.6L1060.9 904.1L1061.7 906.9L1061.8 907.5L1062.2 911.4L1062.5 908.2L1062.2 912.6L1061.8 918.1L1061.7 919.2L1060.9 930.1L1060.8 929L1059.8 921L1059.4 917.7L1059.1 917L1058.8 916.5L1058.1 915.1L1057.8 914.6L1057.8 914.9L1057.5 917.6ZM1062.8 904.1L1063.3 892.7L1063.8 878.1L1064.1 870.8L1064.8 893.9L1065.2 905.3L1065.6 921.9L1065.8 928.5L1066.4 950.4L1066.8 962.3L1066.9 965L1067.2 975.4L1066.9 971.4L1066.8 971.5L1066.4 957.3L1065.8 932.5L1065.6 925.3L1065.2 913.8L1064.8 904.8L1064.1 886.4L1063.8 890.1L1063.3 897.3L1062.8 904.1ZM1068.8 948.9L1068.8 948.3L1069.8 935.8L1070.8 923.7L1071.1 920.8L1071.8 913.7L1071.9 912.9L1072.8 897.5L1073.4 886.9L1073.8 880.9L1074.2 873.9L1074.8 864L1075 860.7L1075.8 847.1L1076.2 839.5L1076.6 844.1L1076.8 847.7L1077.8 862.7L1078.1 867.5L1078.8 880.4L1078.9 882.5L1079.7 895.7L1078.9 886.4L1078.8 885.7L1078.1 881.1L1077.8 879L1076.8 872.3L1076.6 870.8L1076.2 871.4L1075.8 872.3L1075 873.9L1074.8 876.7L1074.2 884.8L1073.8 890.7L1073.4 895.7L1072.8 903.8L1071.9 915.5L1071.8 916.5L1071.1 925.5L1070.8 928.4L1069.8 938.4L1068.8 948.4L1068.8 948.9ZM1081.8 636.9L1082.5 628.6L1082.8 628.6L1082.8 628.6L1083.8 628.6L1084.1 628.6L1084.8 628.6L1085.8 628.6L1086.4 628.6L1086.8 633.7L1086.4 633.7L1085.8 633.7L1084.8 633.7L1084.1 633.7L1083.8 633.7L1082.8 633.7L1082.8 633.8L1082.5 635.4L1081.8 636.9ZM1090.6 778.2L1090.8 797.4L1091.4 863L1091.8 902.7L1091.4 869.8L1090.8 798.9L1090.6 778.2ZM1091.9 906L1092.5 912.9L1092.8 912.9L1093.8 912.9L1093.8 913.4L1094.5 917.6L1093.8 918.6L1093.8 917.6L1092.8 920.8L1092.5 921.8L1091.9 906ZM1094.5 917.6L1094.8 922L1095.8 930.7L1096.1 933.2L1096.6 928.6L1096.8 926.2L1097.7 917.4L1097.8 909L1098.1 889.8L1098.4 854.6L1098.1 917.8L1097.8 929.7L1097.7 934.8L1096.8 964L1096.6 970.7L1096.1 961.8L1095.8 953.7L1094.8 925.3L1094.5 917.6ZM1099.8 761.4L1100.8 730.2L1100.8 731.1L1101.6 761.4L1100.8 761.4L1100.8 761.4L1099.8 761.4ZM1105.8 920.2L1106.2 936.4L1106.4 941.2L1106.6 945.7L1106.8 943.4L1107 941.1L1107.8 933.4L1107.8 933.3L1108.6 925.5L1108.8 923.4L1109.4 917.6L1109.8 917.6L1110.2 917.6L1110.8 917.6L1110.9 917.6L1111.7 917.6L1111.8 918.1L1112.5 922.3L1112.8 924.1L1113.3 927L1113.8 928.6L1114.1 929.3L1114.8 931.6L1114.8 931.7L1115.8 927.9L1115.9 927.3L1116.4 925L1116.8 883.3L1116.9 874.7L1117.5 808.2L1117.8 774.5L1118 759.5L1118.8 704.5L1118 795.4L1117.8 817L1117.5 855.1L1116.9 899.4L1116.8 905.1L1116.4 933L1115.9 936L1115.8 936.9L1114.8 942.6L1114.8 942.9L1114.1 947.3L1113.8 945.7L1113.3 942.6L1112.8 939.7L1112.5 937.9L1111.8 933.7L1111.7 933.3L1110.9 932.7L1110.8 932.6L1110.2 932.2L1109.8 932L1109.4 931.7L1108.8 937.8L1108.6 940.1L1107.8 948.4L1107.8 948.5L1107 956.7L1106.8 954.4L1106.6 952L1106.4 950.5L1106.2 948.9L1105.8 920.2ZM1118.8 700.9L1119.5 654.6L1119.8 650.1L1120 646.8L1120.3 641.6L1120.8 644.6L1121.6 649.3L1121.8 651.9L1121.9 652.8L1122.2 656.2L1122.8 662.8L1123.8 673.7L1124.2 678.2L1124.8 677.9L1125.8 677.2L1126.6 676.7L1126.8 677.1L1127.8 678.7L1128.1 679.3L1128.8 680.4L1128.9 680.6L1129.8 689.5L1130 691.5L1130.5 696.2L1130.8 700.5L1131.2 706.4L1131.6 710.4L1131.8 713.5L1132 716.5L1132.3 716.5L1132.5 716.5L1132.8 716.5L1132.8 716.5L1133.8 716.5L1134.1 716.5L1134.4 718.8L1134.8 721.7L1135.2 724.2L1135.6 727.4L1135.8 730.7L1135.9 733.3L1136.7 747.8L1136.8 751.2L1137.5 780.9L1137.8 793.7L1137.8 794.1L1138.3 812.9L1138.8 820.2L1139.8 834.2L1140.3 841.3L1140.6 845.7L1140.8 845.2L1141.8 842.2L1142.8 839.2L1143 838.7L1143.8 836.4L1143.8 836.7L1144.5 841.1L1144.8 842.7L1145.8 848.7L1146.1 850.4L1146.6 853.2L1146.8 854.7L1146.9 855.2L1147.8 861.3L1148.4 865.6L1148.8 867.6L1148.8 867.3L1149.8 861.2L1150.8 855.2L1150.8 855.1L1151.6 850.5L1151.8 849.1L1152.3 846.1L1152.8 843.5L1153.1 841.7L1153.8 837.9L1154.7 832.9L1154.8 832.3L1155.5 828.6L1155.8 827.7L1156.8 825.2L1157.8 822.7L1157.8 822.7L1158.6 820.8L1158.8 821.3L1159.8 824L1160.8 826.6L1160.9 827L1161.8 829.9L1162.5 832.2L1162.8 833.2L1162.8 833.2L1163.8 830.8L1164.1 830.1L1164.4 819.7L1164.8 805.9L1165.2 793.6L1165.6 761.7L1165.8 719.6L1166.1 652.9L1165.8 722.5L1165.6 764.8L1165.2 795.5L1164.8 827.8L1164.4 865.6L1164.1 866.7L1163.8 867.3L1162.8 869.3L1162.8 869.3L1162.5 870L1161.8 868.2L1160.9 866.1L1160.8 865.8L1159.8 864.2L1158.8 862.5L1158.6 862.2L1157.8 864.3L1157.8 864.3L1156.8 867.1L1155.8 869.8L1155.5 870.7L1154.8 876.1L1154.7 877L1153.8 884.1L1153.1 889.5L1152.8 889.9L1152.3 890.5L1151.8 891.3L1151.6 891.6L1150.8 892.6L1150.8 892.6L1149.8 896.6L1148.8 900.6L1148.8 900.8L1148.4 902L1147.8 892.6L1146.9 879.2L1146.8 878L1146.6 874.5L1146.1 867.6L1145.8 864.7L1144.8 854.7L1144.5 852L1143.8 857.9L1143.8 858.2L1143 864.5L1142.8 865.9L1141.8 873.9L1140.8 881.9L1140.6 883.2L1140.3 877.3L1139.8 867.6L1138.8 848.6L1138.3 838.7L1137.8 829.8L1137.8 829.6L1137.5 823.9L1136.8 814.5L1136.7 813.5L1135.9 803.1L1135.8 801.2L1135.6 798.8L1135.2 792.7L1134.8 792.1L1134.4 791.6L1134.1 791.2L1133.8 790.8L1132.8 789.4L1132.8 789.2L1132.5 781.2L1132.3 776.8L1132 757.1L1131.8 742.5L1131.6 727.4L1131.2 720.8L1130.8 711.1L1130.5 704.1L1130 699.8L1129.8 698L1128.9 690L1128.8 689.7L1128.1 688.1L1127.8 687.4L1126.8 685.1L1126.6 684.5L1125.8 685L1124.8 685.7L1124.2 686.1L1123.8 681.7L1122.8 671.3L1122.2 665L1121.9 661.4L1121.8 660.4L1121.6 657.6L1120.8 648.8L1120.3 643.2L1120 653.7L1119.8 660.5L1119.5 669.7L1118.8 700.9ZM1166.1 652.9L1166.8 616.5L1166.9 612.3L1167.2 596.2L1167.8 579.9L1168.1 571.4L1168.4 580.7L1168.8 591.5L1169.2 604.1L1169.7 636.1L1169.8 644L1170.3 680.4L1170.5 684.5L1170.8 692.8L1171.6 719.5L1171.8 722.7L1172 725.7L1172.3 729.7L1172.7 733.7L1172.8 733L1173.8 728L1173.9 727.5L1174.1 727.2L1174.8 726.1L1175.5 725.1L1175.8 725.6L1175.9 725.8L1176.8 727.1L1177 727.5L1177.8 732.8L1178.3 736.2L1178.6 738.4L1178.8 742.1L1179.8 760.1L1180.2 766.5L1180.6 768.3L1180.8 769L1181.8 772.9L1182.2 774.4L1182.8 778.3L1183 779.4L1183.8 784.4L1183.8 784.7L1184.1 786.4L1184.8 788.3L1185.3 789.7L1185.8 791L1186.4 792.6L1186.8 794.1L1187.8 798L1188.1 799.2L1188.3 799.8L1188.4 800.3L1188.8 786.2L1189.2 769.6L1189.8 759.7L1190 756.3L1190.3 750.9L1190.8 754.4L1190.8 754.6L1191.8 762.1L1192.2 765L1192.3 767.8L1192.8 776.4L1192.8 776.6L1193.8 794.2L1193.8 795.6L1193.9 798.7L1194.7 820.7L1194.8 823.8L1195.5 842.7L1195.8 851.9L1196.2 864.5L1196.8 879.9L1197 886.3L1197.8 893.5L1198.6 900.8L1198.8 902.7L1199.1 905.1L1199.8 908.3L1200.8 912.6L1201.2 914.5L1201.8 913.9L1202.8 912.7L1203.3 912.2L1203.8 912L1204.8 911.6L1205.3 911.4L1205.6 911.7L1205.8 911.9L1206.8 912.9L1206.9 912.9L1207.8 897.2L1208.4 886.4L1208.8 891.6L1208.8 892.4L1209.8 909.1L1210.3 917.6L1210.8 920.9L1211.8 927.5L1212.7 933.2L1212.8 931.3L1213.8 917.4L1214.7 905.1L1214.8 904.5L1215.8 899.1L1216.6 894.9L1216.8 893.6L1217.8 888.1L1218.1 886.4L1218.8 884.1L1218.9 883.8L1219.8 880.8L1220.5 878.6L1220.8 879.6L1221.8 882.7L1222.5 884.8L1222.8 885.1L1222.8 885.1L1223.8 886L1224.8 886.8L1225.2 887.2L1225.8 887.2L1226.8 887.2L1227.2 887.2L1227.8 887.2L1228.3 887.2L1228.8 872.4L1229.1 866.1L1229.8 843.9L1229.8 842.7L1230.8 841.5L1230.9 841.3L1231.8 840.3L1232.2 839.8L1232.8 839.1L1233.8 837.9L1233.8 837.5L1234.5 831.9L1234.8 829.8L1235.8 822L1236.6 816.1L1236.8 814.5L1237.8 807.8L1238.4 803.6L1238.8 806.7L1239.8 815.4L1240.8 823.9L1240.8 824.3L1241.8 847.6L1242.8 871L1243.1 878.4L1243.8 889.8L1244.8 906.5L1245.5 917.6L1245.8 922.2L1246.8 936.1L1247.5 945.8L1247.8 946.9L1248.8 950.6L1249.4 952.8L1249.8 951.7L1250.2 950.8L1250.8 949.2L1250.9 948.8L1251.7 934.3L1251.8 932.8L1252.8 914.1L1253.3 905.1L1253.8 898.2L1253.8 897.5L1254.8 882.9L1255.6 870.8L1255.8 868.6L1256.8 856.1L1257.5 847.3L1257.8 845.1L1258.8 837.6L1259.1 835.6L1259.5 835.6L1259.8 835.6L1260.6 835.6L1260.8 838.3L1261.1 842.9L1261.8 854L1261.9 855.2L1262.7 862.5L1262.8 863.8L1263.8 873.1L1264.2 877L1264.8 879.3L1265 880.1L1265.8 883.3L1266.6 886.4L1266.8 886.8L1267.3 887.9L1267.8 888.8L1268.8 890.8L1268.9 891.1L1269.7 893.7L1269.8 894L1270.8 897.4L1271.2 898.9L1271.8 902.5L1272 904.1L1272.8 909.2L1273.6 914.5L1273.8 915.3L1274.4 917.6L1274.8 919.3L1275.8 923.3L1275.9 923.9L1276.7 926L1276.8 926.2L1277.8 928.8L1278.3 930.1L1278.8 931.9L1279.1 932.7L1279.8 935.2L1280.6 937.9L1280.8 936.8L1280.9 935.8L1281.8 930.1L1282.5 925.4L1282.8 927.5L1283.8 934.4L1284.5 939.5L1284.8 940L1285.8 942L1286.8 944L1286.9 944.2L1287.8 942.1L1288.8 939.7L1288.9 939.5L1289.2 940.3L1289.8 941.9L1290.8 944.5L1291.2 945.8L1291.6 947.6L1291.8 949L1292.8 954.9L1293.8 960.7L1293.9 961.4L1294.8 962.7L1295 962.9L1295.8 957.4L1296.8 950.5L1297 948.9L1297.8 945.3L1298.8 940.6L1299.1 939.4L1299.4 937.9L1299.8 937.6L1300.8 936.8L1300.9 936.6L1301.2 936.4L1301.8 936.8L1302.8 937.6L1303.3 937.9L1303.8 936.9L1304.8 934.9L1305.6 933.3L1305.8 932.7L1306.8 929.3L1307.8 926L1308 925.4L1308.8 922.7L1309.8 919.3L1310.3 917.6L1310.8 920.5L1311.8 926.5L1311.9 927.1L1312.8 937.5L1313.4 944.7L1313.8 948.8L1314.2 953.6L1314.8 949.5L1315.3 946L1315.8 942.6L1316.2 939.5L1316.8 937.7L1317.3 935.9L1317.8 934.3L1318.1 933.3L1318.8 932.4L1318.9 932.2L1319.8 931L1320.5 930.1L1320.8 931.9L1320.9 932.6L1321.8 937.2L1322.8 942.6L1322.8 942.6L1323.1 941.2L1323.8 938L1324.8 933.4L1325.2 931.7L1325.8 932.2L1326.8 933L1327.2 933.3L1327.8 936.8L1328.8 942.4L1328.8 942.7L1329.1 944.2L1329.8 940.7L1330.6 936.9L1330.8 936.1L1331.4 933.2L1331.8 929.3L1332.2 925.4L1332.8 919.3L1333 917.6L1333.8 909.8L1333.8 909.8L1334.5 910L1334.8 910L1335.3 910.1L1335.8 910.2L1336.6 910.4L1336.8 910.4L1337.7 910.6L1337.8 910.7L1338.8 911.7L1339.2 912.2L1339.8 912.7L1340 912.9L1340.8 916.6L1340.8 916.7L1341.8 921.3L1342.3 923.9L1342.8 926.6L1343.1 928.5L1343.8 932.6L1344.7 937.9L1344.8 937.8L1345.5 936.9L1345.8 936.5L1346.8 935.1L1347 934.8L1347.8 930.7L1347.8 930.7L1348.8 925.4L1349.1 924L1349.4 922.2L1349.8 912.4L1350.2 904L1350.8 889.1L1351.2 878.6L1351.8 891.3L1352.5 907.4L1352.8 914.3L1353.3 925.4L1353.8 924.9L1354.8 923.9L1354.8 923.9L1355.6 916.6L1355.8 915L1356.8 905.6L1357.2 902L1357.8 900.8L1358 900.5L1358.8 898.9L1359.8 896.9L1360 896.5L1360.3 896.5L1360.8 896.5L1361.8 896.5L1362.7 896.5L1362.8 896.7L1363.8 897.7L1364.8 898.7L1365 898.9L1365.8 898.9L1366.8 898.9L1367.3 898.9L1367.8 903.1L1368.8 912.5L1369.4 917.9L1369.7 920.7L1369.8 919.4L1370.8 907.4L1370.9 905.7L1371.2 902L1371.8 908.9L1371.9 909.7L1372.8 888.5L1373.1 881.2L1373.4 873.9L1373.8 874.8L1374.2 876L1374.8 877.5L1375.8 880.1L1375.8 880.1L1376.8 877.1L1377.8 874.1L1378.1 873.1L1378.8 872.7L1379.4 872.3L1379.8 874.8L1380.5 878.7L1380.8 880.6L1381.2 883.2L1381.8 884.3L1382 884.8L1382.8 886.3L1382.8 886.4L1383.6 905.8L1383.8 911.1L1384.4 925.5L1384.8 927.9L1385.2 930L1385.6 932.7L1385.8 933.7L1386.2 936.4L1386.8 933.4L1387.5 929.6L1387.8 928L1388.3 925.4L1388.8 919.5L1389.8 907.9L1390.3 902L1390.6 901.1L1390.8 900.5L1391.8 897.5L1391.9 897.3L1392.8 896.5L1393.8 895.8L1393.8 895.9L1394.8 898.4L1395.6 900.4L1395.8 901L1396.1 901.9L1396.8 904.1L1397.7 906.7L1397.8 906.3L1398.8 903.5L1399.7 901.1L1399.8 900.8L1400.8 898.1L1400.8 898.2L1401.6 902L1401.8 903.2L1402.8 908.2L1403.1 909.8L1403.8 914.3L1404.7 920.2L1404.8 921L1405.5 925.4L1405.8 922.4L1405.9 921.1L1406.8 913.1L1407 911L1407.5 906.7L1407.8 903.9L1408.8 894.8L1409.4 889.5L1409.8 890.3L1410.8 892.3L1410.9 892.6L1411.7 894.2L1411.8 894.1L1412.5 893.6L1412.8 893.4L1413.3 893L1413.8 892.6L1413.8 892.4L1414.8 888.4L1414.8 888.3L1415.3 886.4L1415.8 892.2L1416.8 904.2L1416.9 905.1L1417.2 905.5L1417.8 906.2L1418.8 907.3L1418.8 907.4L1419.5 908.2L1419.8 906.6L1420.8 900.4L1421.1 898.7L1421.6 895.8L1421.8 894.4L1422.7 889.3L1422.8 888.5L1423.1 886.7L1423.4 884.8L1423.8 886.6L1424.8 891.6L1425 892.6L1425.3 894.2L1425.8 896.1L1426.8 899.9L1427.3 902L1427.8 903.8L1428.1 905.1L1428.8 907.8L1429.7 911.4L1429.8 911.7L1430.8 914.3L1431.2 915.5L1431.8 917L1432 917.6L1432.8 922.7L1433.6 928L1433.8 929.4L1434.4 933.3L1434.8 935.4L1435.8 940.4L1435.9 941.1L1436.7 945L1436.8 945.4L1437.5 948.9L1437.8 948.1L1438.3 946.8L1438.8 945.4L1439.1 944.7L1439.8 942.7L1439.8 942.6L1440.6 939.5L1440.8 938.8L1441.4 936.4L1441.8 934.8L1442.2 933.2L1442.8 932.9L1443 932.9L1443.8 932.5L1443.8 932.5L1444.8 932.8L1445.3 933L1445.6 933.1L1445.8 933.2L1446.1 933.2L1446.8 933.9L1447.7 934.6L1447.8 934.7L1448.8 935.6L1449.7 936.1L1449.8 924.6L1450.3 871L1450.8 846.4L1450.9 839.3L1451.2 820.4L1451.6 801.4L1451.8 802.5L1452.3 805.6L1452.8 808.1L1453.1 809.9L1453.8 813.1L1453.9 813.6L1454.4 815.8L1454.8 817.8L1455 818.7L1455.8 818.5L1456.2 818.3L1456.8 818.1L1456.9 818.1L1457 818.7L1457.5 820.4L1457.8 821.5L1458.8 825L1458.8 825.2L1459.4 828.1L1459.8 830.2L1460.8 835.2L1461.2 837.5L1461.7 838.6L1461.8 838.8L1462.5 840.6L1462.8 841.3L1463.8 843.7L1463.8 843.8L1464.1 844.3L1464.8 845.7L1464.8 845.7L1465.6 843.4L1465.8 842.9L1466.4 841.1L1466.8 839.9L1467.2 838.7L1467.8 838.4L1468 838.3L1468.8 837.9L1468.8 838.1L1469.1 838.8L1469.8 840.7L1470 841.3L1470.8 843.4L1471.1 844.2L1471.8 846.5L1472.7 849.4L1472.8 849.9L1473.4 852L1473.8 853.1L1474.2 854.3L1474.8 856.1L1475.8 859L1475.8 859.1L1476.2 860.4L1476.6 861.4L1476.8 861.7L1477.3 862.5L1477.8 863.2L1478.1 863.7L1478.8 864.7L1478.9 864.9L1479.4 865.6L1479.7 866.1L1479.8 866.1L1480.5 866.5L1480.8 866.7L1481.8 867.3L1482 867.5L1482.8 867.9L1482.8 867.9L1483.6 868.4L1483.8 868.5L1484.4 868.9L1484.8 869.1L1485.8 869.7L1486.8 870.3L1487.5 870.8L1487.8 869.6L1488.3 867.6L1488.8 865.6L1489.1 864.5L1489.8 861.1L1489.8 860.9L1490.8 856.4L1491.4 853.6L1491.8 853L1492.2 852.4L1492.8 851.4L1493.4 850.4L1493.8 850.7L1494.5 851.3L1494.8 851.6L1495.3 852L1495.8 852.6L1496.1 853L1496.8 854L1496.9 854.1L1497.7 855.1L1497.8 855.6L1498.8 858.9L1499.2 860.3L1499.8 862.3L1500 862.9L1500.8 864.9L1501.6 866.8L1501.8 867.4L1502.8 869.9L1503.1 870.7L1503.8 869L1503.9 868.7L1504.8 866.3L1505.5 864.5L1505.8 864.3L1506.2 864L1506.8 863.6L1507.8 862.9L1507.8 862.9L1508.6 863.3L1508.8 863.4L1509.4 863.7L1509.8 862.4L1510.8 859.4L1510.9 859L1511.7 856.7L1511.8 856.5L1512.5 854.9L1512.8 854.2L1513.3 853L1513.8 851.8L1514.1 851.2L1514.8 850.9L1515.6 850.4L1515.8 850.7L1515.9 850.9L1516.8 852L1517.8 853.3L1518 853.6L1518.8 853.6L1519.5 853.6L1519.8 853.6L1520.3 853.6L1520.8 854.2L1521.8 855.5L1522.7 856.7L1522.8 856.9L1523.4 857.7L1523.8 858.1L1524.8 859.4L1525.8 860.6L1525.8 860.3L1526.2 854.3L1526.8 846.8L1527.3 839.6L1527.8 834.5L1528.1 831L1528.4 831L1528.8 831.1L1529.7 831.4L1529.8 831.5L1530.5 831.7L1530.8 831.4L1531.2 830.9L1531.6 830.6L1531.8 830.4L1532.8 829.4L1532.8 829.3L1533.1 830.4L1533.6 832.1L1533.8 832.8L1534.4 834.8L1534.7 835.5L1534.8 835.8L1535.2 836.6L1535.8 838.1L1535.9 838.5L1536.7 840.3L1536.8 840.2L1537.5 839.2L1537.8 838.8L1538.3 838.2L1538.8 837.5L1539.1 837.2L1539.8 835.4L1540.6 833.5L1540.8 833.1L1541.4 831.7L1541.8 830.6L1542.2 829.6L1542.8 828L1543 827.5L1543.8 825.4L1543.8 825.2L1544.8 819.8L1545 818.8L1545.3 817.1L1545.8 814.5L1546.1 813L1546.8 810.1L1547.5 807.3L1547.7 806.7L1547.8 807.3L1548.4 809.8L1548.8 811.3L1549.2 812.9L1549.4 814L1549.8 816.8L1550.8 823.3L1550.8 823.5L1551.2 826.5L1551.6 828.5L1551.8 830.3L1552.8 837.6L1553.1 840L1553.8 845L1553.9 845.8L1554.7 850.2L1554.8 850.8L1555.5 854.6L1555.8 856.5L1556.2 859L1556.8 858.5L1557.8 857.5L1557.8 857.5L1558.8 857.1L1559.4 856.9L1559.8 856.8L1560 856.7L1560 896.5L1559.8 896.6L1559.4 896.8L1558.8 897L1557.8 897.3L1557.8 897.3L1556.8 897.6L1556.2 897.8L1555.8 898L1555.5 898.1L1554.8 894.7L1554.7 894.2L1553.9 890.3L1553.8 889.7L1553.1 886.3L1552.8 884.6L1551.8 879.3L1551.6 878L1551.2 876.4L1550.8 874L1550.8 873.9L1549.8 871.3L1549.4 870.1L1549.2 869.7L1548.8 868.6L1548.4 867.6L1547.8 869.3L1547.7 869.7L1547.5 870.1L1546.8 872L1546.1 873.9L1545.8 874.7L1545.3 876L1545 876.8L1544.8 877.3L1543.8 880L1543.8 880.1L1543 880.7L1542.8 880.8L1542.2 881.3L1541.8 881.6L1541.4 881.9L1540.8 882.3L1540.6 882.5L1539.8 883.5L1539.1 884.4L1538.8 884.8L1538.3 885.4L1537.8 886L1537.5 886.4L1536.8 887.1L1536.7 887.2L1535.9 887.9L1535.8 888.1L1535.2 888.7L1534.8 887.1L1534.7 886.6L1534.4 885.2L1533.8 882.6L1533.6 881.7L1533.1 883.3L1532.8 884.3L1532.8 884.3L1531.8 887.7L1531.6 888.5L1531.2 889.5L1530.8 891.3L1530.5 892.6L1529.8 895.3L1529.7 895.7L1528.8 894.6L1528.4 894.1L1528.1 893.7L1527.8 893.2L1527.3 892.7L1526.8 896.4L1526.2 900.3L1525.8 903.4L1525.8 903.6L1524.8 902.1L1523.8 900.6L1523.4 900.1L1522.8 899.1L1522.7 898.9L1521.8 898L1520.8 897L1520.3 896.5L1519.8 896.9L1519.5 897.1L1518.8 897.5L1518 898.1L1517.8 898L1516.8 897.3L1515.9 896.7L1515.8 896.6L1515.6 896.5L1514.8 897.6L1514.1 898.6L1513.8 899L1513.3 899.7L1512.8 900.8L1512.5 901.5L1511.8 903.1L1511.7 903.3L1510.9 905.1L1510.8 905.4L1509.8 907.4L1509.4 908.2L1508.8 909.4L1508.6 909.8L1507.8 910.3L1507.8 910.3L1506.8 911L1506.2 911.4L1505.8 912.1L1505.5 912.7L1504.8 913.8L1503.9 915.3L1503.8 915.2L1503.1 914.5L1502.8 914.2L1501.8 913.2L1501.6 912.9L1500.8 910.9L1500 908.8L1499.8 908.2L1499.2 906.7L1498.8 905.8L1497.8 903.8L1497.7 903.6L1496.9 902L1496.8 901.9L1496.1 901L1495.8 900.6L1495.3 899.9L1494.8 899.2L1494.5 898.9L1493.8 898.1L1493.4 897.8L1492.8 897.1L1492.2 896.5L1491.8 897.7L1491.4 898.9L1490.8 900.7L1489.8 903.6L1489.8 903.7L1489.1 905.9L1488.8 906.7L1488.3 908.3L1487.8 909.7L1487.5 910.6L1486.8 910.8L1485.8 911L1484.8 911.3L1484.4 911.4L1483.8 911.6L1483.6 911.6L1482.8 911.9L1482.8 911.9L1482 912.2L1481.8 912.4L1480.8 913.6L1480.5 914L1479.8 914.8L1479.7 914.9L1479.4 915.3L1478.9 912.1L1478.8 911.3L1478.1 906.7L1477.8 905.1L1477.3 902.8L1476.8 900.1L1476.6 898.9L1476.2 897.3L1475.8 896.1L1475.8 896L1474.8 893.3L1474.2 891.7L1473.8 890.5L1473.4 889.5L1472.8 887.4L1472.7 886.9L1471.8 884L1471.1 881.7L1470.8 881L1470 879.2L1469.8 878.7L1469.1 877L1468.8 877.2L1468.8 877.3L1468 877.9L1467.8 878.1L1467.2 878.6L1466.8 880L1466.4 881.4L1465.8 883.7L1465.6 884.3L1464.8 887.2L1464.8 887.1L1464.1 886.2L1463.8 885.9L1463.8 885.8L1462.8 884.6L1462.5 884.2L1461.8 883.4L1461.7 883.3L1461.2 881.4L1460.8 879.6L1459.8 875.6L1459.4 873.9L1458.8 871.2L1458.8 871L1457.8 866.5L1457.5 865.1L1457 862.9L1456.9 862.8L1456.8 862.8L1456.2 862.5L1455.8 862.2L1455 861.7L1454.8 861.6L1454.4 861.4L1453.9 857.8L1453.8 857L1453.1 851.7L1452.8 849.3L1452.3 845.7L1451.8 843.4L1451.6 842.4L1451.2 841.1L1450.9 856L1450.8 862.8L1450.3 886.7L1449.8 960.7L1449.7 976.6L1448.8 978.4L1447.8 979.9L1447.7 980.1L1446.8 979.8L1446.1 979.6L1445.8 979.5L1445.6 979.4L1445.3 979.3L1444.8 979.2L1443.8 978.8L1443.8 978.8L1443 978.6L1442.8 978.8L1442.2 979.6L1441.8 980.1L1441.4 980.6L1440.8 981.5L1440.6 981.7L1439.8 983.5L1439.8 983.6L1439.1 985.3L1438.8 985.9L1438.3 987.2L1437.8 986.4L1437.5 986L1436.8 984.9L1436.7 984.8L1435.9 982.7L1435.8 982.4L1434.8 979.7L1434.4 978.6L1433.8 975.1L1433.6 973.9L1432.8 969.1L1432 964.5L1431.8 963.9L1431.2 962.4L1430.8 961.2L1429.8 958.5L1429.7 958.3L1428.8 956.5L1428.1 955.1L1427.8 954.5L1427.3 953.6L1426.8 952.5L1425.8 950.5L1425.3 949.5L1425 948.9L1424.8 948.4L1423.8 945.9L1423.4 945L1423.1 944.2L1422.8 944.8L1422.7 945.1L1421.8 946.7L1421.6 947.2L1421.1 948.1L1420.8 948.1L1419.8 948.1L1419.5 948.1L1418.8 948.1L1418.8 948.1L1417.8 946.9L1417.2 946.1L1416.9 945.8L1416.8 944.7L1415.8 930.7L1415.3 923.9L1414.8 927.5L1414.8 927.8L1413.8 935.5L1413.8 935.9L1413.3 939.5L1412.8 939.5L1412.5 939.5L1411.8 939.5L1411.7 939.5L1410.9 939.5L1410.8 938.8L1409.8 933.8L1409.4 931.7L1408.8 937L1407.8 946.1L1407.5 948.9L1407 954.3L1406.8 956.9L1405.9 966.8L1405.8 966.2L1405.5 964.8L1404.8 961.9L1404.7 961.4L1403.8 957.4L1403.1 954.4L1402.8 954.8L1401.8 956.3L1401.6 956.7L1400.8 959.9L1400.8 959.9L1399.8 964L1399.7 964.5L1398.8 968.6L1397.8 973.2L1397.7 973.9L1396.8 976.4L1396.1 978.6L1395.8 978.8L1395.6 978.9L1394.8 979.4L1393.8 980.1L1393.8 980.1L1392.8 979.9L1391.9 979.7L1391.8 979.6L1390.8 979.4L1390.6 979.3L1390.3 979.3L1389.8 979.1L1388.8 978.9L1388.3 978.8L1387.8 978.6L1387.5 978.6L1386.8 976.7L1386.2 975.2L1385.8 974L1385.6 973.5L1385.2 972.3L1384.8 966.6L1384.4 959.9L1383.8 950.6L1383.6 947.3L1382.8 942.2L1382.8 942.2L1382 937.2L1381.8 937.2L1381.2 937.2L1380.8 937.2L1380.5 937.2L1379.8 936.9L1379.4 936.8L1378.8 936.6L1378.1 936.4L1377.8 936.6L1376.8 937.3L1375.8 937.9L1375.8 937.9L1374.8 937L1374.2 936.4L1373.8 931L1373.4 926.4L1373.1 922.4L1372.8 925.2L1371.9 933.2L1371.8 935.1L1371.2 948.9L1370.9 951.4L1370.8 952.5L1369.8 960.5L1369.7 961.4L1369.4 961L1368.8 960.2L1367.8 958.9L1367.3 958.3L1366.8 958.8L1365.8 959.8L1365 960.6L1364.8 960.5L1363.8 959.8L1362.8 959.1L1362.7 959L1361.8 959.3L1360.8 959.6L1360.3 959.7L1360 959.8L1359.8 960.3L1358.8 962.5L1358 964.3L1357.8 964.7L1357.2 966.1L1356.8 966.1L1355.8 966.1L1355.6 966.1L1354.8 966.1L1354.8 966L1353.8 964L1353.3 962.9L1352.8 962L1352.5 961.4L1351.8 924.6L1351.2 895.8L1350.8 917.6L1350.2 948.7L1349.8 952.7L1349.4 957.2L1349.1 960.6L1348.8 963.3L1347.8 973.9L1347.8 973.9L1347 975.4L1346.8 975.9L1345.8 977.9L1345.5 978.6L1344.8 978.1L1344.7 978L1343.8 977.4L1343.1 977L1342.8 975.3L1342.3 972.8L1341.8 969.9L1340.8 964.6L1340.8 964.5L1340 957.5L1339.8 955.7L1339.2 950.4L1338.8 950.6L1337.8 951.1L1337.7 951.2L1336.8 952.4L1336.6 952.7L1335.8 953.7L1335.3 954.3L1334.8 954.2L1334.5 954.1L1333.8 953.8L1333.8 953.8L1333 953.6L1332.8 954.7L1332.2 959L1331.8 961.7L1331.4 964.5L1330.8 967.3L1330.6 968.2L1329.8 972L1329.1 975.4L1328.8 974.8L1328.8 974.7L1327.8 972.3L1327.2 970.8L1326.8 970.5L1325.8 969.7L1325.2 969.2L1324.8 970.4L1323.8 973.7L1323.1 976L1322.8 977L1322.8 977L1321.8 973.6L1320.9 970.8L1320.8 970.3L1320.5 969.2L1319.8 968.3L1318.9 967.1L1318.8 967L1318.1 966.1L1317.8 966.6L1317.3 967.4L1316.8 968.3L1316.2 969.2L1315.8 971.3L1315.3 973.5L1314.8 975.9L1314.2 978.2L1313.8 973.3L1313.4 968.7L1312.8 960.6L1311.9 948.9L1311.8 948.2L1310.8 939.2L1310.3 934.8L1309.8 937.2L1308.8 941.9L1308 945.7L1307.8 946.3L1306.8 949.6L1305.8 953L1305.6 953.6L1304.8 955.8L1303.8 958.4L1303.3 959.8L1302.8 960.9L1301.8 963.2L1301.2 964.5L1300.9 965.5L1300.8 966L1299.8 969.3L1299.4 970.7L1299.1 972L1298.8 973.1L1297.8 977.1L1297 980.1L1296.8 980.9L1295.8 984.4L1295 987.2L1294.8 987L1293.9 986.4L1293.8 986.3L1292.8 985.7L1291.8 985.1L1291.6 985L1291.2 984.8L1290.8 984.2L1289.8 982.9L1289.2 982.1L1288.9 981.7L1288.8 981.6L1287.8 980.8L1286.9 980.1L1286.8 980L1285.8 978.7L1284.8 977.4L1284.5 977L1283.8 972.5L1282.8 966.3L1282.5 964.5L1281.8 965.4L1280.9 966.4L1280.8 966.6L1280.6 966.8L1279.8 966L1279.1 965.3L1278.8 965L1278.3 964.5L1277.8 963.5L1276.8 961.5L1276.7 961.4L1275.9 959.8L1275.8 959.4L1274.8 956.8L1274.4 955.7L1273.8 954.1L1273.6 953.5L1272.8 947.7L1272 942.1L1271.8 940.4L1271.2 936.4L1270.8 934L1269.8 928.6L1269.7 928.1L1268.9 923.9L1268.8 923.6L1267.8 920.9L1267.3 919.7L1266.8 918.3L1266.6 917.6L1265.8 915.1L1265 912.4L1264.8 911.7L1264.2 909.8L1263.8 905.6L1262.8 895.6L1262.7 894.2L1261.9 886.4L1261.8 885.4L1261.1 876.6L1260.8 872.9L1260.6 870.8L1259.8 870.8L1259.5 870.8L1259.1 872.2L1258.8 873L1257.8 876.1L1257.5 877L1256.8 886.3L1255.8 899.7L1255.6 902.1L1254.8 913L1253.8 926.3L1253.8 927L1253.3 933.3L1252.8 941.6L1251.8 958.9L1251.7 960.3L1250.9 973.8L1250.8 974.2L1250.2 975.4L1249.8 976.2L1249.4 977L1248.8 975.6L1247.8 973.1L1247.5 972.3L1246.8 964.2L1245.8 952.7L1245.5 948.9L1244.8 935.5L1243.8 915.5L1243.1 901.9L1242.8 895.9L1241.8 877.3L1240.8 858.6L1240.8 858.2L1239.8 850.4L1238.8 842.4L1238.4 839.5L1237.8 844.8L1236.8 853.1L1236.6 855.1L1235.8 861L1234.8 868.7L1234.5 870.8L1233.8 872L1233.8 872.1L1232.8 873.6L1232.2 874.7L1231.8 875L1230.9 875.9L1230.8 876L1229.8 877.1L1229.8 878.1L1229.1 897L1228.8 903.6L1228.3 916.8L1227.8 917L1227.2 917.1L1226.8 917.2L1225.8 917.5L1225.2 917.6L1224.8 917.6L1223.8 917.6L1222.8 917.6L1222.8 917.6L1222.5 917.6L1221.8 916.5L1220.8 915L1220.5 914.5L1219.8 919.9L1218.9 927L1218.8 927.9L1218.1 933.3L1217.8 934.7L1216.8 939.3L1216.6 940.4L1215.8 943.8L1214.8 948.4L1214.7 948.9L1213.8 961.8L1212.8 976.5L1212.7 978.5L1211.8 973.4L1210.8 967.4L1210.3 964.5L1209.8 962.2L1208.8 957.6L1208.8 957.4L1208.4 956L1207.8 953.1L1206.9 948.9L1206.8 948.6L1205.8 945.6L1205.6 945.1L1205.3 944.2L1204.8 944L1203.8 943.6L1203.3 943.4L1202.8 944L1201.8 945.1L1201.2 945.8L1200.8 945.1L1199.8 943.7L1199.1 942.6L1198.8 941.4L1198.6 940.4L1197.8 936.8L1197 933.2L1196.8 926.3L1196.2 909.8L1195.8 896.3L1195.5 886.4L1194.8 886.4L1194.7 886.4L1193.9 839.7L1193.8 838.4L1193.8 837.9L1192.8 828.5L1192.8 828.4L1192.3 823.9L1192.2 824.1L1191.8 824.6L1190.8 825.9L1190.8 826L1190.3 826.6L1190 827L1189.8 827.6L1189.2 829.3L1188.8 830.6L1188.4 831.7L1188.3 830.9L1188.1 830.1L1187.8 828.5L1186.8 823.5L1186.4 821.6L1185.8 818.5L1185.3 816L1184.8 813.5L1184.1 809.8L1183.8 808.5L1183.8 808.2L1183 802.8L1182.8 801.6L1182.2 797.4L1181.8 794.7L1180.8 787.7L1180.6 786.5L1180.2 783.3L1179.8 777.7L1178.8 762L1178.6 758.7L1178.3 755.6L1177.8 750.8L1177 743.1L1176.8 742.4L1175.9 739.8L1175.8 739.4L1175.5 738.4L1174.8 739.4L1174.1 740.5L1173.9 740.7L1173.8 741.1L1172.8 744.6L1172.7 745.1L1172.3 746.1L1172 738.7L1171.8 733.2L1171.6 727.4L1170.8 703.6L1170.5 693.3L1170.3 688.3L1169.8 656.9L1169.7 650.2L1169.2 621.3L1168.8 609.9L1168.4 600.1L1168.1 591.6L1167.8 595.3L1167.2 602.4L1166.9 616.4L1166.8 620L1166.1 652.9Z" fill="#bdbd00"/>
<path d="M912.8 1010L913.4 1007.6L913.8 1006.2L913.8 1005.7L914.1 1002.2L914.8 994L915 991.6L915.3 988.1L915.8 990.3L916.2 992.2L916.6 993.8L916.8 994.7L917.5 998L917.8 999.4L918.4 991.9L918.8 986.9L919.4 979.4L919.8 984.8L920 987.5L920.3 990L920 989.2L919.8 988.6L919.4 987.5L918.8 991.3L918.4 993.8L917.8 1000L917.5 1003.1L916.8 1001.4L916.6 1000.9L916.2 1000L915.8 999.3L915.3 998.6L915 998.1L914.8 1000.1L914.1 1007.3L913.8 1010.3L913.8 1010.8L913.4 1014.4L912.8 1014ZM920.3 990L920.8 1000.3L920.9 1001.9L921.8 1002L922.5 1002L922.8 1002.1L923.4 1002.1L923.8 1002.2L924.8 1002.2L925 1002.3L925.8 1002.3L926.2 1002.4L926.8 1002.4L927.2 1002.4L927.8 1002.5L928.1 700L927.8 1012.5L927.2 1012.8L926.8 1012.5L926.2 1012.1L925.8 1011.8L925 1011.2L924.8 1011.1L923.8 1010.6L923.4 1010.5L922.8 1010.1L922.5 1010L921.8 1009.2L920.9 1008.1L920.8 1005.1L920.3 990ZM937.1 884L937.5 892L937.8 898L938.8 917.9L939.1 923.1L939.8 937.8L939.8 938.6L940.6 937.6L940.8 937.3L941.4 936.4L941.8 935.2L942.8 932.1L943.4 930.1L943.8 930.6L943.8 930.7L944.8 932.4L945 932.7L945.3 933.2L945.8 932.9L945.8 932.9L946.8 932.3L947.3 931.9L947.7 931.7L947.8 932.9L948.8 941.4L949.2 944.9L949.7 948.9L949.8 949.8L950.8 958.1L951.6 964.5L951.8 949.7L951.6 964.5L950.8 970.2L949.8 977.7L949.7 978.5L949.2 972.8L948.8 967.6L947.8 955.3L947.7 953.6L947.3 955.4L946.8 958.6L945.8 964.4L945.8 964.5L945.3 962.7L945 961.5L944.8 960.7L943.8 956.9L943.8 956.7L943.4 955.9L942.8 954.2L941.8 951.5L941.4 950.4L940.8 951.2L940.6 951.5L939.8 952.5L939.8 952.6L939.1 953.6L938.8 952.8L937.8 949.8L937.5 948.9L937.1 884ZM957 902L957.3 902.1L957.8 899.1L958.6 894.2L958.8 892.7L959.7 913.8L959.8 916.5L960.8 962.9L960.9 972.3L961.7 972.3L961.8 972.3L962.5 970.8L961.8 979.3L961.7 980.3L960.9 989.8L960.8 991.5L959.8 1003.8L959.7 1005.1L958.8 946.8L958.6 933.2L957.8 917.4L957.3 908.2L957 902ZM962.5 970.8L962.8 972.3L963.8 975.6L964.1 977L964.8 972.3L965.3 972.3L965.8 972.3L965.9 972.3L965.9 972.3L965.8 975.4L965.3 986.4L964.8 983.5L964.1 979.4L963.8 978L962.8 972.4L962.5 970.8ZM965.9 972.3L966.8 965.2L967.5 959.4L967.8 956.9L968.8 948.7L969.2 945.2L969.5 942.6L969.8 941.9L970.8 939.2L971.8 936.6L971.9 936.4L972.8 932.8L973.8 928.9L974.7 925.4L974.8 925.8L975 926.3L975.3 927.3L975.8 928.6L975.8 928.7L976.6 930.9L976.8 933.1L977.3 938.2L977.8 942.4L978.1 945.4L978.8 951.8L979.8 961.1L980 962.9L980.8 959.5L980.9 958.9L981.6 956.3L981.8 955.3L982.8 951.1L982.8 951L983.8 946.8L984.8 942.6L985.2 940.9L985.6 917.9L985.8 908.9L986.2 886.4L986.6 870.9L986.8 839.1L987.5 745.8L987.8 785.7L988.4 871L988.8 895.8L988.8 899.7L989.1 920.5L989.5 958.1L989.8 979.7L989.8 983L990.8 984.2L991.8 985.2L992.2 985.6L992.8 983.3L993.8 979.7L994.5 977L994.8 977.4L994.5 980.1L993.8 982.8L992.8 986.5L992.2 988.7L991.8 988.3L990.8 987.3L989.8 986.2L989.8 984.2L989.5 971.1L989.1 948.3L988.8 935.7L988.8 933.2L988.4 913.9L987.8 873.9L987.5 855.1L986.8 881.4L986.6 890.4L986.2 902L985.8 921.3L985.6 929L985.2 948.7L984.8 950.7L983.8 955.7L982.8 960.6L982.8 960.7L981.8 965.7L981.6 966.8L980.9 966.5L980.8 966.5L980 966.1L979.8 964.1L978.8 954.1L978.1 947.3L977.8 944.1L977.3 939.5L976.8 937.3L976.6 936.4L975.8 933.3L975.8 933.2L975.3 931.4L975 930.1L974.8 930.7L974.7 931.1L973.8 933.7L972.8 936.7L971.9 939.5L971.8 939.7L970.8 942.7L969.8 945.7L969.5 946.5L969.2 948.8L968.8 951.8L967.8 959L967.5 961.1L966.8 966.1L965.9 972.3ZM997.2 982.6L997.8 992.6L998.1 994.2L998.4 991.2L998.8 987.7L999.8 978.2L1000 976.3L1000.8 968.8L1000.8 968.7L1001.6 961.4L1001.8 959.9L1002.3 958.3L1002.8 950.3L1002.3 958.3L1001.8 963L1001.6 965L1000.8 971.6L1000.8 971.8L1000 978.6L999.8 980.6L998.8 991.1L998.4 994.8L998.1 998L997.8 992.7L997.2 982.6ZM1006.2 911.4L1006.8 909.2L1007.3 907L1007.8 905.2L1007.8 905.1L1008.8 917L1009.4 923.9L1009.8 929L1010.2 933.3L1009.8 932.8L1009.4 932.2L1008.8 931.4L1007.8 930.1L1007.8 930L1007.3 924.5L1006.8 918L1006.2 911.4ZM1021.9 925.4L1022.7 914.6L1022.8 918.4L1023.8 945.4L1024.2 956.7L1024.8 960.2L1025.8 964L1024.8 963.3L1024.2 962.9L1023.8 950.8L1022.8 921.8L1022.7 917.7L1021.9 925.4ZM1026.8 967.6L1027.8 978.5L1027.8 978.5L1028.1 975.9L1028.8 970L1029.7 962.3L1029.8 961.4L1030.5 955.6L1030.8 952.8L1031.2 948.9L1031.7 927.7L1031.8 924.1L1032 916.8L1032.8 879.1L1032.8 878.7L1033.1 874L1033.6 866.9L1033.8 863.8L1034.4 855L1034.8 847.9L1035.8 830.9L1035.9 828.6L1036.2 830.4L1036.8 833.6L1037.8 839.4L1037.8 839.5L1038.6 797.5L1038.8 727.9L1039.1 640.3L1039.8 636.6L1039.8 636.4L1040.8 639.7L1041.8 643.1L1041.9 643.4L1042.8 646.5L1043.4 648.7L1043.8 649.9L1044.8 653.4L1045.3 655.1L1045.3 655.1L1044.8 653.4L1043.8 650.1L1043.4 648.9L1042.8 646.7L1041.9 643.7L1041.8 643.4L1040.8 640L1039.8 636.9L1039.8 637.1L1039.1 641.9L1038.8 729.4L1038.6 799.3L1037.8 880.1L1037.8 880.1L1036.8 879.6L1036.2 879.3L1035.9 879.2L1035.8 879.2L1034.8 878.7L1034.4 878.6L1033.8 881.4L1033.6 882.5L1033.1 884.8L1032.8 886.6L1032.8 887.3L1032 941.2L1031.8 957.3L1031.7 962.8L1031.2 963.3L1030.8 963.6L1030.5 963.9L1029.8 964.4L1029.7 964.5L1028.8 972.3L1028.1 978.2L1027.8 980.9L1027.8 980.7L1026.8 967.6ZM1045.3 655.1L1045.8 703.3L1046.6 778.3L1046.8 791.2L1047.3 823.6L1047.8 796.6L1047.3 826.8L1046.8 794.4L1046.6 779.9L1045.8 703.9L1045.3 655.1ZM1057.5 917.6L1057.8 914.9L1057.8 914.6L1058.1 915.1L1058.8 916.5L1059.1 917L1059.4 917.7L1059.8 921L1060.8 929L1060.9 930.1L1061.7 919.2L1061.8 918.1L1062.2 912.6L1062.5 908.2L1062.8 904.1L1063.3 897.3L1063.8 890.1L1064.1 886.4L1064.1 886.4L1063.8 891.1L1063.3 900.5L1062.8 909.1L1062.5 914.5L1062.2 918.2L1061.8 922.9L1061.7 923.9L1060.9 933.2L1060.8 932.7L1059.8 928.5L1059.4 926.8L1059.1 925.4L1058.8 924.1L1058.1 920.7L1057.8 919.2L1057.8 919.1L1057.5 917.6ZM1066.4 957.3L1066.8 971.5L1066.9 971.4L1067.2 975.4L1066.9 976.1L1066.8 973.2L1066.4 957.3ZM1080.8 882L1081.2 778.6L1081.7 636.4L1081.8 636.9L1082.5 635.4L1081.8 639.1L1081.7 639.5L1081.2 780.1L1080.8 882ZM1088.8 658.7L1089.4 683.6L1089.8 715.7L1090.6 778.2L1090.8 798.9L1091.4 869.8L1091.8 902.7L1091.4 886.5L1090.8 803.9L1090.6 779.7L1089.8 718.2L1089.4 686.8L1088.8 658.7ZM1091.9 906L1092.5 921.8L1092.8 920.8L1093.8 917.6L1093.8 918.6L1094.5 917.6L1093.8 922.7L1093.8 923L1092.8 929.6L1092.5 931.7L1091.9 906ZM1095.8 953.7L1096.1 961.8L1096.6 970.7L1096.8 964L1097.7 934.8L1096.8 966.7L1096.6 975.4L1096.1 962L1095.8 953.7ZM1103.1 858.2L1103.4 916.1L1103.8 916.3L1104.2 916.6L1104.7 916.1L1104.2 998.7L1103.8 997.2L1103.4 995.8L1103.1 858.2ZM1105.8 920.2L1106.2 948.9L1106.4 950.5L1106.6 952L1106.8 954.4L1107 956.7L1107.8 948.5L1107.8 948.4L1108.6 940.1L1108.8 937.8L1109.4 931.7L1109.8 932L1110.2 932.2L1110.8 932.6L1110.9 932.7L1111.7 933.3L1111.8 933.7L1112.5 937.9L1112.8 939.7L1113.3 942.6L1113.8 945.7L1114.1 947.3L1114.8 942.9L1114.8 942.6L1115.8 936.9L1115.9 936L1116.4 933L1116.8 905.1L1116.9 899.4L1117.5 855.1L1117.8 817L1118 795.4L1118.8 704.5L1118.8 700.9L1119.5 669.7L1119.8 660.5L1120 653.7L1120.3 643.2L1120.8 648.8L1121.6 657.6L1121.8 660.4L1121.9 661.4L1122.2 665L1122.8 671.3L1123.8 681.7L1124.2 686.1L1124.8 685.7L1125.8 685L1126.6 684.5L1126.8 685.1L1127.8 687.4L1128.1 688.1L1128.8 689.7L1128.9 690L1129.8 698L1130 699.8L1130.5 704.1L1130.8 711.1L1131.2 720.8L1131.6 727.4L1131.8 742.5L1132 757.1L1132.3 776.8L1132.5 781.2L1132.8 789.2L1132.8 789.4L1133.8 790.8L1134.1 791.2L1134.4 791.6L1134.8 792.1L1135.2 792.7L1135.6 798.8L1135.8 801.2L1135.9 803.1L1136.7 813.5L1136.8 814.5L1137.5 823.9L1137.8 829.6L1137.8 829.8L1138.3 838.7L1138.8 848.6L1139.8 867.6L1140.3 877.3L1140.6 883.2L1140.8 881.9L1141.8 873.9L1142.8 865.9L1143 864.5L1143.8 858.2L1143.8 857.9L1144.5 852L1144.8 854.7L1145.8 864.7L1146.1 867.6L1146.6 874.5L1146.8 878L1146.9 879.2L1147.8 892.6L1148.4 902L1148.8 900.8L1148.8 900.6L1149.8 896.6L1150.8 892.6L1150.8 892.6L1151.6 891.6L1151.8 891.3L1152.3 890.5L1152.8 889.9L1153.1 889.5L1153.8 884.1L1154.7 877L1154.8 876.1L1155.5 870.7L1155.8 869.8L1156.8 867.1L1157.8 864.3L1157.8 864.3L1158.6 862.2L1158.8 862.5L1159.8 864.2L1160.8 865.8L1160.9 866.1L1161.8 868.2L1162.5 870L1162.8 869.3L1162.8 869.3L1163.8 867.3L1164.1 866.7L1164.4 865.6L1164.8 827.8L1165.2 795.5L1165.6 764.8L1165.8 722.5L1166.1 652.9L1166.8 620L1166.9 616.4L1167.2 602.4L1167.8 595.3L1168.1 591.6L1168.4 600.1L1168.8 609.9L1169.2 621.3L1169.7 650.2L1169.8 656.9L1170.3 688.3L1170.5 693.3L1170.8 703.6L1171.6 727.4L1171.8 733.2L1172 738.7L1172.3 746.1L1172.7 745.1L1172.8 744.6L1173.8 741.1L1173.9 740.7L1174.1 740.5L1174.8 739.4L1175.5 738.4L1175.8 739.4L1175.9 739.8L1176.8 742.4L1177 743.1L1177.8 750.8L1178.3 755.6L1178.6 758.7L1178.8 762L1179.8 777.7L1180.2 783.3L1180.6 786.5L1180.8 787.7L1181.8 794.7L1182.2 797.4L1182.8 801.6L1183 802.8L1183.8 808.2L1183.8 808.5L1184.1 809.8L1184.8 813.5L1185.3 816L1185.8 818.5L1186.4 821.6L1186.8 823.5L1187.8 828.5L1188.1 830.1L1188.3 830.9L1188.4 831.7L1188.8 830.6L1189.2 829.3L1189.8 827.6L1190 827L1190.3 826.6L1190.8 826L1190.8 825.9L1191.8 824.6L1192.2 824.1L1192.3 823.9L1192.8 828.4L1192.8 828.5L1193.8 837.9L1193.8 838.4L1193.9 839.7L1194.7 886.4L1194.8 886.4L1195.5 886.4L1195.8 896.3L1196.2 909.8L1196.8 926.3L1197 933.2L1197.8 936.8L1198.6 940.4L1198.8 941.4L1199.1 942.6L1199.8 943.7L1200.8 945.1L1201.2 945.8L1201.8 945.1L1202.8 944L1203.3 943.4L1203.8 943.6L1204.8 944L1205.3 944.2L1205.6 945.1L1205.8 945.6L1206.8 948.6L1206.9 948.9L1207.8 953.1L1208.4 956L1208.8 957.4L1208.8 957.6L1209.8 962.2L1210.3 964.5L1210.8 967.4L1211.8 973.4L1212.7 978.5L1212.8 976.5L1213.8 961.8L1214.7 948.9L1214.8 948.4L1215.8 943.8L1216.6 940.4L1216.8 939.3L1217.8 934.7L1218.1 933.3L1218.8 927.9L1218.9 927L1219.8 919.9L1220.5 914.5L1220.8 915L1221.8 916.5L1222.5 917.6L1222.8 917.6L1222.8 917.6L1223.8 917.6L1224.8 917.6L1225.2 917.6L1225.8 917.5L1226.8 917.2L1227.2 917.1L1227.8 917L1228.3 916.8L1228.8 903.6L1229.1 897L1229.8 878.1L1229.8 877.1L1230.8 876L1230.9 875.9L1231.8 875L1232.2 874.7L1232.8 873.6L1233.8 872.1L1233.8 872L1234.5 870.8L1234.8 868.7L1235.8 861L1236.6 855.1L1236.8 853.1L1237.8 844.8L1238.4 839.5L1238.8 842.4L1239.8 850.4L1240.8 858.2L1240.8 858.6L1241.8 877.3L1242.8 895.9L1243.1 901.9L1243.8 915.5L1244.8 935.5L1245.5 948.9L1245.8 952.7L1246.8 964.2L1247.5 972.3L1247.8 973.1L1248.8 975.6L1249.4 977L1249.8 976.2L1250.2 975.4L1250.8 974.2L1250.9 973.8L1251.7 960.3L1251.8 958.9L1252.8 941.6L1253.3 933.3L1253.8 927L1253.8 926.3L1254.8 913L1255.6 902.1L1255.8 899.7L1256.8 886.3L1257.5 877L1257.8 876.1L1258.8 873L1259.1 872.2L1259.5 870.8L1259.8 870.8L1260.6 870.8L1260.8 872.9L1261.1 876.6L1261.8 885.4L1261.9 886.4L1262.7 894.2L1262.8 895.6L1263.8 905.6L1264.2 909.8L1264.8 911.7L1265 912.4L1265.8 915.1L1266.6 917.6L1266.8 918.3L1267.3 919.7L1267.8 920.9L1268.8 923.6L1268.9 923.9L1269.7 928.1L1269.8 928.6L1270.8 934L1271.2 936.4L1271.8 940.4L1272 942.1L1272.8 947.7L1273.6 953.5L1273.8 954.1L1274.4 955.7L1274.8 956.8L1275.8 959.4L1275.9 959.8L1276.7 961.4L1276.8 961.5L1277.8 963.5L1278.3 964.5L1278.8 965L1279.1 965.3L1279.8 966L1280.6 966.8L1280.8 966.6L1280.9 966.4L1281.8 965.4L1282.5 964.5L1282.8 966.3L1283.8 972.5L1284.5 977L1284.8 977.4L1285.8 978.7L1286.8 980L1286.9 980.1L1287.8 980.8L1288.8 981.6L1288.9 981.7L1289.2 982.1L1289.8 982.9L1290.8 984.2L1291.2 984.8L1291.6 985L1291.8 985.1L1292.8 985.7L1293.8 986.3L1293.9 986.4L1294.8 987L1295 987.2L1295.8 984.4L1296.8 980.9L1297 980.1L1297.8 977.1L1298.8 973.1L1299.1 972L1299.4 970.7L1299.8 969.3L1300.8 966L1300.9 965.5L1301.2 964.5L1301.8 963.2L1302.8 960.9L1303.3 959.8L1303.8 958.4L1304.8 955.8L1305.6 953.6L1305.8 953L1306.8 949.6L1307.8 946.3L1308 945.7L1308.8 941.9L1309.8 937.2L1310.3 934.8L1310.8 939.2L1311.8 948.2L1311.9 948.9L1311.9 948.9L1311.8 948.7L1310.8 946.2L1310.3 945L1309.8 946.5L1308.8 949.5L1308 952L1307.8 952.6L1306.8 955.9L1305.8 959.2L1305.6 959.8L1304.8 962L1303.8 964.7L1303.3 966.1L1302.8 967L1301.8 969L1301.2 970.1L1300.9 970.7L1300.8 971.4L1299.8 976.4L1299.4 978.5L1299.1 980.1L1298.8 981.7L1297.8 987.9L1297 992.6L1296.8 993.1L1295.8 995.3L1295 997L1294.8 996.5L1293.9 994.2L1293.8 994.2L1292.8 993.8L1291.8 993.5L1291.6 993.4L1291.2 993.1L1290.8 992.6L1289.8 991.6L1289.2 991.1L1288.9 990.4L1288.8 990.2L1287.8 988.2L1286.9 986.4L1286.8 986.2L1285.8 984.2L1284.8 982.2L1284.5 981.7L1283.8 978L1282.8 973L1282.5 971.5L1281.8 973.6L1280.9 976.2L1280.8 976L1280.6 975.8L1279.8 974.8L1279.1 973.9L1278.8 972.8L1278.3 970.7L1277.8 968.8L1276.8 964.8L1276.7 964.5L1275.9 962.4L1275.8 962L1274.8 959.4L1274.4 958.3L1273.8 955.2L1273.6 954.1L1272.8 949.8L1272 945.7L1271.8 944.4L1271.2 941.1L1270.8 938.4L1269.8 932.4L1269.7 931.7L1268.9 929.6L1268.8 929.3L1267.8 926.7L1267.3 925.4L1266.8 923.6L1266.6 922.8L1265.8 920.3L1265 917.6L1264.8 916.8L1264.2 914.5L1263.8 912.8L1262.8 908.8L1262.7 908.3L1261.9 897.4L1261.8 896.3L1261.1 886.4L1260.8 885.2L1260.6 884.5L1259.8 881.2L1259.5 880.1L1259.1 882.3L1258.8 883.5L1257.8 888.1L1257.5 889.5L1256.8 897.1L1255.8 907.9L1255.6 909.9L1254.8 923.6L1253.8 940.2L1253.8 941.1L1253.3 950.1L1252.8 959.3L1251.8 978.6L1251.7 980.1L1250.9 985.2L1250.8 986.1L1250.2 990.3L1249.8 988.7L1249.4 986.9L1248.8 984.3L1247.8 979.9L1247.5 978.6L1246.8 971L1245.8 960.3L1245.5 956.7L1244.8 942.9L1243.8 922.2L1243.1 908.2L1242.8 903L1241.8 887L1240.8 871L1240.8 870.7L1239.8 862.2L1238.8 853.6L1238.4 850.5L1237.8 855.2L1236.8 862.7L1236.6 864.5L1235.8 870.4L1234.8 878.1L1234.5 880.1L1233.8 882.1L1233.8 882.2L1232.8 884.7L1232.2 886.4L1231.8 886.9L1230.9 888L1230.8 888.2L1229.8 889.6L1229.8 890.6L1229.1 909.1L1228.8 915.6L1228.3 928.6L1227.8 928.7L1227.2 928.8L1226.8 928.9L1225.8 929.2L1225.2 929.3L1224.8 929.3L1223.8 929.3L1222.8 929.3L1222.8 929.3L1222.5 928.5L1221.8 926.6L1220.8 924L1220.5 923.1L1219.8 927.4L1218.9 933.2L1218.8 933.8L1218.1 937.4L1217.8 939.2L1216.8 944.5L1216.6 945.8L1215.8 949.6L1214.8 954.6L1214.7 955.1L1213.8 970.1L1212.8 987.1L1212.7 989.4L1211.8 988.5L1210.8 987.3L1210.3 986.7L1209.8 986.1L1208.8 984.9L1208.8 984.8L1208.4 984.5L1207.8 983.9L1206.9 982.9L1206.8 982.9L1205.8 981.9L1205.6 981.7L1205.3 981.5L1204.8 981.1L1203.8 980.5L1203.3 980.1L1202.8 980.3L1201.8 980.7L1201.2 980.9L1200.8 979.7L1199.8 977.1L1199.1 975.1L1198.8 974.4L1198.6 973.9L1197.8 970.7L1197 967.6L1196.8 966.7L1196.2 964.5L1195.8 942L1195.5 925.5L1194.8 892L1194.7 886.5L1193.9 883.1L1193.8 882.7L1193.8 882.5L1192.8 878.6L1192.8 878.6L1192.3 880.4L1192.2 881L1191.8 882.5L1190.8 886.3L1190.8 886.4L1190.3 895.8L1190 902L1189.8 906L1189.2 917.6L1188.8 933.8L1188.4 947.7L1188.3 953.8L1188.1 959.8L1187.8 959.6L1186.8 959.1L1186.4 958.9L1185.8 958.5L1185.3 958.2L1184.8 955.9L1184.1 952.4L1183.8 951.2L1183.8 951L1183 947.3L1182.8 947.2L1182.2 946.8L1181.8 946.5L1180.8 945.9L1180.6 945.7L1180.2 943.6L1179.8 941.9L1178.8 937.2L1178.6 936.3L1178.3 934.8L1177.8 934.7L1177 934.4L1176.8 934.3L1175.9 934L1175.8 933.9L1175.5 933.6L1174.8 933.1L1174.1 932.5L1173.9 933L1173.8 933.4L1172.8 936.8L1172.7 937.3L1172.3 938.4L1172 939.5L1171.8 938.6L1171.6 937.6L1170.8 934.6L1170.5 933.3L1170.3 930.5L1169.8 921.7L1169.7 919.8L1169.2 911.6L1168.8 904.3L1168.4 898.1L1168.1 892.6L1167.8 893.8L1167.2 896.1L1166.9 897.3L1166.8 897.6L1166.1 900.3L1165.8 901.3L1165.6 902.1L1165.2 908.3L1164.8 913.1L1164.4 918.8L1164.1 923.1L1163.8 923L1162.8 922.8L1162.8 922.8L1162.5 922.7L1161.8 922.5L1160.9 922.3L1160.8 922.5L1159.8 924L1158.8 925.5L1158.6 925.8L1157.8 927L1157.8 927L1156.8 928.5L1155.8 930L1155.5 930.5L1154.8 931.5L1154.7 931.7L1153.8 935.2L1153.1 938L1152.8 939.2L1152.3 941.1L1151.8 941.3L1151.6 941.5L1150.8 941.8L1150.8 941.8L1149.8 943.5L1148.8 945.1L1148.8 945.2L1148.4 945.7L1147.8 943.6L1146.9 940.6L1146.8 940.3L1146.6 939.5L1146.1 936.2L1145.8 934.2L1144.8 927.3L1144.5 925.4L1143.8 929.1L1143.8 929.3L1143 933.2L1142.8 934.2L1141.8 939.8L1140.8 945.4L1140.6 946.4L1140.3 948.1L1139.8 945.4L1138.8 940.1L1138.3 937.4L1137.8 934.9L1137.8 934.8L1137.5 933.2L1136.8 924.1L1136.7 923.1L1135.9 913L1135.8 913.1L1135.6 913.3L1135.2 913.7L1134.8 914.1L1134.4 914.5L1134.1 916.6L1133.8 918.3L1132.8 924.9L1132.8 925L1132.5 927L1132.3 925.4L1132 922.3L1131.8 920L1131.6 917.6L1131.2 913.2L1130.8 906.9L1130.5 902.3L1130 895.8L1129.8 896.4L1128.9 899.4L1128.8 899.8L1128.1 902L1127.8 901L1126.8 898L1126.6 897.3L1125.8 897.8L1124.8 898.5L1124.2 898.9L1123.8 900.8L1122.8 905.5L1122.2 908.3L1121.9 909.8L1121.8 909.8L1121.6 909.8L1120.8 909.8L1120.3 909.8L1120 909.8L1119.8 912.1L1119.5 915.2L1118.8 923.7L1118.8 924.2L1118 933.2L1117.8 938.4L1117.5 947.7L1116.9 966.7L1116.8 969.2L1116.4 981.2L1115.9 995.7L1115.8 995.9L1114.8 996.7L1114.8 996.7L1114.1 997.3L1113.8 997.6L1113.3 998.1L1112.8 998.6L1112.5 998.9L1111.8 997.5L1111.7 997.3L1110.9 995.8L1110.8 996.7L1110.2 1000.9L1109.8 1003.3L1109.4 1006.1L1108.8 1010L1108.6 1011.4L1107.8 1008L1107.8 1008L1107 1004.7L1106.8 1003.7L1106.6 1002.7L1106.4 1002L1106.2 980.9L1105.8 920.2ZM1311.9 948.9L1312.8 960.6L1313.4 968.7L1313.8 973.3L1314.2 978.2L1313.8 974.2L1313.4 970.8L1312.8 961.8L1311.9 948.9ZM1314.2 978.2L1314.8 975.9L1315.3 973.5L1315.8 971.3L1316.2 969.2L1316.8 968.3L1317.3 967.4L1317.8 966.6L1318.1 966.1L1318.8 967L1318.9 967.1L1319.8 968.3L1320.5 969.2L1320.8 970.3L1320.9 970.8L1321.8 973.6L1322.8 977L1322.8 977L1323.1 976L1323.8 973.7L1324.8 970.4L1325.2 969.2L1325.8 969.7L1326.8 970.5L1327.2 970.8L1327.8 972.3L1328.8 974.7L1328.8 974.8L1329.1 975.4L1329.8 972L1330.6 968.2L1330.8 967.3L1331.4 964.5L1331.8 961.7L1332.2 959L1332.8 954.7L1333 953.6L1333.8 953.8L1333.8 953.8L1334.5 954.1L1334.8 954.2L1335.3 954.3L1335.8 953.7L1336.6 952.7L1336.8 952.4L1337.7 951.2L1337.8 951.1L1338.8 950.6L1339.2 950.4L1339.8 955.7L1340 957.5L1340.8 964.5L1340.8 964.6L1341.8 969.9L1342.3 972.8L1342.8 975.3L1343.1 977L1343.8 977.4L1344.7 978L1344.8 978.1L1345.5 978.6L1345.8 977.9L1346.8 975.9L1347 975.4L1347.8 973.9L1347.8 973.9L1348.8 963.3L1349.1 960.6L1349.4 957.2L1349.8 952.7L1350.2 948.7L1350.8 917.6L1351.2 895.8L1351.8 924.6L1352.5 961.4L1352.8 962L1353.3 962.9L1353.8 964L1354.8 966L1354.8 966.1L1355.6 966.1L1355.8 966.1L1356.8 966.1L1357.2 966.1L1357.8 964.7L1358 964.3L1358.8 962.5L1359.8 960.3L1360 959.8L1360.3 959.7L1360.8 959.6L1361.8 959.3L1362.7 959L1362.8 959.1L1363.8 959.8L1364.8 960.5L1365 960.6L1365.8 959.8L1366.8 958.8L1367.3 958.3L1367.8 958.9L1368.8 960.2L1369.4 961L1369.7 961.4L1369.8 960.5L1370.8 952.5L1370.9 951.4L1371.2 948.9L1371.8 935.1L1371.9 933.2L1372.8 925.2L1373.1 922.4L1373.4 926.4L1373.8 931L1374.2 936.4L1374.8 937L1375.8 937.9L1375.8 937.9L1376.8 937.3L1377.8 936.6L1378.1 936.4L1378.8 936.6L1379.4 936.8L1379.8 936.9L1380.5 937.2L1380.8 937.2L1381.2 937.2L1381.8 937.2L1382 937.2L1382.8 942.2L1382.8 942.2L1383.6 947.3L1383.8 950.6L1384.4 959.9L1384.8 966.6L1385.2 972.3L1385.6 973.5L1385.8 974L1386.2 975.2L1386.8 976.7L1387.5 978.6L1387.8 978.6L1388.3 978.8L1388.8 978.9L1389.8 979.1L1390.3 979.3L1390.6 979.3L1390.8 979.4L1391.8 979.6L1391.9 979.7L1392.8 979.9L1393.8 980.1L1393.8 980.1L1394.8 979.4L1395.6 978.9L1395.8 978.8L1396.1 978.6L1396.8 976.4L1397.7 973.9L1397.8 973.2L1398.8 968.6L1399.7 964.5L1399.8 964L1400.8 959.9L1400.8 959.9L1401.6 956.7L1401.8 956.3L1402.8 954.8L1403.1 954.4L1403.8 957.4L1404.7 961.4L1404.8 961.9L1405.5 964.8L1405.8 966.2L1405.9 966.8L1406.8 956.9L1407 954.3L1407.5 948.9L1407.8 946.1L1408.8 937L1409.4 931.7L1409.8 933.8L1410.8 938.8L1410.9 939.5L1411.7 939.5L1411.8 939.5L1412.5 939.5L1412.8 939.5L1413.3 939.5L1413.8 935.9L1413.8 935.5L1414.8 927.8L1414.8 927.5L1415.3 923.9L1415.8 930.7L1416.8 944.7L1416.9 945.8L1417.2 946.1L1417.8 946.9L1418.8 948.1L1418.8 948.1L1419.5 948.1L1419.8 948.1L1420.8 948.1L1421.1 948.1L1421.6 947.2L1421.8 946.7L1422.7 945.1L1422.8 944.8L1423.1 944.2L1423.4 945L1423.8 945.9L1424.8 948.4L1425 948.9L1425.3 949.5L1425.8 950.5L1426.8 952.5L1427.3 953.6L1427.8 954.5L1428.1 955.1L1428.8 956.5L1429.7 958.3L1429.8 958.5L1430.8 961.2L1431.2 962.4L1431.8 963.9L1432 964.5L1432.8 969.1L1433.6 973.9L1433.8 975.1L1434.4 978.6L1434.8 979.7L1435.8 982.4L1435.9 982.7L1436.7 984.8L1436.8 984.9L1437.5 986L1437.8 986.4L1438.3 987.2L1438.8 985.9L1439.1 985.3L1439.8 983.6L1439.8 983.5L1440.6 981.7L1440.8 981.5L1441.4 980.6L1441.8 980.1L1442.2 979.6L1442.8 978.8L1443 978.6L1443.8 978.8L1443.8 978.8L1444.8 979.2L1445.3 979.3L1445.6 979.4L1445.8 979.5L1446.1 979.6L1446.8 979.8L1447.7 980.1L1447.8 979.9L1448.8 978.4L1449.7 976.6L1449.8 960.7L1450.3 886.7L1450.8 862.8L1450.9 856L1451.2 841.1L1451.6 842.4L1451.8 843.4L1452.3 845.7L1452.8 849.3L1453.1 851.7L1453.8 857L1453.9 857.8L1454.4 861.4L1454.8 861.6L1455 861.7L1455.8 862.2L1456.2 862.5L1456.8 862.8L1456.9 862.8L1457 862.9L1457.5 865.1L1457.8 866.5L1458.8 871L1458.8 871.2L1459.4 873.9L1459.8 875.6L1460.8 879.6L1461.2 881.4L1461.7 883.3L1461.8 883.4L1462.5 884.2L1462.8 884.6L1463.8 885.8L1463.8 885.9L1464.1 886.2L1464.8 887.1L1464.8 887.2L1465.6 884.3L1465.8 883.7L1466.4 881.4L1466.8 880L1467.2 878.6L1467.8 878.1L1468 877.9L1468.8 877.3L1468.8 877.2L1469.1 877L1469.8 878.7L1470 879.2L1470.8 881L1471.1 881.7L1471.8 884L1472.7 886.9L1472.8 887.4L1473.4 889.5L1473.8 890.5L1474.2 891.7L1474.8 893.3L1475.8 896L1475.8 896.1L1476.2 897.3L1476.6 898.9L1476.8 900.1L1477.3 902.8L1477.8 905.1L1478.1 906.7L1478.8 911.3L1478.9 912.1L1479.4 915.3L1479.7 914.9L1479.8 914.8L1480.5 914L1480.8 913.6L1481.8 912.4L1482 912.2L1482.8 911.9L1482.8 911.9L1483.6 911.6L1483.8 911.6L1484.4 911.4L1484.8 911.3L1485.8 911L1486.8 910.8L1487.5 910.6L1487.8 909.7L1488.3 908.3L1488.8 906.7L1489.1 905.9L1489.8 903.7L1489.8 903.6L1490.8 900.7L1491.4 898.9L1491.8 897.7L1492.2 896.5L1492.8 897.1L1493.4 897.8L1493.8 898.1L1494.5 898.9L1494.8 899.2L1495.3 899.9L1495.8 900.6L1496.1 901L1496.8 901.9L1496.9 902L1497.7 903.6L1497.8 903.8L1498.8 905.8L1499.2 906.7L1499.8 908.2L1500 908.8L1500.8 910.9L1501.6 912.9L1501.8 913.2L1502.8 914.2L1503.1 914.5L1503.8 915.2L1503.9 915.3L1504.8 913.8L1505.5 912.7L1505.8 912.1L1506.2 911.4L1506.8 911L1507.8 910.3L1507.8 910.3L1508.6 909.8L1508.8 909.4L1509.4 908.2L1509.8 907.4L1510.8 905.4L1510.9 905.1L1511.7 903.3L1511.8 903.1L1512.5 901.5L1512.8 900.8L1513.3 899.7L1513.8 899L1514.1 898.6L1514.8 897.6L1515.6 896.5L1515.8 896.6L1515.9 896.7L1516.8 897.3L1517.8 898L1518 898.1L1518.8 897.5L1519.5 897.1L1519.8 896.9L1520.3 896.5L1520.8 897L1521.8 898L1522.7 898.9L1522.8 899.1L1523.4 900.1L1523.8 900.6L1524.8 902.1L1525.8 903.6L1525.8 903.4L1526.2 900.3L1526.8 896.4L1527.3 892.7L1527.8 893.2L1528.1 893.7L1528.4 894.1L1528.8 894.6L1529.7 895.7L1529.8 895.3L1530.5 892.6L1530.8 891.3L1531.2 889.5L1531.6 888.5L1531.8 887.7L1532.8 884.3L1532.8 884.3L1533.1 883.3L1533.6 881.7L1533.8 882.6L1534.4 885.2L1534.7 886.6L1534.8 887.1L1535.2 888.7L1535.8 888.1L1535.9 887.9L1536.7 887.2L1536.8 887.1L1537.5 886.4L1537.8 886L1538.3 885.4L1538.8 884.8L1539.1 884.4L1539.8 883.5L1540.6 882.5L1540.8 882.3L1541.4 881.9L1541.8 881.6L1542.2 881.3L1542.8 880.8L1543 880.7L1543.8 880.1L1543.8 880L1544.8 877.3L1545 876.8L1545.3 876L1545.8 874.7L1546.1 873.9L1546.8 872L1547.5 870.1L1547.7 869.7L1547.8 869.3L1548.4 867.6L1548.8 868.6L1549.2 869.7L1549.4 870.1L1549.8 871.3L1550.8 873.9L1550.8 874L1551.2 876.4L1551.6 878L1551.8 879.3L1552.8 884.6L1553.1 886.3L1553.8 889.7L1553.9 890.3L1554.7 894.2L1554.8 894.7L1555.5 898.1L1555.8 898L1556.2 897.8L1556.8 897.6L1557.8 897.3L1557.8 897.3L1558.8 897L1559.4 896.8L1559.8 896.6L1560 896.5L1560 991.8L1559.8 991.9L1559.4 992L1558.8 992.1L1557.8 992.3L1557.8 992.3L1556.8 992.2L1556.2 992.1L1555.8 992L1555.5 992L1554.8 991.9L1554.7 991.8L1553.9 991.3L1553.8 991.2L1553.1 990.7L1552.8 990.4L1551.8 989.7L1551.6 989.5L1551.2 989.7L1550.8 990.1L1550.8 990.1L1549.8 990.8L1549.4 991.1L1549.2 991.3L1548.8 991.6L1548.4 991.8L1547.8 992.8L1547.7 993L1547.5 993.2L1546.8 994.3L1546.1 995.4L1545.8 995.8L1545.3 996.5L1545 996.9L1544.8 997.1L1543.8 998.3L1543.8 998.3L1543 999.2L1542.8 999.4L1542.2 1000.1L1541.8 1000.2L1541.4 1000.2L1540.8 1000.3L1540.6 1000.3L1539.8 1000.4L1539.1 1000.4L1538.8 1000.5L1538.3 1000.6L1537.8 1000.8L1537.5 1000.8L1536.8 1001L1536.7 1001L1535.9 1001.2L1535.8 1000.3L1535.2 995.9L1534.8 993.4L1534.7 992.6L1534.4 991.7L1533.8 990L1533.6 989.3L1533.1 988L1532.8 989.5L1532.8 989.6L1531.8 994.6L1531.6 995.7L1531.2 995.5L1530.8 995.1L1530.5 994.8L1529.8 994.3L1529.7 994.2L1528.8 984.2L1528.4 980.2L1528.1 978.1L1527.8 976L1527.3 973.2L1526.8 982.4L1526.2 991.8L1525.8 991.7L1525.8 991.7L1524.8 991.3L1523.8 990.9L1523.4 990.8L1522.8 990.7L1522.7 990.7L1521.8 990.6L1520.8 990.4L1520.3 990.4L1519.8 990.3L1519.5 990.3L1518.8 990.7L1518 991.2L1517.8 991.3L1516.8 991.9L1515.9 992.4L1515.8 992.5L1515.6 992.6L1514.8 993.2L1514.1 993.8L1513.8 994L1513.3 994.4L1512.8 994.7L1512.5 995L1511.8 995.5L1511.7 995.6L1510.9 996.1L1510.8 996.2L1509.8 997L1509.4 997.3L1508.8 996.7L1508.6 996.5L1507.8 995.8L1507.8 995.8L1506.8 996.1L1506.2 996.2L1505.8 996.4L1505.5 996.5L1504.8 996.7L1503.9 997L1503.8 997.1L1503.1 997.4L1502.8 997.5L1501.8 998L1501.6 998.1L1500.8 998.5L1500 998.9L1499.8 999L1499.2 999.5L1498.8 999.8L1497.8 1000.6L1497.7 1000.7L1496.9 1001.4L1496.8 1001.4L1496.1 1002L1495.8 1002.1L1495.3 1002.3L1494.8 1002.5L1494.5 1002.6L1493.8 1002.9L1493.4 1003.1L1492.8 1003.3L1492.2 1003.6L1491.8 1003.7L1491.4 1003.8L1490.8 1004L1489.8 1004.3L1489.8 1004.3L1489.1 1004.6L1488.8 1004.6L1488.3 1004.8L1487.8 1004.5L1487.5 1004.2L1486.8 1003.7L1485.8 1003L1484.8 1002.3L1484.4 1002L1483.8 1001.3L1483.6 1001.1L1482.8 1000.1L1482.8 1000.1L1482 999.2L1481.8 998.9L1480.8 997.7L1480.5 997.3L1479.8 996.1L1479.7 995.9L1479.4 995.4L1478.9 994.6L1478.8 994.4L1478.1 993.2L1477.8 992.6L1477.3 991.8L1476.8 991.6L1476.6 991.5L1476.2 991.3L1475.8 991.1L1475.8 991.1L1474.8 990.6L1474.2 990.3L1473.8 989.8L1473.4 989.3L1472.8 988.5L1472.7 988.3L1471.8 987.3L1471.1 986.4L1470.8 986.1L1470 985.3L1469.8 985.1L1469.1 984.3L1468.8 984.1L1468.8 984L1468 983.3L1467.8 983.5L1467.2 984.5L1466.8 985.2L1466.4 985.8L1465.8 986.9L1465.6 987.2L1464.8 987L1464.8 987L1464.1 986.8L1463.8 986.7L1463.8 986.7L1462.8 986.5L1462.5 986.4L1461.8 986L1461.7 986L1461.2 985.8L1460.8 985.5L1459.8 985L1459.4 984.8L1458.8 983.1L1458.8 983L1457.8 980.2L1457.5 979.3L1457 980.8L1456.9 981.3L1456.8 981.5L1456.2 983.2L1455.8 983.6L1455 984.1L1454.8 984.2L1454.4 984.5L1453.9 984.8L1453.8 985L1453.1 985.9L1452.8 986.3L1452.3 986.9L1451.8 987.6L1451.6 988L1451.2 990L1450.9 992.1L1450.8 993L1450.3 996.3L1449.8 999.7L1449.7 1000.4L1448.8 1002.5L1447.8 1004.8L1447.7 1005.1L1446.8 1006L1446.1 1006.7L1445.8 1007L1445.6 1007.2L1445.3 1007.5L1444.8 1007.6L1443.8 1007.8L1443.8 1007.9L1443 1008.1L1442.8 1008.1L1442.2 1008.2L1441.8 1008.3L1441.4 1008.4L1440.8 1008.6L1440.6 1008.6L1439.8 1008.8L1439.8 1008.8L1439.1 1009L1438.8 1008.8L1438.3 1008.2L1437.8 1007.8L1437.5 1007.5L1436.8 1006.8L1436.7 1006.7L1435.9 1005.9L1435.8 1005.5L1434.8 1002.5L1434.4 1001.2L1433.8 999.5L1433.6 998.9L1432.8 996.2L1432 993.7L1431.8 992.9L1431.2 991.1L1430.8 990.4L1429.8 988.9L1429.7 988.7L1428.8 987.4L1428.1 986.4L1427.8 985.9L1427.3 985.2L1426.8 984.4L1425.8 982.9L1425.3 982.2L1425 981.7L1424.8 981.6L1423.8 980.9L1423.4 980.6L1423.1 980.4L1422.8 980.2L1422.7 980.1L1421.8 980.8L1421.6 980.9L1421.1 981.3L1420.8 981.5L1419.8 982.3L1419.5 982.5L1418.8 982.7L1418.8 982.7L1417.8 983L1417.2 983.2L1416.9 982.4L1416.8 982.2L1415.8 979.5L1415.3 978.2L1414.8 977L1414.8 976.9L1413.8 973.9L1413.8 973.7L1413.3 972.3L1412.8 970.9L1412.5 970L1411.8 970.7L1411.7 970.7L1410.9 971.5L1410.8 971.7L1409.8 972.7L1409.4 973.1L1408.8 972.9L1407.8 972.6L1407.5 972.5L1407 972.3L1406.8 974L1405.9 980.5L1405.8 981.5L1405.5 984L1404.8 982L1404.7 981.7L1403.8 979L1403.1 977L1402.8 975.7L1401.8 971.7L1401.6 970.8L1400.8 973.3L1400.8 973.4L1399.8 976.6L1399.7 977L1398.8 980.4L1397.8 984.3L1397.7 984.8L1396.8 988.2L1396.1 991.1L1395.8 991.4L1395.6 991.6L1394.8 992.6L1393.8 993.8L1393.8 993.9L1392.8 993L1391.9 992.2L1391.8 992.1L1390.8 991.2L1390.6 991.1L1390.3 990.7L1389.8 990.2L1388.8 989.2L1388.3 988.7L1387.8 988.2L1387.5 987.9L1386.8 986.5L1386.2 985.4L1385.8 984.5L1385.6 984.2L1385.2 983.3L1384.8 979L1384.4 973.9L1383.8 967L1383.6 964.5L1382.8 959L1382.8 958.9L1382 953.6L1381.8 953.8L1381.2 954.3L1380.8 954.8L1380.5 955.1L1379.8 955.8L1379.4 956.2L1378.8 956.8L1378.1 957.5L1377.8 957.1L1376.8 956.1L1375.8 955.1L1375.8 955.1L1374.8 954.1L1374.2 953.6L1373.8 948.2L1373.4 943.6L1373.1 939.5L1372.8 941.9L1371.9 948.8L1371.8 950.6L1371.2 963.5L1370.9 970.7L1370.8 972.9L1369.8 988.4L1369.7 990.1L1369.4 994.9L1368.8 993.4L1367.8 990.7L1367.3 989.5L1366.8 988.6L1365.8 986.9L1365 985.6L1364.8 985.1L1363.8 982.8L1362.8 980.5L1362.7 980.1L1361.8 978.4L1360.8 976.4L1360.3 975.4L1360 975.8L1359.8 976L1358.8 977L1358 977.8L1357.8 978.1L1357.2 979.1L1356.8 979.7L1355.8 981.4L1355.6 981.7L1354.8 982.7L1354.8 982.7L1353.8 984L1353.3 984.6L1352.8 985.2L1352.5 985.6L1351.8 986.1L1351.2 986.4L1350.8 986.8L1350.2 987.2L1349.8 987.4L1349.4 987.7L1349.1 987.9L1348.8 987.9L1347.8 987.9L1347.8 987.9L1347 987.9L1346.8 987.9L1345.8 987.9L1345.5 987.9L1344.8 985.7L1344.7 985.3L1343.8 982.4L1343.1 980.1L1342.8 978.6L1342.3 976.5L1341.8 973.9L1340.8 969.3L1340.8 969.2L1340 964.5L1339.8 963.3L1339.2 959.8L1338.8 960.8L1337.8 963.2L1337.7 963.5L1336.8 965.5L1336.6 966.1L1335.8 965.2L1335.3 964.6L1334.8 964L1334.5 963.7L1333.8 963.7L1333.8 963.7L1333 963.7L1332.8 963.7L1332.2 963.7L1331.8 967.4L1331.4 971.1L1330.8 976.9L1330.6 978.6L1329.8 981.7L1329.1 984.4L1328.8 985.4L1328.8 985.6L1327.8 983.2L1327.2 981.7L1326.8 981.1L1325.8 979.6L1325.2 978.6L1324.8 979.8L1323.8 983.3L1323.1 985.6L1322.8 984.8L1322.8 984.8L1321.8 982.3L1320.9 980.1L1320.8 979.9L1320.5 979.2L1319.8 977.9L1318.9 976.2L1318.8 976.4L1318.1 977.4L1317.8 977.9L1317.3 978.6L1316.8 981.3L1316.2 984L1315.8 986.3L1315.3 988.7L1314.8 983.8L1314.2 978.2Z" fill="#f6821f"/>
<path d="M912.8 1014L913.4 1014.4L913.8 1010.8L913.8 1010.3L914.1 1007.3L914.8 1000.1L915 998.1L915.3 998.6L915.8 999.3L916.2 1000L916.6 1000.9L916.8 1001.4L917.5 1003.1L917.8 1000L918.4 993.8L918.8 991.3L919.4 987.5L919.8 988.6L920 989.2L920.3 990L920.8 1005.1L920.9 1008.1L921.8 1009.2L922.5 1010L922.8 1010.1L923.4 1010.5L923.8 1010.6L924.8 1011.1L925 1011.2L925.8 1011.8L926.2 1012.1L926.8 1012.5L927.2 1012.8L927.8 1012.5L928.1 700L928.8 630L929.7 540L929.8 518.3L930.6 345L930.8 343.3L931.6 336.7L931.8 337.7L932.8 343L933.3 345.6L933.8 371.7L934.8 423.9L935.6 465.6L935.8 502.8L936.7 670L936.8 723.5L937.1 884L937.5 948.9L937.8 949.8L938.8 952.8L939.1 953.6L939.8 952.6L939.8 952.5L940.6 951.5L940.8 951.2L941.4 950.4L941.8 951.5L942.8 954.2L943.4 955.9L943.8 956.7L943.8 956.9L944.8 960.7L945 961.5L945.3 962.7L945.8 964.5L945.8 964.4L946.8 958.6L947.3 955.4L947.7 953.6L947.8 955.3L948.8 967.6L949.2 972.8L949.7 978.5L949.8 977.7L950.8 970.2L951.6 964.5L951.8 949.7L952.5 905.9L952.8 887.2L952.8 886.5L953.6 855.3L953.8 846.9L953.9 842.8L954.7 888.1L954.8 894.5L955.5 933.2L955.8 933.2L955.8 932.2L956.8 906.6L957 902L957.3 908.2L957.8 917.4L958.6 933.2L958.8 946.8L959.7 1005.1L959.8 1003.8L960.8 991.5L960.9 989.8L961.7 980.3L961.8 979.3L962.5 970.8L962.8 972.4L963.8 978L964.1 979.4L964.8 983.5L965.3 986.4L965.8 975.4L965.9 972.3L966.8 966.1L967.5 961.1L967.8 959L968.8 951.8L969.2 948.8L969.5 946.5L969.8 945.7L970.8 942.7L971.8 939.7L971.9 939.5L972.8 936.7L973.8 933.7L974.7 931.1L974.8 930.7L975 930.1L975.3 931.4L975.8 933.2L975.8 933.3L976.6 936.4L976.8 937.3L977.3 939.5L977.8 944.1L978.1 947.3L978.8 954.1L979.8 964.1L980 966.1L980.8 966.5L980.9 966.5L981.6 966.8L981.8 965.7L982.8 960.7L982.8 960.6L983.8 955.7L984.8 950.7L985.2 948.7L985.6 929L985.8 921.3L986.2 902L986.6 890.4L986.8 881.4L987.5 855.1L987.8 873.9L988.4 913.9L988.8 933.2L988.8 935.7L989.1 948.3L989.5 971.1L989.8 984.2L989.8 986.2L990.8 987.3L991.8 988.3L992.2 988.7L992.8 986.5L993.8 982.8L994.5 980.1L994.8 977.4L995.6 969.2L995.8 967.4L996.1 964.5L996.8 976.2L997.2 982.6L997.8 992.7L998.1 998L998.4 994.8L998.8 991.1L999.8 980.6L1000 978.6L1000.8 971.8L1000.8 971.6L1001.6 965L1001.8 963L1002.3 958.3L1002.8 950.3L1003.8 933L1003.9 931.1L1004.7 917.6L1004.8 917.2L1005.8 913.2L1006.2 911.4L1006.8 918L1007.3 924.5L1007.8 930L1007.8 930.1L1008.8 931.4L1009.4 932.2L1009.8 932.8L1010.2 933.3L1010.6 937.3L1010.8 938.8L1011.8 947.5L1012.5 953.6L1012.8 957.2L1013.8 969.2L1014.1 972.3L1014.8 961.3L1015.3 953.6L1015.6 948.9L1015.8 952L1016.4 963L1016.8 970L1017.2 977L1017.8 981.7L1018.8 989L1018.8 989.4L1019.5 995L1019.8 984.4L1020.6 952L1020.8 944.9L1021.1 933.4L1021.8 926.2L1021.9 925.4L1022.7 917.7L1022.8 921.8L1023.8 950.8L1024.2 962.9L1024.8 963.3L1025.8 964L1026.6 964.5L1026.8 967.6L1027.8 980.7L1027.8 980.9L1028.1 978.2L1028.8 972.3L1029.7 964.5L1029.8 964.4L1030.5 963.9L1030.8 963.6L1031.2 963.3L1031.7 962.8L1031.8 957.3L1032 941.2L1032.8 887.3L1032.8 886.6L1033.1 884.8L1033.6 882.5L1033.8 881.4L1034.4 878.6L1034.8 878.7L1035.8 879.2L1035.9 879.2L1036.2 879.3L1036.8 879.6L1037.8 880.1L1037.8 880.1L1038.6 799.3L1038.8 729.4L1039.1 641.9L1039.8 637.1L1039.8 636.9L1040.8 640L1041.8 643.4L1041.9 643.7L1042.8 646.7L1043.4 648.9L1043.8 650.1L1044.8 653.4L1045.3 655.1L1045.8 703.9L1046.6 779.9L1046.8 794.4L1047.3 826.8L1047.8 796.6L1047.8 795.9L1048.8 733.2L1048.8 729.2L1049.5 669.3L1049.8 687.6L1050.5 733.3L1050.8 753.1L1051.2 780.1L1051.6 863.8L1051.8 868.8L1051.9 870.2L1052.8 886.8L1053.1 892.5L1053.4 900.8L1053.8 910.2L1054.7 933.3L1054.8 936.8L1055.8 968L1055.9 972.2L1056.8 942.1L1057 934.1L1057.5 917.6L1057.8 919.1L1057.8 919.2L1058.1 920.7L1058.8 924.1L1059.1 925.4L1059.4 926.8L1059.8 928.5L1060.8 932.7L1060.9 933.2L1061.7 923.9L1061.8 922.9L1062.2 918.2L1062.5 914.5L1062.8 909.1L1063.3 900.5L1063.8 891.1L1064.1 886.4L1064.8 904.8L1065.2 913.8L1065.6 925.3L1065.8 932.5L1066.4 957.3L1066.8 973.2L1066.9 976.1L1067.2 975.4L1067.8 965L1068 962.1L1068.8 948.9L1068.8 948.4L1069.8 938.4L1070.8 928.4L1071.1 925.5L1071.8 916.5L1071.9 915.5L1072.8 903.8L1073.4 895.7L1073.8 890.7L1074.2 884.8L1074.8 876.7L1075 873.9L1075.8 872.3L1076.2 871.4L1076.6 870.8L1076.8 872.3L1077.8 879L1078.1 881.1L1078.8 885.7L1078.9 886.4L1079.7 895.7L1079.8 894.8L1080.8 886.4L1080.8 882L1081.2 780.1L1081.7 639.5L1081.8 639.1L1082.5 635.4L1082.8 633.8L1082.8 633.7L1083.8 633.7L1084.1 633.7L1084.8 633.7L1085.8 633.7L1086.4 633.7L1086.8 633.7L1087.8 633.7L1088.3 633.7L1088.8 658.7L1089.4 686.8L1089.8 718.2L1090.6 779.7L1090.8 803.9L1091.4 886.5L1091.8 902.7L1091.9 906L1092.5 931.7L1092.8 929.6L1093.8 923L1093.8 922.7L1094.5 917.6L1094.8 925.3L1095.8 953.7L1096.1 962L1096.6 975.4L1096.8 966.7L1097.7 934.8L1097.8 929.7L1098.1 917.8L1098.4 854.6L1098.8 808.2L1098.8 804.1L1099.4 761.4L1099.7 761.4L1099.8 761.4L1100.8 761.4L1100.8 761.4L1101.6 761.4L1101.8 761.4L1102.2 767.8L1102.3 776.8L1102.8 790.7L1103 795.8L1103.1 858.2L1103.4 995.8L1103.8 997.2L1104.2 998.7L1104.7 916.1L1104.8 916.2L1105.6 917.4L1105.8 917.6L1105.8 920.2L1106.2 980.9L1106.4 1002L1106.6 1002.7L1106.8 1003.7L1107 1004.7L1107.8 1008L1107.8 1008L1108.6 1011.4L1108.8 1010L1109.4 1006.1L1109.8 1003.3L1110.2 1000.9L1110.8 996.7L1110.9 995.8L1111.7 997.3L1111.8 997.5L1112.5 998.9L1112.8 998.6L1113.3 998.1L1113.8 997.6L1114.1 997.3L1114.8 996.7L1114.8 996.7L1115.8 995.9L1115.9 995.7L1116.4 981.2L1116.8 969.2L1116.9 966.7L1117.5 947.7L1117.8 938.4L1118 933.2L1118.8 924.2L1118.8 923.7L1119.5 915.2L1119.8 912.1L1120 909.8L1120.3 909.8L1120.8 909.8L1121.6 909.8L1121.8 909.8L1121.9 909.8L1122.2 908.3L1122.8 905.5L1123.8 900.8L1124.2 898.9L1124.8 898.5L1125.8 897.8L1126.6 897.3L1126.8 898L1127.8 901L1128.1 902L1128.8 899.8L1128.9 899.4L1129.8 896.4L1130 895.8L1130.5 902.3L1130.8 906.9L1131.2 913.2L1131.6 917.6L1131.8 920L1132 922.3L1132.3 925.4L1132.5 927L1132.8 925L1132.8 924.9L1133.8 918.3L1134.1 916.6L1134.4 914.5L1134.8 914.1L1135.2 913.7L1135.6 913.3L1135.8 913.1L1135.9 913L1136.7 923.1L1136.8 924.1L1137.5 933.2L1137.8 934.8L1137.8 934.9L1138.3 937.4L1138.8 940.1L1139.8 945.4L1140.3 948.1L1140.6 946.4L1140.8 945.4L1141.8 939.8L1142.8 934.2L1143 933.2L1143.8 929.3L1143.8 929.1L1144.5 925.4L1144.8 927.3L1145.8 934.2L1146.1 936.2L1146.6 939.5L1146.8 940.3L1146.9 940.6L1147.8 943.6L1148.4 945.7L1148.8 945.2L1148.8 945.1L1149.8 943.5L1150.8 941.8L1150.8 941.8L1151.6 941.5L1151.8 941.3L1152.3 941.1L1152.8 939.2L1153.1 938L1153.8 935.2L1154.7 931.7L1154.8 931.5L1155.5 930.5L1155.8 930L1156.8 928.5L1157.8 927L1157.8 927L1158.6 925.8L1158.8 925.5L1159.8 924L1160.8 922.5L1160.9 922.3L1161.8 922.5L1162.5 922.7L1162.8 922.8L1162.8 922.8L1163.8 923L1164.1 923.1L1164.4 918.8L1164.8 913.1L1165.2 908.3L1165.6 902.1L1165.8 901.3L1166.1 900.3L1166.8 897.6L1166.9 897.3L1167.2 896.1L1167.8 893.8L1168.1 892.6L1168.4 898.1L1168.8 904.3L1169.2 911.6L1169.7 919.8L1169.8 921.7L1170.3 930.5L1170.5 933.3L1170.8 934.6L1171.6 937.6L1171.8 938.6L1172 939.5L1172.3 938.4L1172.7 937.3L1172.8 936.8L1173.8 933.4L1173.9 933L1174.1 932.5L1174.8 933.1L1175.5 933.6L1175.8 933.9L1175.9 934L1176.8 934.3L1177 934.4L1177.8 934.7L1178.3 934.8L1178.6 936.3L1178.8 937.2L1179.8 941.9L1180.2 943.6L1180.6 945.7L1180.8 945.9L1181.8 946.5L1182.2 946.8L1182.8 947.2L1183 947.3L1183.8 951L1183.8 951.2L1184.1 952.4L1184.8 955.9L1185.3 958.2L1185.8 958.5L1186.4 958.9L1186.8 959.1L1187.8 959.6L1188.1 959.8L1188.3 953.8L1188.4 947.7L1188.8 933.8L1189.2 917.6L1189.8 906L1190 902L1190.3 895.8L1190.8 886.4L1190.8 886.3L1191.8 882.5L1192.2 881L1192.3 880.4L1192.8 878.6L1192.8 878.6L1193.8 882.5L1193.8 882.7L1193.9 883.1L1194.7 886.5L1194.8 892L1195.5 925.5L1195.8 942L1196.2 964.5L1196.8 966.7L1197 967.6L1197.8 970.7L1198.6 973.9L1198.8 974.4L1199.1 975.1L1199.8 977.1L1200.8 979.7L1201.2 980.9L1201.8 980.7L1202.8 980.3L1203.3 980.1L1203.8 980.5L1204.8 981.1L1205.3 981.5L1205.6 981.7L1205.8 981.9L1206.8 982.9L1206.9 982.9L1207.8 983.9L1208.4 984.5L1208.8 984.8L1208.8 984.9L1209.8 986.1L1210.3 986.7L1210.8 987.3L1211.8 988.5L1212.7 989.4L1212.8 987.1L1213.8 970.1L1214.7 955.1L1214.8 954.6L1215.8 949.6L1216.6 945.8L1216.8 944.5L1217.8 939.2L1218.1 937.4L1218.8 933.8L1218.9 933.2L1219.8 927.4L1220.5 923.1L1220.8 924L1221.8 926.6L1222.5 928.5L1222.8 929.3L1222.8 929.3L1223.8 929.3L1224.8 929.3L1225.2 929.3L1225.8 929.2L1226.8 928.9L1227.2 928.8L1227.8 928.7L1228.3 928.6L1228.8 915.6L1229.1 909.1L1229.8 890.6L1229.8 889.6L1230.8 888.2L1230.9 888L1231.8 886.9L1232.2 886.4L1232.8 884.7L1233.8 882.2L1233.8 882.1L1234.5 880.1L1234.8 878.1L1235.8 870.4L1236.6 864.5L1236.8 862.7L1237.8 855.2L1238.4 850.5L1238.8 853.6L1239.8 862.2L1240.8 870.7L1240.8 871L1241.8 887L1242.8 903L1243.1 908.2L1243.8 922.2L1244.8 942.9L1245.5 956.7L1245.8 960.3L1246.8 971L1247.5 978.6L1247.8 979.9L1248.8 984.3L1249.4 986.9L1249.8 988.7L1250.2 990.3L1250.8 986.1L1250.9 985.2L1251.7 980.1L1251.8 978.6L1252.8 959.3L1253.3 950.1L1253.8 941.1L1253.8 940.2L1254.8 923.6L1255.6 909.9L1255.8 907.9L1256.8 897.1L1257.5 889.5L1257.8 888.1L1258.8 883.5L1259.1 882.3L1259.5 880.1L1259.8 881.2L1260.6 884.5L1260.8 885.2L1261.1 886.4L1261.8 896.3L1261.9 897.4L1262.7 908.3L1262.8 908.8L1263.8 912.8L1264.2 914.5L1264.8 916.8L1265 917.6L1265.8 920.3L1266.6 922.8L1266.8 923.6L1267.3 925.4L1267.8 926.7L1268.8 929.3L1268.9 929.6L1269.7 931.7L1269.8 932.4L1270.8 938.4L1271.2 941.1L1271.8 944.4L1272 945.7L1272.8 949.8L1273.6 954.1L1273.8 955.2L1274.4 958.3L1274.8 959.4L1275.8 962L1275.9 962.4L1276.7 964.5L1276.8 964.8L1277.8 968.8L1278.3 970.7L1278.8 972.8L1279.1 973.9L1279.8 974.8L1280.6 975.8L1280.8 976L1280.9 976.2L1281.8 973.6L1282.5 971.5L1282.8 973L1283.8 978L1284.5 981.7L1284.8 982.2L1285.8 984.2L1286.8 986.2L1286.9 986.4L1287.8 988.2L1288.8 990.2L1288.9 990.4L1289.2 991.1L1289.8 991.6L1290.8 992.6L1291.2 993.1L1291.6 993.4L1291.8 993.5L1292.8 993.8L1293.8 994.2L1293.9 994.2L1294.8 996.5L1295 997L1295.8 995.3L1296.8 993.1L1297 992.6L1297.8 987.9L1298.8 981.7L1299.1 980.1L1299.4 978.5L1299.8 976.4L1300.8 971.4L1300.9 970.7L1301.2 970.1L1301.8 969L1302.8 967L1303.3 966.1L1303.8 964.7L1304.8 962L1305.6 959.8L1305.8 959.2L1306.8 955.9L1307.8 952.6L1308 952L1308.8 949.5L1309.8 946.5L1310.3 945L1310.8 946.2L1311.8 948.7L1311.9 948.9L1312.8 961.8L1313.4 970.8L1313.8 974.2L1314.2 978.2L1314.8 983.8L1315.3 988.7L1315.8 986.3L1316.2 984L1316.8 981.3L1317.3 978.6L1317.8 977.9L1318.1 977.4L1318.8 976.4L1318.9 976.2L1319.8 977.9L1320.5 979.2L1320.8 979.9L1320.9 980.1L1321.8 982.3L1322.8 984.8L1322.8 984.8L1323.1 985.6L1323.8 983.3L1324.8 979.8L1325.2 978.6L1325.8 979.6L1326.8 981.1L1327.2 981.7L1327.8 983.2L1328.8 985.6L1328.8 985.4L1329.1 984.4L1329.8 981.7L1330.6 978.6L1330.8 976.9L1331.4 971.1L1331.8 967.4L1332.2 963.7L1332.8 963.7L1333 963.7L1333.8 963.7L1333.8 963.7L1334.5 963.7L1334.8 964L1335.3 964.6L1335.8 965.2L1336.6 966.1L1336.8 965.5L1337.7 963.5L1337.8 963.2L1338.8 960.8L1339.2 959.8L1339.8 963.3L1340 964.5L1340.8 969.2L1340.8 969.3L1341.8 973.9L1342.3 976.5L1342.8 978.6L1343.1 980.1L1343.8 982.4L1344.7 985.3L1344.8 985.7L1345.5 987.9L1345.8 987.9L1346.8 987.9L1347 987.9L1347.8 987.9L1347.8 987.9L1348.8 987.9L1349.1 987.9L1349.4 987.7L1349.8 987.4L1350.2 987.2L1350.8 986.8L1351.2 986.4L1351.8 986.1L1352.5 985.6L1352.8 985.2L1353.3 984.6L1353.8 984L1354.8 982.7L1354.8 982.7L1355.6 981.7L1355.8 981.4L1356.8 979.7L1357.2 979.1L1357.8 978.1L1358 977.8L1358.8 977L1359.8 976L1360 975.8L1360.3 975.4L1360.8 976.4L1361.8 978.4L1362.7 980.1L1362.8 980.5L1363.8 982.8L1364.8 985.1L1365 985.6L1365.8 986.9L1366.8 988.6L1367.3 989.5L1367.8 990.7L1368.8 993.4L1369.4 994.9L1369.7 990.1L1369.8 988.4L1370.8 972.9L1370.9 970.7L1371.2 963.5L1371.8 950.6L1371.9 948.8L1372.8 941.9L1373.1 939.5L1373.4 943.6L1373.8 948.2L1374.2 953.6L1374.8 954.1L1375.8 955.1L1375.8 955.1L1376.8 956.1L1377.8 957.1L1378.1 957.5L1378.8 956.8L1379.4 956.2L1379.8 955.8L1380.5 955.1L1380.8 954.8L1381.2 954.3L1381.8 953.8L1382 953.6L1382.8 958.9L1382.8 959L1383.6 964.5L1383.8 967L1384.4 973.9L1384.8 979L1385.2 983.3L1385.6 984.2L1385.8 984.5L1386.2 985.4L1386.8 986.5L1387.5 987.9L1387.8 988.2L1388.3 988.7L1388.8 989.2L1389.8 990.2L1390.3 990.7L1390.6 991.1L1390.8 991.2L1391.8 992.1L1391.9 992.2L1392.8 993L1393.8 993.9L1393.8 993.8L1394.8 992.6L1395.6 991.6L1395.8 991.4L1396.1 991.1L1396.8 988.2L1397.7 984.8L1397.8 984.3L1398.8 980.4L1399.7 977L1399.8 976.6L1400.8 973.4L1400.8 973.3L1401.6 970.8L1401.8 971.7L1402.8 975.7L1403.1 977L1403.8 979L1404.7 981.7L1404.8 982L1405.5 984L1405.8 981.5L1405.9 980.5L1406.8 974L1407 972.3L1407.5 972.5L1407.8 972.6L1408.8 972.9L1409.4 973.1L1409.8 972.7L1410.8 971.7L1410.9 971.5L1411.7 970.7L1411.8 970.7L1412.5 970L1412.8 970.9L1413.3 972.3L1413.8 973.7L1413.8 973.9L1414.8 976.9L1414.8 977L1415.3 978.2L1415.8 979.5L1416.8 982.2L1416.9 982.4L1417.2 983.2L1417.8 983L1418.8 982.7L1418.8 982.7L1419.5 982.5L1419.8 982.3L1420.8 981.5L1421.1 981.3L1421.6 980.9L1421.8 980.8L1422.7 980.1L1422.8 980.2L1423.1 980.4L1423.4 980.6L1423.8 980.9L1424.8 981.6L1425 981.7L1425.3 982.2L1425.8 982.9L1426.8 984.4L1427.3 985.2L1427.8 985.9L1428.1 986.4L1428.8 987.4L1429.7 988.7L1429.8 988.9L1430.8 990.4L1431.2 991.1L1431.8 992.9L1432 993.7L1432.8 996.2L1433.6 998.9L1433.8 999.5L1434.4 1001.2L1434.8 1002.5L1435.8 1005.5L1435.9 1005.9L1436.7 1006.7L1436.8 1006.8L1437.5 1007.5L1437.8 1007.8L1438.3 1008.2L1438.8 1008.8L1439.1 1009L1439.8 1008.8L1439.8 1008.8L1440.6 1008.6L1440.8 1008.6L1441.4 1008.4L1441.8 1008.3L1442.2 1008.2L1442.8 1008.1L1443 1008.1L1443.8 1007.9L1443.8 1007.8L1444.8 1007.6L1445.3 1007.5L1445.6 1007.2L1445.8 1007L1446.1 1006.7L1446.8 1006L1447.7 1005.1L1447.8 1004.8L1448.8 1002.5L1449.7 1000.4L1449.8 999.7L1450.3 996.3L1450.8 993L1450.9 992.1L1451.2 990L1451.6 988L1451.8 987.6L1452.3 986.9L1452.8 986.3L1453.1 985.9L1453.8 985L1453.9 984.8L1454.4 984.5L1454.8 984.2L1455 984.1L1455.8 983.6L1456.2 983.2L1456.8 981.5L1456.9 981.3L1457 980.8L1457.5 979.3L1457.8 980.2L1458.8 983L1458.8 983.1L1459.4 984.8L1459.8 985L1460.8 985.5L1461.2 985.8L1461.7 986L1461.8 986L1462.5 986.4L1462.8 986.5L1463.8 986.7L1463.8 986.7L1464.1 986.8L1464.8 987L1464.8 987L1465.6 987.2L1465.8 986.9L1466.4 985.8L1466.8 985.2L1467.2 984.5L1467.8 983.5L1468 983.3L1468.8 984L1468.8 984.1L1469.1 984.3L1469.8 985.1L1470 985.3L1470.8 986.1L1471.1 986.4L1471.8 987.3L1472.7 988.3L1472.8 988.5L1473.4 989.3L1473.8 989.8L1474.2 990.3L1474.8 990.6L1475.8 991.1L1475.8 991.1L1476.2 991.3L1476.6 991.5L1476.8 991.6L1477.3 991.8L1477.8 992.6L1478.1 993.2L1478.8 994.4L1478.9 994.6L1479.4 995.4L1479.7 995.9L1479.8 996.1L1480.5 997.3L1480.8 997.7L1481.8 998.9L1482 999.2L1482.8 1000.1L1482.8 1000.1L1483.6 1001.1L1483.8 1001.3L1484.4 1002L1484.8 1002.3L1485.8 1003L1486.8 1003.7L1487.5 1004.2L1487.8 1004.5L1488.3 1004.8L1488.8 1004.6L1489.1 1004.6L1489.8 1004.3L1489.8 1004.3L1490.8 1004L1491.4 1003.8L1491.8 1003.7L1492.2 1003.6L1492.8 1003.3L1493.4 1003.1L1493.8 1002.9L1494.5 1002.6L1494.8 1002.5L1495.3 1002.3L1495.8 1002.1L1496.1 1002L1496.8 1001.4L1496.9 1001.4L1497.7 1000.7L1497.8 1000.6L1498.8 999.8L1499.2 999.5L1499.8 999L1500 998.9L1500.8 998.5L1501.6 998.1L1501.8 998L1502.8 997.5L1503.1 997.4L1503.8 997.1L1503.9 997L1504.8 996.7L1505.5 996.5L1505.8 996.4L1506.2 996.2L1506.8 996.1L1507.8 995.8L1507.8 995.8L1508.6 996.5L1508.8 996.7L1509.4 997.3L1509.8 997L1510.8 996.2L1510.9 996.1L1511.7 995.6L1511.8 995.5L1512.5 995L1512.8 994.7L1513.3 994.4L1513.8 994L1514.1 993.8L1514.8 993.2L1515.6 992.6L1515.8 992.5L1515.9 992.4L1516.8 991.9L1517.8 991.3L1518 991.2L1518.8 990.7L1519.5 990.3L1519.8 990.3L1520.3 990.4L1520.8 990.4L1521.8 990.6L1522.7 990.7L1522.8 990.7L1523.4 990.8L1523.8 990.9L1524.8 991.3L1525.8 991.7L1525.8 991.7L1526.2 991.8L1526.8 982.4L1527.3 973.2L1527.8 976L1528.1 978.1L1528.4 980.2L1528.8 984.2L1529.7 994.2L1529.8 994.3L1530.5 994.8L1530.8 995.1L1531.2 995.5L1531.6 995.7L1531.8 994.6L1532.8 989.6L1532.8 989.5L1533.1 988L1533.6 989.3L1533.8 990L1534.4 991.7L1534.7 992.6L1534.8 993.4L1535.2 995.9L1535.8 1000.3L1535.9 1001.2L1536.7 1001L1536.8 1001L1537.5 1000.8L1537.8 1000.8L1538.3 1000.6L1538.8 1000.5L1539.1 1000.4L1539.8 1000.4L1540.6 1000.3L1540.8 1000.3L1541.4 1000.2L1541.8 1000.2L1542.2 1000.1L1542.8 999.4L1543 999.2L1543.8 998.3L1543.8 998.3L1544.8 997.1L1545 996.9L1545.3 996.5L1545.8 995.8L1546.1 995.4L1546.8 994.3L1547.5 993.2L1547.7 993L1547.8 992.8L1548.4 991.8L1548.8 991.6L1549.2 991.3L1549.4 991.1L1549.8 990.8L1550.8 990.1L1550.8 990.1L1551.2 989.7L1551.6 989.5L1551.8 989.7L1552.8 990.4L1553.1 990.7L1553.8 991.2L1553.9 991.3L1554.7 991.8L1554.8 991.9L1555.5 992L1555.8 992L1556.2 992.1L1556.8 992.2L1557.8 992.3L1557.8 992.3L1558.8 992.1L1559.4 992L1559.8 991.9L1560 991.8L1560 1028L1559.8 1028L1559.4 1028L1558.8 1028L1557.8 1028L1557.8 1028L1556.8 1028L1556.2 1028L1555.8 1028L1555.5 1028L1554.8 1028L1554.7 1028L1553.9 1028L1553.8 1028L1553.1 1028L1552.8 1028L1551.8 1028L1551.6 1028L1551.2 1028L1550.8 1028L1550.8 1028L1549.8 1028L1549.4 1028L1549.2 1028L1548.8 1028L1548.4 1028L1547.8 1028L1547.7 1028L1547.5 1028L1546.8 1028L1546.1 1028L1545.8 1028L1545.3 1028L1545 1028L1544.8 1028L1543.8 1028L1543.8 1028L1543 1028L1542.8 1028L1542.2 1028L1541.8 1028L1541.4 1028L1540.8 1028L1540.6 1028L1539.8 1028L1539.1 1028L1538.8 1028L1538.3 1028L1537.8 1028L1537.5 1028L1536.8 1028L1536.7 1028L1535.9 1028L1535.8 1028L1535.2 1028L1534.8 1028L1534.7 1028L1534.4 1028L1533.8 1028L1533.6 1028L1533.1 1028L1532.8 1028L1532.8 1028L1531.8 1028L1531.6 1028L1531.2 1028L1530.8 1028L1530.5 1028L1529.8 1028L1529.7 1028L1528.8 1028L1528.4 1028L1528.1 1028L1527.8 1028L1527.3 1028L1526.8 1028L1526.2 1028L1525.8 1028L1525.8 1028L1524.8 1028L1523.8 1028L1523.4 1028L1522.8 1028L1522.7 1028L1521.8 1028L1520.8 1028L1520.3 1028L1519.8 1028L1519.5 1028L1518.8 1028L1518 1028L1517.8 1028L1516.8 1028L1515.9 1028L1515.8 1028L1515.6 1028L1514.8 1028L1514.1 1028L1513.8 1028L1513.3 1028L1512.8 1028L1512.5 1028L1511.8 1028L1511.7 1028L1510.9 1028L1510.8 1028L1509.8 1028L1509.4 1028L1508.8 1028L1508.6 1028L1507.8 1028L1507.8 1028L1506.8 1028L1506.2 1028L1505.8 1028L1505.5 1028L1504.8 1028L1503.9 1028L1503.8 1028L1503.1 1028L1502.8 1028L1501.8 1028L1501.6 1028L1500.8 1028L1500 1028L1499.8 1028L1499.2 1028L1498.8 1028L1497.8 1028L1497.7 1028L1496.9 1028L1496.8 1028L1496.1 1028L1495.8 1028L1495.3 1028L1494.8 1028L1494.5 1028L1493.8 1028L1493.4 1028L1492.8 1028L1492.2 1028L1491.8 1028L1491.4 1028L1490.8 1028L1489.8 1028L1489.8 1028L1489.1 1028L1488.8 1028L1488.3 1028L1487.8 1028L1487.5 1028L1486.8 1028L1485.8 1028L1484.8 1028L1484.4 1028L1483.8 1028L1483.6 1028L1482.8 1028L1482.8 1028L1482 1028L1481.8 1028L1480.8 1028L1480.5 1028L1479.8 1028L1479.7 1028L1479.4 1028L1478.9 1028L1478.8 1028L1478.1 1028L1477.8 1028L1477.3 1028L1476.8 1028L1476.6 1028L1476.2 1028L1475.8 1028L1475.8 1028L1474.8 1028L1474.2 1028L1473.8 1028L1473.4 1028L1472.8 1028L1472.7 1028L1471.8 1028L1471.1 1028L1470.8 1028L1470 1028L1469.8 1028L1469.1 1028L1468.8 1028L1468.8 1028L1468 1028L1467.8 1028L1467.2 1028L1466.8 1028L1466.4 1028L1465.8 1028L1465.6 1028L1464.8 1028L1464.8 1028L1464.1 1028L1463.8 1028L1463.8 1028L1462.8 1028L1462.5 1028L1461.8 1028L1461.7 1028L1461.2 1028L1460.8 1028L1459.8 1028L1459.4 1028L1458.8 1028L1458.8 1028L1457.8 1028L1457.5 1028L1457 1028L1456.9 1028L1456.8 1028L1456.2 1028L1455.8 1028L1455 1028L1454.8 1028L1454.4 1028L1453.9 1028L1453.8 1028L1453.1 1028L1452.8 1028L1452.3 1028L1451.8 1028L1451.6 1028L1451.2 1028L1450.9 1028L1450.8 1028L1450.3 1028L1449.8 1028L1449.7 1028L1448.8 1028L1447.8 1028L1447.7 1028L1446.8 1028L1446.1 1028L1445.8 1028L1445.6 1028L1445.3 1028L1444.8 1028L1443.8 1028L1443.8 1028L1443 1028L1442.8 1028L1442.2 1028L1441.8 1028L1441.4 1028L1440.8 1028L1440.6 1028L1439.8 1028L1439.8 1028L1439.1 1028L1438.8 1028L1438.3 1028L1437.8 1028L1437.5 1028L1436.8 1028L1436.7 1028L1435.9 1028L1435.8 1028L1434.8 1028L1434.4 1028L1433.8 1028L1433.6 1028L1432.8 1028L1432 1028L1431.8 1028L1431.2 1028L1430.8 1028L1429.8 1028L1429.7 1028L1428.8 1028L1428.1 1028L1427.8 1028L1427.3 1028L1426.8 1028L1425.8 1028L1425.3 1028L1425 1028L1424.8 1028L1423.8 1028L1423.4 1028L1423.1 1028L1422.8 1028L1422.7 1028L1421.8 1028L1421.6 1028L1421.1 1028L1420.8 1028L1419.8 1028L1419.5 1028L1418.8 1028L1418.8 1028L1417.8 1028L1417.2 1028L1416.9 1028L1416.8 1028L1415.8 1028L1415.3 1028L1414.8 1028L1414.8 1028L1413.8 1028L1413.8 1028L1413.3 1028L1412.8 1028L1412.5 1028L1411.8 1028L1411.7 1028L1410.9 1028L1410.8 1028L1409.8 1028L1409.4 1028L1408.8 1028L1407.8 1028L1407.5 1028L1407 1028L1406.8 1028L1405.9 1028L1405.8 1028L1405.5 1028L1404.8 1028L1404.7 1028L1403.8 1028L1403.1 1028L1402.8 1028L1401.8 1028L1401.6 1028L1400.8 1028L1400.8 1028L1399.8 1028L1399.7 1028L1398.8 1028L1397.8 1028L1397.7 1028L1396.8 1028L1396.1 1028L1395.8 1028L1395.6 1028L1394.8 1028L1393.8 1028L1393.8 1028L1392.8 1028L1391.9 1028L1391.8 1028L1390.8 1028L1390.6 1028L1390.3 1028L1389.8 1028L1388.8 1028L1388.3 1028L1387.8 1028L1387.5 1028L1386.8 1028L1386.2 1028L1385.8 1028L1385.6 1028L1385.2 1028L1384.8 1028L1384.4 1028L1383.8 1028L1383.6 1028L1382.8 1028L1382.8 1028L1382 1028L1381.8 1028L1381.2 1028L1380.8 1028L1380.5 1028L1379.8 1028L1379.4 1028L1378.8 1028L1378.1 1028L1377.8 1028L1376.8 1028L1375.8 1028L1375.8 1028L1374.8 1028L1374.2 1028L1373.8 1028L1373.4 1028L1373.1 1028L1372.8 1028L1371.9 1028L1371.8 1028L1371.2 1028L1370.9 1028L1370.8 1028L1369.8 1028L1369.7 1028L1369.4 1028L1368.8 1028L1367.8 1028L1367.3 1028L1366.8 1028L1365.8 1028L1365 1028L1364.8 1028L1363.8 1028L1362.8 1028L1362.7 1028L1361.8 1028L1360.8 1028L1360.3 1028L1360 1028L1359.8 1028L1358.8 1028L1358 1028L1357.8 1028L1357.2 1028L1356.8 1028L1355.8 1028L1355.6 1028L1354.8 1028L1354.8 1028L1353.8 1028L1353.3 1028L1352.8 1028L1352.5 1028L1351.8 1028L1351.2 1028L1350.8 1028L1350.2 1028L1349.8 1028L1349.4 1028L1349.1 1028L1348.8 1028L1347.8 1028L1347.8 1028L1347 1028L1346.8 1028L1345.8 1028L1345.5 1028L1344.8 1028L1344.7 1028L1343.8 1028L1343.1 1028L1342.8 1028L1342.3 1028L1341.8 1028L1340.8 1028L1340.8 1028L1340 1028L1339.8 1028L1339.2 1028L1338.8 1028L1337.8 1028L1337.7 1028L1336.8 1028L1336.6 1028L1335.8 1028L1335.3 1028L1334.8 1028L1334.5 1028L1333.8 1028L1333.8 1028L1333 1028L1332.8 1028L1332.2 1028L1331.8 1028L1331.4 1028L1330.8 1028L1330.6 1028L1329.8 1028L1329.1 1028L1328.8 1028L1328.8 1028L1327.8 1028L1327.2 1028L1326.8 1028L1325.8 1028L1325.2 1028L1324.8 1028L1323.8 1028L1323.1 1028L1322.8 1028L1322.8 1028L1321.8 1028L1320.9 1028L1320.8 1028L1320.5 1028L1319.8 1028L1318.9 1028L1318.8 1028L1318.1 1028L1317.8 1028L1317.3 1028L1316.8 1028L1316.2 1028L1315.8 1028L1315.3 1028L1314.8 1028L1314.2 1028L1313.8 1028L1313.4 1028L1312.8 1028L1311.9 1028L1311.8 1028L1310.8 1028L1310.3 1028L1309.8 1028L1308.8 1028L1308 1028L1307.8 1028L1306.8 1028L1305.8 1028L1305.6 1028L1304.8 1028L1303.8 1028L1303.3 1028L1302.8 1028L1301.8 1028L1301.2 1028L1300.9 1028L1300.8 1028L1299.8 1028L1299.4 1028L1299.1 1028L1298.8 1028L1297.8 1028L1297 1028L1296.8 1028L1295.8 1028L1295 1028L1294.8 1028L1293.9 1028L1293.8 1028L1292.8 1028L1291.8 1028L1291.6 1028L1291.2 1028L1290.8 1028L1289.8 1028L1289.2 1028L1288.9 1028L1288.8 1028L1287.8 1028L1286.9 1028L1286.8 1028L1285.8 1028L1284.8 1028L1284.5 1028L1283.8 1028L1282.8 1028L1282.5 1028L1281.8 1028L1280.9 1028L1280.8 1028L1280.6 1028L1279.8 1028L1279.1 1028L1278.8 1028L1278.3 1028L1277.8 1028L1276.8 1028L1276.7 1028L1275.9 1028L1275.8 1028L1274.8 1028L1274.4 1028L1273.8 1028L1273.6 1028L1272.8 1028L1272 1028L1271.8 1028L1271.2 1028L1270.8 1028L1269.8 1028L1269.7 1028L1268.9 1028L1268.8 1028L1267.8 1028L1267.3 1028L1266.8 1028L1266.6 1028L1265.8 1028L1265 1028L1264.8 1028L1264.2 1028L1263.8 1028L1262.8 1028L1262.7 1028L1261.9 1028L1261.8 1028L1261.1 1028L1260.8 1028L1260.6 1028L1259.8 1028L1259.5 1028L1259.1 1028L1258.8 1028L1257.8 1028L1257.5 1028L1256.8 1028L1255.8 1028L1255.6 1028L1254.8 1028L1253.8 1028L1253.8 1028L1253.3 1028L1252.8 1028L1251.8 1028L1251.7 1028L1250.9 1028L1250.8 1028L1250.2 1028L1249.8 1028L1249.4 1028L1248.8 1028L1247.8 1028L1247.5 1028L1246.8 1028L1245.8 1028L1245.5 1028L1244.8 1028L1243.8 1028L1243.1 1028L1242.8 1028L1241.8 1028L1240.8 1028L1240.8 1028L1239.8 1028L1238.8 1028L1238.4 1028L1237.8 1028L1236.8 1028L1236.6 1028L1235.8 1028L1234.8 1028L1234.5 1028L1233.8 1028L1233.8 1028L1232.8 1028L1232.2 1028L1231.8 1028L1230.9 1028L1230.8 1028L1229.8 1028L1229.8 1028L1229.1 1028L1228.8 1028L1228.3 1028L1227.8 1028L1227.2 1028L1226.8 1028L1225.8 1028L1225.2 1028L1224.8 1028L1223.8 1028L1222.8 1028L1222.8 1028L1222.5 1028L1221.8 1028L1220.8 1028L1220.5 1028L1219.8 1028L1218.9 1028L1218.8 1028L1218.1 1028L1217.8 1028L1216.8 1028L1216.6 1028L1215.8 1028L1214.8 1028L1214.7 1028L1213.8 1028L1212.8 1028L1212.7 1028L1211.8 1028L1210.8 1028L1210.3 1028L1209.8 1028L1208.8 1028L1208.8 1028L1208.4 1028L1207.8 1028L1206.9 1028L1206.8 1028L1205.8 1028L1205.6 1028L1205.3 1028L1204.8 1028L1203.8 1028L1203.3 1028L1202.8 1028L1201.8 1028L1201.2 1028L1200.8 1028L1199.8 1028L1199.1 1028L1198.8 1028L1198.6 1028L1197.8 1028L1197 1028L1196.8 1028L1196.2 1028L1195.8 1028L1195.5 1028L1194.8 1028L1194.7 1028L1193.9 1028L1193.8 1028L1193.8 1028L1192.8 1028L1192.8 1028L1192.3 1028L1192.2 1028L1191.8 1028L1190.8 1028L1190.8 1028L1190.3 1028L1190 1028L1189.8 1028L1189.2 1028L1188.8 1028L1188.4 1028L1188.3 1028L1188.1 1028L1187.8 1028L1186.8 1028L1186.4 1028L1185.8 1028L1185.3 1028L1184.8 1028L1184.1 1028L1183.8 1028L1183.8 1028L1183 1028L1182.8 1028L1182.2 1028L1181.8 1028L1180.8 1028L1180.6 1028L1180.2 1028L1179.8 1028L1178.8 1028L1178.6 1028L1178.3 1028L1177.8 1028L1177 1028L1176.8 1028L1175.9 1028L1175.8 1028L1175.5 1028L1174.8 1028L1174.1 1028L1173.9 1028L1173.8 1028L1172.8 1028L1172.7 1028L1172.3 1028L1172 1028L1171.8 1028L1171.6 1028L1170.8 1028L1170.5 1028L1170.3 1028L1169.8 1028L1169.7 1028L1169.2 1028L1168.8 1028L1168.4 1028L1168.1 1028L1167.8 1028L1167.2 1028L1166.9 1028L1166.8 1028L1166.1 1028L1165.8 1028L1165.6 1028L1165.2 1028L1164.8 1028L1164.4 1028L1164.1 1028L1163.8 1028L1162.8 1028L1162.8 1028L1162.5 1028L1161.8 1028L1160.9 1028L1160.8 1028L1159.8 1028L1158.8 1028L1158.6 1028L1157.8 1028L1157.8 1028L1156.8 1028L1155.8 1028L1155.5 1028L1154.8 1028L1154.7 1028L1153.8 1028L1153.1 1028L1152.8 1028L1152.3 1028L1151.8 1028L1151.6 1028L1150.8 1028L1150.8 1028L1149.8 1028L1148.8 1028L1148.8 1028L1148.4 1028L1147.8 1028L1146.9 1028L1146.8 1028L1146.6 1028L1146.1 1028L1145.8 1028L1144.8 1028L1144.5 1028L1143.8 1028L1143.8 1028L1143 1028L1142.8 1028L1141.8 1028L1140.8 1028L1140.6 1028L1140.3 1028L1139.8 1028L1138.8 1028L1138.3 1028L1137.8 1028L1137.8 1028L1137.5 1028L1136.8 1028L1136.7 1028L1135.9 1028L1135.8 1028L1135.6 1028L1135.2 1028L1134.8 1028L1134.4 1028L1134.1 1028L1133.8 1028L1132.8 1028L1132.8 1028L1132.5 1028L1132.3 1028L1132 1028L1131.8 1028L1131.6 1028L1131.2 1028L1130.8 1028L1130.5 1028L1130 1028L1129.8 1028L1128.9 1028L1128.8 1028L1128.1 1028L1127.8 1028L1126.8 1028L1126.6 1028L1125.8 1028L1124.8 1028L1124.2 1028L1123.8 1028L1122.8 1028L1122.2 1028L1121.9 1028L1121.8 1028L1121.6 1028L1120.8 1028L1120.3 1028L1120 1028L1119.8 1028L1119.5 1028L1118.8 1028L1118.8 1028L1118 1028L1117.8 1028L1117.5 1028L1116.9 1028L1116.8 1028L1116.4 1028L1115.9 1028L1115.8 1028L1114.8 1028L1114.8 1028L1114.1 1028L1113.8 1028L1113.3 1028L1112.8 1028L1112.5 1028L1111.8 1028L1111.7 1028L1110.9 1028L1110.8 1028L1110.2 1028L1109.8 1028L1109.4 1028L1108.8 1028L1108.6 1028L1107.8 1028L1107.8 1028L1107 1028L1106.8 1028L1106.6 1028L1106.4 1028L1106.2 1028L1105.8 1028L1105.8 1028L1105.6 1028L1104.8 1028L1104.7 1028L1104.2 1028L1103.8 1028L1103.4 1028L1103.1 1028L1103 1028L1102.8 1028L1102.3 1028L1102.2 1028L1101.8 1028L1101.6 1028L1100.8 1028L1100.8 1028L1099.8 1028L1099.7 1028L1099.4 1028L1098.8 1028L1098.8 1028L1098.4 1028L1098.1 1028L1097.8 1028L1097.7 1028L1096.8 1028L1096.6 1028L1096.1 1028L1095.8 1028L1094.8 1028L1094.5 1028L1093.8 1028L1093.8 1028L1092.8 1028L1092.5 1028L1091.9 1028L1091.8 1028L1091.4 1028L1090.8 1028L1090.6 1028L1089.8 1028L1089.4 1028L1088.8 1028L1088.3 1028L1087.8 1028L1086.8 1028L1086.4 1028L1085.8 1028L1084.8 1028L1084.1 1028L1083.8 1028L1082.8 1028L1082.8 1028L1082.5 1028L1081.8 1028L1081.7 1028L1081.2 1028L1080.8 1028L1080.8 1028L1079.8 1028L1079.7 1028L1078.9 1028L1078.8 1028L1078.1 1028L1077.8 1028L1076.8 1028L1076.6 1028L1076.2 1028L1075.8 1028L1075 1028L1074.8 1028L1074.2 1028L1073.8 1028L1073.4 1028L1072.8 1028L1071.9 1028L1071.8 1028L1071.1 1028L1070.8 1028L1069.8 1028L1068.8 1028L1068.8 1028L1068 1028L1067.8 1028L1067.2 1028L1066.9 1028L1066.8 1028L1066.4 1028L1065.8 1028L1065.6 1028L1065.2 1028L1064.8 1028L1064.1 1028L1063.8 1028L1063.3 1028L1062.8 1028L1062.5 1028L1062.2 1028L1061.8 1028L1061.7 1028L1060.9 1028L1060.8 1028L1059.8 1028L1059.4 1028L1059.1 1028L1058.8 1028L1058.1 1028L1057.8 1028L1057.8 1028L1057.5 1028L1057 1028L1056.8 1028L1055.9 1028L1055.8 1028L1054.8 1028L1054.7 1028L1053.8 1028L1053.4 1028L1053.1 1028L1052.8 1028L1051.9 1028L1051.8 1028L1051.6 1028L1051.2 1028L1050.8 1028L1050.5 1028L1049.8 1028L1049.5 1028L1048.8 1028L1048.8 1028L1047.8 1028L1047.8 1028L1047.3 1028L1046.8 1028L1046.6 1028L1045.8 1028L1045.3 1028L1044.8 1028L1043.8 1028L1043.4 1028L1042.8 1028L1041.9 1028L1041.8 1028L1040.8 1028L1039.8 1028L1039.8 1028L1039.1 1028L1038.8 1028L1038.6 1028L1037.8 1028L1037.8 1028L1036.8 1028L1036.2 1028L1035.9 1028L1035.8 1028L1034.8 1028L1034.4 1028L1033.8 1028L1033.6 1028L1033.1 1028L1032.8 1028L1032.8 1028L1032 1028L1031.8 1028L1031.7 1028L1031.2 1028L1030.8 1028L1030.5 1028L1029.8 1028L1029.7 1028L1028.8 1028L1028.1 1028L1027.8 1028L1027.8 1028L1026.8 1028L1026.6 1028L1025.8 1028L1024.8 1028L1024.2 1028L1023.8 1028L1022.8 1028L1022.7 1028L1021.9 1028L1021.8 1028L1021.1 1028L1020.8 1028L1020.6 1028L1019.8 1028L1019.5 1028L1018.8 1028L1018.8 1028L1017.8 1028L1017.2 1028L1016.8 1028L1016.4 1028L1015.8 1028L1015.6 1028L1015.3 1028L1014.8 1028L1014.1 1028L1013.8 1028L1012.8 1028L1012.5 1028L1011.8 1028L1010.8 1028L1010.6 1028L1010.2 1028L1009.8 1028L1009.4 1028L1008.8 1028L1007.8 1028L1007.8 1028L1007.3 1028L1006.8 1028L1006.2 1028L1005.8 1028L1004.8 1028L1004.7 1028L1003.9 1028L1003.8 1028L1002.8 1028L1002.3 1028L1001.8 1028L1001.6 1028L1000.8 1028L1000.8 1028L1000 1028L999.8 1028L998.8 1028L998.4 1028L998.1 1028L997.8 1028L997.2 1028L996.8 1028L996.1 1028L995.8 1028L995.6 1028L994.8 1028L994.5 1028L993.8 1028L992.8 1028L992.2 1028L991.8 1028L990.8 1028L989.8 1028L989.8 1028L989.5 1028L989.1 1028L988.8 1028L988.8 1028L988.4 1028L987.8 1028L987.5 1028L986.8 1028L986.6 1028L986.2 1028L985.8 1028L985.6 1028L985.2 1028L984.8 1028L983.8 1028L982.8 1028L982.8 1028L981.8 1028L981.6 1028L980.9 1028L980.8 1028L980 1028L979.8 1028L978.8 1028L978.1 1028L977.8 1028L977.3 1028L976.8 1028L976.6 1028L975.8 1028L975.8 1028L975.3 1028L975 1028L974.8 1028L974.7 1028L973.8 1028L972.8 1028L971.9 1028L971.8 1028L970.8 1028L969.8 1028L969.5 1028L969.2 1028L968.8 1028L967.8 1028L967.5 1028L966.8 1028L965.9 1028L965.8 1028L965.3 1028L964.8 1028L964.1 1028L963.8 1028L962.8 1028L962.5 1028L961.8 1028L961.7 1028L960.9 1028L960.8 1028L959.8 1028L959.7 1028L958.8 1028L958.6 1028L957.8 1028L957.3 1028L957 1028L956.8 1028L955.8 1028L955.8 1028L955.5 1028L954.8 1028L954.7 1028L953.9 1028L953.8 1028L953.6 1028L952.8 1028L952.8 1028L952.5 1028L951.8 1028L951.6 1028L950.8 1028L949.8 1028L949.7 1028L949.2 1028L948.8 1028L947.8 1028L947.7 1028L947.3 1028L946.8 1028L945.8 1028L945.8 1028L945.3 1028L945 1028L944.8 1028L943.8 1028L943.8 1028L943.4 1028L942.8 1028L941.8 1028L941.4 1028L940.8 1028L940.6 1028L939.8 1028L939.8 1028L939.1 1028L938.8 1028L937.8 1028L937.5 1028L937.1 1028L936.8 1028L936.7 1028L935.8 1028L935.6 1028L934.8 1028L933.8 1028L933.3 1028L932.8 1028L931.8 1028L931.6 1028L930.8 1028L930.6 1028L929.8 1028L929.7 1028L928.8 1028L928.1 1028L927.8 1028L927.2 1028L926.8 1028L926.2 1028L925.8 1028L925 1028L924.8 1028L923.8 1028L923.4 1028L922.8 1028L922.5 1028L921.8 1028L920.9 1028L920.8 1028L920.3 1028L920 1028L919.8 1028L919.4 1028L918.8 1028L918.4 1028L917.8 1028L917.5 1028L916.8 1028L916.6 1028L916.2 1028L915.8 1028L915.3 1028L915 1028L914.8 1028L914.1 1028L913.8 1028L913.8 1028L913.4 1028L912.8 1028Z" fill="#73cde6"/>
<path d="M505.5 1028.0L505.5 951.0L507.5 896.0L508.8 700.0L509.3 588.0L512.2 510.0L513.8 354.0L515.5 326.0L516.7 324.5L519.5 335.5L522.2 325.5L524.4 330.0L527.1 320.0L527.8 320.0L527.8 1028.0Z" fill="#73cde6"/>
<path d="M536.1 1028.0L537.2 800.0L538.9 554.0L543.8 328.0L547.8 326.0L548.2 500.0L548.9 670.0L550.2 870.0L553.8 960.0L555.2 1005.0L555.5 1028.0Z" fill="#73cde6"/>
<path d="M555.7 1028.0L555.9 1005.0L556.5 870.0L557.3 700.0L557.3 601.0L560.7 601.0L561.6 560.0L562.3 488.0L564.2 488.0L565.3 640.0L565.8 672.7L570.6 672.7L571.1 523.0L571.6 672.7L571.9 672.7L571.9 1028.0Z" fill="#73cde6"/>
<path d="M576.0 1028.0L576.4 670.0L577.8 400.0L579.0 335.0L579.6 326.7L581.8 332.0L584.0 329.0L586.7 336.7L590.0 324.4L592.9 327.8L594.2 327.8L595.6 421.0L597.8 461.0L598.9 672.0L598.9 1028.0Z" fill="#73cde6"/>
<path d="M598.9 1028.0L598.9 668.0L619.9 668.0L621.0 321.0L621.9 668.0L621.9 1028.0Z" fill="#73cde6"/>
<path d="M626.0 1028.0L626.0 680.0L628.4 321.0L629.8 672.0L630.3 1020.0L630.8 900.0L632.7 763.0L634.4 870.0L636.5 976.0L638.2 974.0L640.6 870.0L641.5 672.0L642.2 572.0L643.0 672.0L643.8 870.0L645.5 940.0L648.0 990.0L650.0 1010.0L652.1 1027.0L652.8 1027.0L654.5 960.0L655.6 870.0L657.5 672.0L658.4 603.0L659.1 672.0L664.4 870.0L666.2 974.0L666.5 990.0L668.5 974.0L670.5 1010.0L671.3 1027.0L672.5 1027.0L673.8 957.0L675.5 970.0L677.0 975.0L679.0 960.0L681.0 987.0L681.9 987.0L683.0 870.0L684.4 730.0L685.6 870.0L686.7 1020.0L688.0 980.0L689.0 870.0L690.4 358.0L691.9 870.0L692.8 980.0L694.4 975.0L696.2 972.0L698.7 972.0L700.6 976.0L701.8 1007.0L702.5 1027.0L703.1 1027.0L704.4 972.0L706.5 976.0L708.1 870.0L709.0 672.0L710.7 370.0L711.5 672.0L712.2 870.0L713.1 982.0L716.2 1026.0L718.5 1011.0L720.6 1027.0L721.2 1026.0L724.4 920.0L726.9 920.0L728.1 957.0L728.8 1003.0L731.9 960.0L733.5 930.0L735.0 1007.0L736.7 1010.0L738.5 990.0L740.5 975.0L743.5 975.0L744.9 999.0L746.5 891.0L748.1 995.0L749.0 1027.7L750.6 1027.7L751.8 990.0L753.8 982.0L754.8 1004.0L756.2 989.0L757.5 945.0L758.9 852.0L760.0 945.0L760.8 982.0L761.5 982.0L762.7 683.0L764.0 870.0L764.8 970.0L765.0 1000.0L766.2 990.0L768.1 1007.5L771.2 1027.7L772.5 1027.7L774.4 995.0L775.2 870.0L775.6 760.0L776.3 600.0L776.9 428.0L777.5 600.0L778.2 830.0L778.5 838.0L779.5 836.7L782.9 791.0L785.5 791.0L786.7 759.0L787.3 672.0L788.8 324.4L791.1 331.0L792.7 329.0L793.0 330.0L794.4 532.0L795.5 672.0L796.0 737.0L798.9 737.0L799.3 672.0L800.4 560.0L801.5 672.0L802.5 880.0L803.3 672.0L804.0 560.0L805.1 520.0L806.0 560.0L807.1 672.0L807.1 1028.0Z" fill="#73cde6"/>
<path d="M811.1 1028.0L811.1 672.0L812.2 465.0L814.4 320.0L816.0 488.0L817.1 672.0L818.0 700.0L818.9 634.4L820.0 672.0L821.1 672.0L822.9 603.0L826.2 670.0L827.6 803.0L829.3 936.7L830.0 936.7L832.0 930.0L831.1 848.0L833.3 814.0L835.1 670.0L836.0 510.0L837.1 336.7L838.9 328.9L842.2 326.0L845.6 328.2L850.0 328.2L851.6 330.0L854.4 326.7L857.3 325.1L860.0 328.9L862.2 329.6L864.4 327.3L866.7 323.3L868.9 318.4L869.6 318.4L870.0 532.0L870.7 670.0L872.0 700.0L873.5 690.0L874.4 680.0L876.0 743.0L878.9 800.0L879.4 1020.0L879.8 800.0L880.8 700.0L881.1 680.0L883.3 720.0L884.9 690.0L885.6 720.0L886.4 672.0L887.6 600.0L889.5 672.0L890.7 680.0L892.0 680.0L892.3 903.0L895.5 680.0L896.7 672.2L897.8 680.0L899.5 790.0L901.1 690.0L903.6 700.0L905.5 700.0L907.8 700.0L908.9 690.0L909.3 803.0L910.7 892.0L912.9 959.0L913.8 1012.0L913.8 1028.0Z" fill="#73cde6"/>
<path d="M508.6 600.0L509.3 588.0L510.8 540.0L511.6 535.0L510.3 590.0Z" fill="#f6821f"/>
<path d="M510.8 540.0L512.2 510.0L512.0 540.0L511.4 548.0Z" fill="#21a121"/>
<path d="M560.9 601.0L563.3 408.0L564.0 454.0L562.7 454.0L561.6 560.0Z" fill="#bdbd00"/>
<path d="M557.3 601.0L557.8 532.0L559.6 601.0Z" fill="#bdbd00"/>
<path d="M562.7 454.0L564.0 454.0L564.2 488.0L562.3 488.0Z" fill="#f6821f"/>
<path d="M565.8 672.7L570.0 672.7L567.8 848.0Z" fill="#bdbd00"/>
<path d="M550.6 790.0L551.8 870.0L553.5 960.0L555.4 1020.0L552.6 940.0L551.0 870.0Z" fill="#bdbd00"/>
<path d="M579.6 326.7L580.6 330.0L577.6 670.0L576.4 670.0L577.8 400.0Z" fill="#21a121"/>
<path d="M596.3 440.0L597.8 461.0L598.9 672.0L599.8 870.0L598.9 870.0L598.0 672.0Z" fill="#21a121"/>
<path d="M602.2 672.0L602.9 1028.0L600.0 1028.0Z" fill="#bdbd00"/>
<path d="M606.2 672.0L610.4 321.0L610.9 672.0Z" fill="#bdbd00"/>
<path d="M610.9 672.0L610.4 321.0L615.6 672.0Z" fill="#21a121"/>
<path d="M613.3 672.0L614.4 461.0L616.0 672.0Z" fill="#21a121"/>
<path d="M609.0 672.0L611.2 672.0L611.9 1028.0L609.7 1028.0Z" fill="#f6821f"/>
<path d="M607.5 640.0L609.5 600.0L610.0 672.0L607.0 672.0Z" fill="#f6821f"/>
<path d="M611.9 672.0L613.2 672.0L613.0 870.0L612.4 870.0Z" fill="#21a121"/>
<path d="M626.0 672.0L626.5 672.0L628.2 330.0L627.6 400.0Z" fill="#bdbd00"/>
<path d="M648.5 932.5L645.6 951.0L644.5 964.0L646.5 985.0L646.6 970.0L647.2 951.0Z" fill="#21a121"/>
<path d="M655.3 900.0L657.8 640.0L658.3 640.0L656.2 900.0L655.5 1000.0L654.8 1000.0Z" fill="#bdbd00"/>
<path d="M664.0 818.0L664.8 818.0L663.6 960.0L662.9 960.0Z" fill="#21a121"/>
<path d="M673.8 957.0L674.6 917.5L675.3 962.0Z" fill="#bdbd00"/>
<path d="M678.0 960.0L678.6 914.0L680.6 904.0L681.9 987.0L680.6 987.0L679.0 960.0Z" fill="#bdbd00"/>
<path d="M694.4 967.5L696.2 972.5L698.8 972.0L700.6 976.0L698.8 989.0L696.5 1000.0L695.2 982.5Z" fill="#bdbd00"/>
<path d="M706.3 975.0L707.9 870.0L708.6 700.0L709.2 700.0L708.6 870.0L707.2 975.0Z" fill="#bdbd00"/>
<path d="M724.6 920.0L725.0 916.0L726.9 916.0L728.1 957.0L727.0 957.0L726.0 921.0Z" fill="#bdbd00"/>
<path d="M728.4 1000.0L728.8 1003.0L731.9 957.0L734.4 908.0L733.0 930.0L730.5 965.0Z" fill="#21a121"/>
<path d="M733.2 935.0L734.4 908.0L735.3 980.0L736.7 1010.0L735.0 1000.0Z" fill="#bdbd00"/>
<path d="M738.4 970.0L740.2 932.0L742.5 951.0L744.8 970.0L744.9 999.0L743.0 975.0L739.5 962.0Z" fill="#21a121"/>
<path d="M737.5 1000.0L738.4 970.0L739.5 962.0L740.5 975.0L739.0 995.0Z" fill="#f6821f"/>
<path d="M743.8 965.0L744.9 975.0L745.0 1000.0L744.2 1000.0Z" fill="#bdbd00"/>
<path d="M749.5 1028.0L752.5 885.0L751.0 1028.0Z" fill="#bdbd00"/>
<path d="M771.5 1028.0L773.5 1028.0L775.3 985.0L774.4 995.0Z" fill="#bdbd00"/>
<path d="M779.2 838.0L781.8 800.0L781.4 900.0L780.6 960.0L779.6 900.0Z" fill="#bdbd00"/>
<path d="M798.9 672.0L800.4 523.0L801.8 672.0L801.0 772.0L800.2 850.0L799.6 772.0Z" fill="#bdbd00"/>
<path d="M803.3 672.0L805.1 398.0L805.3 672.0Z" fill="#bdbd00"/>
<path d="M805.3 672.0L805.1 398.0L807.1 500.0L807.1 672.0Z" fill="#21a121"/>
<path d="M803.8 672.0L805.5 672.0L805.2 737.0L804.4 737.0Z" fill="#bdbd00"/>
<path d="M811.1 672.0L812.2 465.0L814.2 330.0L814.0 420.0L812.8 520.0L812.0 672.0Z" fill="#21a121"/>
<path d="M830.5 936.0L832.9 925.0L831.1 848.0L833.3 814.0L834.4 800.0L833.5 880.0Z" fill="#bdbd00"/>
<path d="M870.7 700.0L873.3 554.0L873.8 700.0Z" fill="#bdbd00"/>
<path d="M873.8 700.0L873.3 554.0L874.6 690.0Z" fill="#21a121"/>
<path d="M881.6 700.0L882.9 585.8L884.2 700.0L883.6 720.0Z" fill="#bdbd00"/>
<path d="M881.9 700.0L884.1 700.0L883.9 790.0L883.3 792.0L882.5 740.0Z" fill="#f6821f"/>
<path d="M885.4 690.0L887.6 554.4L888.3 690.0L887.6 740.0L886.4 740.0Z" fill="#bdbd00"/>
<path d="M888.3 690.0L889.5 600.0L890.0 690.0Z" fill="#bdbd00"/>
<path d="M890.0 690.0L890.7 612.0L892.0 690.0Z" fill="#21a121"/>
<path d="M878.7 870.0L879.5 870.0L879.8 1028.0L878.9 1028.0Z" fill="#bdbd00"/>
<path d="M901.1 700.0L903.6 321.0L905.4 500.0L905.4 700.0Z" fill="#bdbd00"/>
<path d="M905.4 700.0L905.4 500.0L903.8 321.0L906.3 480.0L907.8 388.0L908.9 700.0Z" fill="#21a121"/>
<path d="M902.7 700.0L904.4 700.0L904.2 1028.0L902.9 1028.0Z" fill="#bdbd00"/>
<path d="M907.3 700.0L908.9 700.0L909.3 803.0L908.2 803.0Z" fill="#21a121"/>
<path d="M909.3 803.0L910.7 892.0L912.9 959.0L913.8 1012.0L913.0 1012.0L911.9 959.0L909.9 892.0L908.8 803.0Z" fill="#bdbd00"/>
<path d="M933.3 345.6L934.2 352.0L934.0 380.0L933.6 360.0Z" fill="#bdbd00"/>
<line x1="537.3" y1="320" x2="537.3" y2="554" stroke="#73cde6" stroke-width="0.8" opacity="0.45"/>
<line x1="550.0" y1="870" x2="550.2" y2="925" stroke="#bdbd00" stroke-width="0.8" opacity="0.5"/>
<line x1="546.6" y1="321" x2="546.6" y2="340" stroke="#73cde6" stroke-width="0.8" opacity="0.5"/>
</g>
<text x="63.9" y="323.8" font-size="21.5" fill="#7a7a7a" font-weight="normal" textLength="56.9" lengthAdjust="spacingAndGlyphs"  stroke="#7a7a7a" stroke-width="0.24">100%</text>
<text x="73.2" y="394.8" font-size="21.5" fill="#7a7a7a" font-weight="normal" textLength="47.6" lengthAdjust="spacingAndGlyphs"  stroke="#7a7a7a" stroke-width="0.24">90%</text>
<text x="73.2" y="465.8" font-size="21.5" fill="#7a7a7a" font-weight="normal" textLength="47.6" lengthAdjust="spacingAndGlyphs"  stroke="#7a7a7a" stroke-width="0.24">80%</text>
<text x="73.7" y="536.8" font-size="21.5" fill="#7a7a7a" font-weight="normal" textLength="47.1" lengthAdjust="spacingAndGlyphs"  stroke="#7a7a7a" stroke-width="0.24">70%</text>
<text x="73.2" y="607.8" font-size="21.5" fill="#7a7a7a" font-weight="normal" textLength="47.6" lengthAdjust="spacingAndGlyphs"  stroke="#7a7a7a" stroke-width="0.24">60%</text>
<text x="73.2" y="678.8" font-size="21.5" fill="#7a7a7a" font-weight="normal" textLength="47.6" lengthAdjust="spacingAndGlyphs"  stroke="#7a7a7a" stroke-width="0.24">50%</text>
<text x="73.2" y="749.8" font-size="21.5" fill="#7a7a7a" font-weight="normal" textLength="47.6" lengthAdjust="spacingAndGlyphs"  stroke="#7a7a7a" stroke-width="0.24">40%</text>
<text x="73.2" y="820.8" font-size="21.5" fill="#7a7a7a" font-weight="normal" textLength="47.6" lengthAdjust="spacingAndGlyphs"  stroke="#7a7a7a" stroke-width="0.24">30%</text>
<text x="73.2" y="891.8" font-size="21.5" fill="#7a7a7a" font-weight="normal" textLength="47.6" lengthAdjust="spacingAndGlyphs"  stroke="#7a7a7a" stroke-width="0.24">20%</text>
<text x="77.2" y="962.8" font-size="21.5" fill="#7a7a7a" font-weight="normal" textLength="43.6" lengthAdjust="spacingAndGlyphs"  stroke="#7a7a7a" stroke-width="0.24">10%</text>
<text x="86.2" y="1033.8" font-size="21.5" fill="#7a7a7a" font-weight="normal" textLength="34.6" lengthAdjust="spacingAndGlyphs"  stroke="#7a7a7a" stroke-width="0.24">0%</text>
<text transform="translate(51.8 706.3) rotate(-90)" font-size="23" fill="#8a8a8a" textLength="67" lengthAdjust="spacingAndGlyphs">Flows</text>
<defs><clipPath id="cx"><rect x="0" y="1040" width="1568" height="60"/></clipPath></defs>
<g clip-path="url(#cx)">
<text x="48.5" y="1069.6" font-size="21.5" fill="#7a7a7a" font-weight="normal" textLength="179.9" lengthAdjust="spacingAndGlyphs"  stroke="#7a7a7a" stroke-width="0.24">Thu, Jan 1, 00:00</text>
<text x="236.0" y="1069.6" font-size="21.5" fill="#7a7a7a" font-weight="normal" textLength="190.4" lengthAdjust="spacingAndGlyphs"  stroke="#7a7a7a" stroke-width="0.24">Mon, Jan 5, 00:00</text>
<text x="438.8" y="1069.6" font-size="21.5" fill="#7a7a7a" font-weight="normal" textLength="170.4" lengthAdjust="spacingAndGlyphs"  stroke="#7a7a7a" stroke-width="0.24">Fri, Jan 9, 00:00</text>
<text x="621.1" y="1069.6" font-size="21.5" fill="#7a7a7a" font-weight="normal" textLength="191.4" lengthAdjust="spacingAndGlyphs"  stroke="#7a7a7a" stroke-width="0.24">Tue, Jan 13, 00:00</text>
<text x="815.2" y="1069.6" font-size="21.5" fill="#6e6e6e" font-weight="bold" textLength="188.9" lengthAdjust="spacingAndGlyphs" >Sat, Jan 17, 00:00</text>
<text x="1003.2" y="1069.6" font-size="21.5" fill="#7a7a7a" font-weight="normal" textLength="198.4" lengthAdjust="spacingAndGlyphs"  stroke="#7a7a7a" stroke-width="0.24">Wed, Jan 21, 00:00</text>
<text x="1193.8" y="1069.6" font-size="21.5" fill="#6e6e6e" font-weight="bold" textLength="202.9" lengthAdjust="spacingAndGlyphs" >Sun, Jan 25, 00:00</text>
<text x="1389.3" y="1069.6" font-size="21.5" fill="#7a7a7a" font-weight="normal" textLength="197.4" lengthAdjust="spacingAndGlyphs"  stroke="#7a7a7a" stroke-width="0.24">Thu, Jan 29, 00:00</text>
</g>
<g stroke="#b2b2b2" stroke-width="3"><line x1="138.5" y1="1028.0" x2="138.5" y2="1042.9"/><line x1="331.5" y1="1028.0" x2="331.5" y2="1042.9"/><line x1="524.5" y1="1028.0" x2="524.5" y2="1042.9"/><line x1="717.5" y1="1028.0" x2="717.5" y2="1042.9"/><line x1="909.5" y1="1028.0" x2="909.5" y2="1042.9"/><line x1="1102.5" y1="1028.0" x2="1102.5" y2="1042.9"/><line x1="1295.5" y1="1028.0" x2="1295.5" y2="1042.9"/><line x1="1488.5" y1="1028.0" x2="1488.5" y2="1042.9"/></g>
<rect x="148.0" y="1108" width="1410.1" height="31.5" fill="#0041a3"/>
<rect x="148.0" y="1145" width="1410.1" height="15.3" fill="#b5b5b5"/>
<text x="30.2" y="1142.2" font-size="24" fill="#4d4d4d" font-weight="normal" textLength="107.9" lengthAdjust="spacingAndGlyphs"  stroke="#4d4d4d" stroke-width="0.26">No match</text>
<text x="1499.3" y="1131.5" font-size="22.5" fill="#fff" font-weight="bold" textLength="51.5" lengthAdjust="spacingAndGlyphs" >80%</text>
<text x="1528.6" y="1157.0" font-size="13" fill="#333" font-weight="bold" textLength="25.3" lengthAdjust="spacingAndGlyphs" >80%</text>
<rect x="148.0" y="1172" width="112.3" height="31.5" fill="#73cde6"/>
<rect x="148.0" y="1209" width="112.3" height="15.3" fill="#b5b5b5"/>
<text x="31.2" y="1206.2" font-size="24" fill="#4d4d4d" font-weight="normal" textLength="106.9" lengthAdjust="spacingAndGlyphs"  stroke="#4d4d4d" stroke-width="0.26">Post SYN</text>
<text x="194.5" y="1195.5" font-size="22.5" fill="#333" font-weight="bold" textLength="58.5" lengthAdjust="spacingAndGlyphs" >6.4%</text>
<text x="224.3" y="1221.0" font-size="13" fill="#333" font-weight="bold" textLength="31.8" lengthAdjust="spacingAndGlyphs" >6.4%</text>
<rect x="148.0" y="1236" width="101.8" height="31.5" fill="#f6821f"/>
<rect x="148.0" y="1273" width="101.8" height="15.3" fill="#b5b5b5"/>
<text x="32.0" y="1270.2" font-size="24" fill="#4d4d4d" font-weight="normal" textLength="106.1" lengthAdjust="spacingAndGlyphs"  stroke="#4d4d4d" stroke-width="0.26">Post ACK</text>
<text x="185.0" y="1259.5" font-size="22.5" fill="#333" font-weight="bold" textLength="57.5" lengthAdjust="spacingAndGlyphs" >5.8%</text>
<text x="214.8" y="1285.0" font-size="13" fill="#333" font-weight="bold" textLength="30.8" lengthAdjust="spacingAndGlyphs" >5.8%</text>
<rect x="148.0" y="1300" width="86.0" height="31.5" fill="#bdbd00"/>
<rect x="148.0" y="1337" width="86.0" height="15.3" fill="#b5b5b5"/>
<text x="80.4" y="1334.2" font-size="24" fill="#4d4d4d" font-weight="normal" textLength="57.6" lengthAdjust="spacingAndGlyphs"  stroke="#4d4d4d" stroke-width="0.26">Later</text>
<text x="169.2" y="1323.5" font-size="22.5" fill="#333" font-weight="bold" textLength="57.5" lengthAdjust="spacingAndGlyphs" >4.9%</text>
<text x="199.0" y="1349.0" font-size="13" fill="#333" font-weight="bold" textLength="30.8" lengthAdjust="spacingAndGlyphs" >4.9%</text>
<rect x="148.0" y="1364" width="43.9" height="31.5" fill="#21a121"/>
<rect x="148.0" y="1401" width="43.9" height="15.3" fill="#b5b5b5"/>
<text x="32.2" y="1398.2" font-size="24" fill="#4d4d4d" font-weight="normal" textLength="105.9" lengthAdjust="spacingAndGlyphs"  stroke="#4d4d4d" stroke-width="0.26">Post PSH</text>
<text x="199.2" y="1387.8" font-size="22" fill="#666" font-weight="normal" textLength="52.4" lengthAdjust="spacingAndGlyphs"  stroke="#666" stroke-width="0.24">2.5%</text>
<text x="157.2" y="1413.0" font-size="13" fill="#333" font-weight="bold" textLength="30.5" lengthAdjust="spacingAndGlyphs" >2.5%</text>
<defs><clipPath id="cb"><rect x="0" y="1420" width="1568" height="60"/></clipPath></defs>
<g stroke="#b3b3b3" stroke-width="2" fill="none"><path d="M148.0 1444.7V1427.9H1559"/><line x1="323.4" y1="1427.9" x2="323.4" y2="1444.7"/><line x1="498.9" y1="1427.9" x2="498.9" y2="1444.7"/><line x1="674.3" y1="1427.9" x2="674.3" y2="1444.7"/><line x1="849.8" y1="1427.9" x2="849.8" y2="1444.7"/><line x1="1025.2" y1="1427.9" x2="1025.2" y2="1444.7"/><line x1="1200.7" y1="1427.9" x2="1200.7" y2="1444.7"/><line x1="1376.1" y1="1427.9" x2="1376.1" y2="1444.7"/><line x1="1551.6" y1="1427.9" x2="1551.6" y2="1444.7"/></g>
<g clip-path="url(#cb)">
<text x="129.1" y="1463.8" font-size="23.5" fill="#7a7a7a" font-weight="normal" textLength="36.8" lengthAdjust="spacingAndGlyphs"  stroke="#7a7a7a" stroke-width="0.26">0%</text>
<text x="299.6" y="1463.8" font-size="23.5" fill="#7a7a7a" font-weight="normal" textLength="46.8" lengthAdjust="spacingAndGlyphs"  stroke="#7a7a7a" stroke-width="0.26">10%</text>
<text x="472.8" y="1463.8" font-size="23.5" fill="#7a7a7a" font-weight="normal" textLength="51.2" lengthAdjust="spacingAndGlyphs"  stroke="#7a7a7a" stroke-width="0.26">20%</text>
<text x="648.3" y="1463.8" font-size="23.5" fill="#7a7a7a" font-weight="normal" textLength="51.2" lengthAdjust="spacingAndGlyphs"  stroke="#7a7a7a" stroke-width="0.26">30%</text>
<text x="823.7" y="1463.8" font-size="23.5" fill="#7a7a7a" font-weight="normal" textLength="51.2" lengthAdjust="spacingAndGlyphs"  stroke="#7a7a7a" stroke-width="0.26">40%</text>
<text x="999.2" y="1463.8" font-size="23.5" fill="#7a7a7a" font-weight="normal" textLength="51.2" lengthAdjust="spacingAndGlyphs"  stroke="#7a7a7a" stroke-width="0.26">50%</text>
<text x="1174.6" y="1463.8" font-size="23.5" fill="#7a7a7a" font-weight="normal" textLength="51.2" lengthAdjust="spacingAndGlyphs"  stroke="#7a7a7a" stroke-width="0.26">60%</text>
<text x="1350.1" y="1463.8" font-size="23.5" fill="#7a7a7a" font-weight="normal" textLength="51.2" lengthAdjust="spacingAndGlyphs"  stroke="#7a7a7a" stroke-width="0.26">70%</text>
<text x="1525.5" y="1463.8" font-size="23.5" fill="#7a7a7a" font-weight="normal" textLength="51.2" lengthAdjust="spacingAndGlyphs"  stroke="#7a7a7a" stroke-width="0.26">80%</text>
</g>
<circle cx="590" cy="1502" r="10" fill="#b5b5b5"/>
<text x="615.6" y="1509.6" font-size="24" fill="#141414" font-weight="normal" textLength="104.4" lengthAdjust="spacingAndGlyphs"  stroke="#141414" stroke-width="0.26">Previous:</text><text x="727.2" y="1509.6" font-size="24" fill="#141414" font-weight="normal" textLength="125.6" lengthAdjust="spacingAndGlyphs"  stroke="#141414" stroke-width="0.26">01/01/2026</text><text x="889.4" y="1509.6" font-size="24" fill="#141414" font-weight="normal" textLength="130.9" lengthAdjust="spacingAndGlyphs"  stroke="#141414" stroke-width="0.26">01/30/2026</text>
<path d="M862.3 1501.2H879.0M873.0 1494.8L879.4 1501.2L873.0 1507.6" fill="none" stroke="#141414" stroke-width="1.9" stroke-linejoin="miter"/>
<g transform="translate(20 1535) scale(0.125)">
<path d="M95 390C95 335 135 285 190 278C185 235 215 195 255 193C270 193 285 198 297 207C325 140 380 102 435 102C510 102 575 150 588 225C592 260 572 300 525 312C540 330 540 360 530 390Z" fill="#f38020"/>
<path d="M275 320H600" stroke="#fff" stroke-width="13" stroke-linecap="round" fill="none"/>
<path d="M588 225C592 260 572 300 525 312C540 330 540 360 530 390L548 390C560 355 590 335 640 330L625 312C600 308 585 285 592 255L600 228Z" fill="#fff"/>
<path d="M600 228C680 235 737 300 737 390L550 390C560 355 590 335 640 330L678 325C682 318 678 312 670 312L625 312C600 308 585 285 592 255Z" fill="#faad3f"/>
</g>

<text x="128.2" y="1583.5" font-size="36.5" fill="#000" font-weight="bold" textLength="183.9" lengthAdjust="spacingAndGlyphs" >Cloudflare</text>
<text x="321.2" y="1583.5" font-size="36.5" fill="#000" font-weight="normal" textLength="98.9" lengthAdjust="spacingAndGlyphs"  stroke="#000" stroke-width="0.40">Radar</text>
<text x="792.5" y="1579.0" font-size="32" fill="#595959" font-weight="normal" textLength="54.1" lengthAdjust="spacingAndGlyphs"  stroke="#595959" stroke-width="0.35">Jan</text><text x="854.0" y="1579.0" font-size="32" fill="#595959" font-weight="normal" textLength="23.0" lengthAdjust="spacingAndGlyphs"  stroke="#595959" stroke-width="0.35">1,</text><text x="886.5" y="1579.0" font-size="32" fill="#595959" font-weight="normal" textLength="85.5" lengthAdjust="spacingAndGlyphs"  stroke="#595959" stroke-width="0.35">2026,</text><text x="983.1" y="1579.0" font-size="32" fill="#595959" font-weight="normal" textLength="87.9" lengthAdjust="spacingAndGlyphs"  stroke="#595959" stroke-width="0.35">00:00</text><text x="1081.3" y="1579.0" font-size="32" fill="#595959" font-weight="normal" textLength="65.1" lengthAdjust="spacingAndGlyphs"  stroke="#595959" stroke-width="0.35">UTC</text><text x="1195.3" y="1579.0" font-size="32" fill="#595959" font-weight="normal" textLength="54.1" lengthAdjust="spacingAndGlyphs"  stroke="#595959" stroke-width="0.35">Jan</text><text x="1258.6" y="1579.0" font-size="32" fill="#595959" font-weight="normal" textLength="47.1" lengthAdjust="spacingAndGlyphs"  stroke="#595959" stroke-width="0.35">30,</text><text x="1316.2" y="1579.0" font-size="32" fill="#595959" font-weight="normal" textLength="84.5" lengthAdjust="spacingAndGlyphs"  stroke="#595959" stroke-width="0.35">2026,</text><text x="1408.9" y="1579.0" font-size="32" fill="#595959" font-weight="normal" textLength="82.9" lengthAdjust="spacingAndGlyphs"  stroke="#595959" stroke-width="0.35">13:45</text><text x="1501.9" y="1579.0" font-size="32" fill="#595959" font-weight="normal" textLength="65.3" lengthAdjust="spacingAndGlyphs"  stroke="#595959" stroke-width="0.35">UTC</text>
<path d="M1160.0 1567.8H1182.2M1174.2 1559.3L1182.7 1567.8L1174.2 1576.3" fill="none" stroke="#595959" stroke-width="2.5" stroke-linejoin="miter"/>
<g transform="translate(1400 1550) scale(0.125)" fill="none" stroke="#8fd5ee" stroke-linecap="round" stroke-linejoin="round" opacity="0.55">
<path d="M355 208L235 196C172 200 168 310 250 312L1120 312" stroke-width="44"/>
<path d="M405 250C405 298 480 298 480 250C480 298 565 298 565 250C565 298 650 298 650 250C650 298 735 298 735 250" stroke-width="34"/>
<circle cx="842" cy="245" r="52" stroke-width="38"/>
<path d="M892 275C885 345 850 378 818 384" stroke-width="36"/>
<path d="M1100 205C1140 230 1142 288 1120 312" stroke-width="44"/>
<path d="M830 368L1125 368" stroke-width="58" stroke-linecap="butt"/>
<path d="M175 380L770 380" stroke-width="14" opacity="0.6"/>
</g>
<g transform="translate(1400 1550) scale(0.125)">
<circle cx="1328" cy="290" r="113" fill="#86d3ee" opacity="0.85"/>
<path d="M1335 240A52 52 0 0 1 1335 345M1350 210A82 82 0 0 1 1325 360" stroke="#fff" stroke-width="16" fill="none" opacity="0.9"/>
</g>

</svg></body></html>
